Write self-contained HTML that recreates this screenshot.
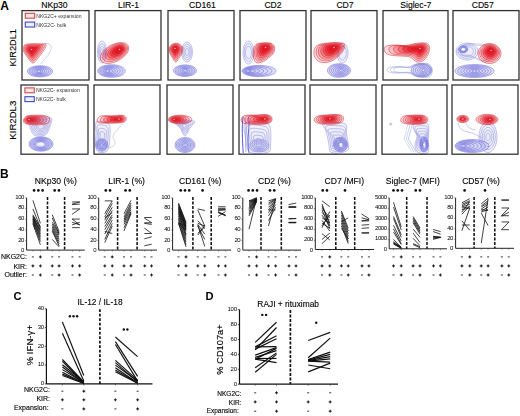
<!DOCTYPE html>
<html><head><meta charset="utf-8"><style>
html,body{margin:0;padding:0;background:#fff;width:520px;height:416px;overflow:hidden}
svg{display:block;font-family:"Liberation Sans", sans-serif}
</style></head><body>
<svg width="520" height="416" viewBox="0 0 520 416">
<defs>
<filter id="soft" x="-5%" y="-5%" width="110%" height="110%"><feGaussianBlur stdDeviation="0.35"/></filter>
</defs>
<rect width="520" height="416" fill="#fff"/>
<text x="0.3" y="9.7" font-size="12" font-weight="bold" fill="#000" >A</text>
<text x="54.4" y="7.6" font-size="8.6" text-anchor="middle" fill="#000" stroke="#000" stroke-width="0.12" >NKp30</text>
<text x="128.4" y="7.6" font-size="8.6" text-anchor="middle" fill="#000" stroke="#000" stroke-width="0.12" >LIR-1</text>
<text x="202.4" y="7.6" font-size="8.6" text-anchor="middle" fill="#000" stroke="#000" stroke-width="0.12" >CD161</text>
<text x="273" y="7.6" font-size="8.6" text-anchor="middle" fill="#000" stroke="#000" stroke-width="0.12" >CD2</text>
<text x="345" y="7.6" font-size="8.6" text-anchor="middle" fill="#000" stroke="#000" stroke-width="0.12" >CD7</text>
<text x="415.8" y="7.6" font-size="8.6" text-anchor="middle" fill="#000" stroke="#000" stroke-width="0.12" >Siglec-7</text>
<text x="482.7" y="7.6" font-size="8.6" text-anchor="middle" fill="#000" stroke="#000" stroke-width="0.12" >CD57</text>
<text x="0" y="0" font-size="9.6" text-anchor="middle" fill="#000" stroke="#000" stroke-width="0.12" transform="translate(15.7,47.8) rotate(-90)" textLength="37.3" lengthAdjust="spacingAndGlyphs">KIR2DL1</text>
<text x="0" y="0" font-size="9.6" text-anchor="middle" fill="#000" stroke="#000" stroke-width="0.12" transform="translate(15.8,120.2) rotate(-90)" textLength="39" lengthAdjust="spacingAndGlyphs">KIR2DL3</text>
<g filter="url(#soft)">
<path d="M44,44 C50,42 53,46 50,52 C47,58 43,60 41,64" fill="none" stroke="#a8b8e4" stroke-width="0.6"/>
<path d="M52.60,71.30 C52.60,72.23 51.96,73.29 50.91,74.10 C49.86,74.91 48.12,75.68 46.30,76.15 C44.48,76.62 42.10,76.90 40.00,76.90 C37.90,76.90 35.52,76.62 33.70,76.15 C31.88,75.68 30.14,74.91 29.09,74.10 C28.04,73.29 27.40,72.23 27.40,71.30 C27.40,70.37 28.04,69.31 29.09,68.50 C30.14,67.69 31.88,66.92 33.70,66.45 C35.52,65.98 37.90,65.70 40.00,65.70 C42.10,65.70 44.48,65.98 46.30,66.45 C48.12,66.92 49.86,67.69 50.91,68.50 C51.96,69.31 52.60,70.37 52.60,71.30Z" transform="translate(39.00,71.30) scale(1.000) translate(-39.00,-71.30)" fill="#9c9cea" fill-opacity="0.320" stroke="#5e5ed4" stroke-width="0.500"/>
<path d="M52.60,71.30 C52.60,72.23 51.96,73.29 50.91,74.10 C49.86,74.91 48.12,75.68 46.30,76.15 C44.48,76.62 42.10,76.90 40.00,76.90 C37.90,76.90 35.52,76.62 33.70,76.15 C31.88,75.68 30.14,74.91 29.09,74.10 C28.04,73.29 27.40,72.23 27.40,71.30 C27.40,70.37 28.04,69.31 29.09,68.50 C30.14,67.69 31.88,66.92 33.70,66.45 C35.52,65.98 37.90,65.70 40.00,65.70 C42.10,65.70 44.48,65.98 46.30,66.45 C48.12,66.92 49.86,67.69 50.91,68.50 C51.96,69.31 52.60,70.37 52.60,71.30Z" transform="translate(39.00,71.30) scale(0.858) translate(-39.00,-71.30)" fill="#9c9cea" fill-opacity="0.050" stroke="#5e5ed4" stroke-width="0.583"/>
<path d="M52.60,71.30 C52.60,72.23 51.96,73.29 50.91,74.10 C49.86,74.91 48.12,75.68 46.30,76.15 C44.48,76.62 42.10,76.90 40.00,76.90 C37.90,76.90 35.52,76.62 33.70,76.15 C31.88,75.68 30.14,74.91 29.09,74.10 C28.04,73.29 27.40,72.23 27.40,71.30 C27.40,70.37 28.04,69.31 29.09,68.50 C30.14,67.69 31.88,66.92 33.70,66.45 C35.52,65.98 37.90,65.70 40.00,65.70 C42.10,65.70 44.48,65.98 46.30,66.45 C48.12,66.92 49.86,67.69 50.91,68.50 C51.96,69.31 52.60,70.37 52.60,71.30Z" transform="translate(39.00,71.30) scale(0.717) translate(-39.00,-71.30)" fill="#9c9cea" fill-opacity="0.050" stroke="#5e5ed4" stroke-width="0.698"/>
<path d="M52.60,71.30 C52.60,72.23 51.96,73.29 50.91,74.10 C49.86,74.91 48.12,75.68 46.30,76.15 C44.48,76.62 42.10,76.90 40.00,76.90 C37.90,76.90 35.52,76.62 33.70,76.15 C31.88,75.68 30.14,74.91 29.09,74.10 C28.04,73.29 27.40,72.23 27.40,71.30 C27.40,70.37 28.04,69.31 29.09,68.50 C30.14,67.69 31.88,66.92 33.70,66.45 C35.52,65.98 37.90,65.70 40.00,65.70 C42.10,65.70 44.48,65.98 46.30,66.45 C48.12,66.92 49.86,67.69 50.91,68.50 C51.96,69.31 52.60,70.37 52.60,71.30Z" transform="translate(39.00,71.30) scale(0.575) translate(-39.00,-71.30)" fill="#9c9cea" fill-opacity="0.050" stroke="#5e5ed4" stroke-width="0.870"/>
<path d="M52.60,71.30 C52.60,72.23 51.96,73.29 50.91,74.10 C49.86,74.91 48.12,75.68 46.30,76.15 C44.48,76.62 42.10,76.90 40.00,76.90 C37.90,76.90 35.52,76.62 33.70,76.15 C31.88,75.68 30.14,74.91 29.09,74.10 C28.04,73.29 27.40,72.23 27.40,71.30 C27.40,70.37 28.04,69.31 29.09,68.50 C30.14,67.69 31.88,66.92 33.70,66.45 C35.52,65.98 37.90,65.70 40.00,65.70 C42.10,65.70 44.48,65.98 46.30,66.45 C48.12,66.92 49.86,67.69 50.91,68.50 C51.96,69.31 52.60,70.37 52.60,71.30Z" transform="translate(39.00,71.30) scale(0.433) translate(-39.00,-71.30)" fill="#9c9cea" fill-opacity="0.067" stroke="#5e5ed4" stroke-width="1.154"/>
<path d="M52.60,71.30 C52.60,72.23 51.96,73.29 50.91,74.10 C49.86,74.91 48.12,75.68 46.30,76.15 C44.48,76.62 42.10,76.90 40.00,76.90 C37.90,76.90 35.52,76.62 33.70,76.15 C31.88,75.68 30.14,74.91 29.09,74.10 C28.04,73.29 27.40,72.23 27.40,71.30 C27.40,70.37 28.04,69.31 29.09,68.50 C30.14,67.69 31.88,66.92 33.70,66.45 C35.52,65.98 37.90,65.70 40.00,65.70 C42.10,65.70 44.48,65.98 46.30,66.45 C48.12,66.92 49.86,67.69 50.91,68.50 C51.96,69.31 52.60,70.37 52.60,71.30Z" transform="translate(39.00,71.30) scale(0.292) translate(-39.00,-71.30)" fill="#9c9cea" fill-opacity="0.083" stroke="#5e5ed4" stroke-width="1.714"/>
<path d="M52.60,71.30 C52.60,72.23 51.96,73.29 50.91,74.10 C49.86,74.91 48.12,75.68 46.30,76.15 C44.48,76.62 42.10,76.90 40.00,76.90 C37.90,76.90 35.52,76.62 33.70,76.15 C31.88,75.68 30.14,74.91 29.09,74.10 C28.04,73.29 27.40,72.23 27.40,71.30 C27.40,70.37 28.04,69.31 29.09,68.50 C30.14,67.69 31.88,66.92 33.70,66.45 C35.52,65.98 37.90,65.70 40.00,65.70 C42.10,65.70 44.48,65.98 46.30,66.45 C48.12,66.92 49.86,67.69 50.91,68.50 C51.96,69.31 52.60,70.37 52.60,71.30Z" transform="translate(39.00,71.30) scale(0.150) translate(-39.00,-71.30)" fill="#9c9cea" fill-opacity="0.100" stroke="#5e5ed4" stroke-width="3.333"/>
<circle cx="39.00" cy="71.30" r="0.8" fill="#f4f4ff" opacity="0.85"/>
<path d="M24.00,45.50 C25.08,44.30 27.33,44.08 30.00,43.80 C32.67,43.52 37.33,43.68 40.00,43.80 C42.67,43.92 45.33,43.47 46.00,44.50 C46.67,45.53 45.33,47.75 44.00,50.00 C42.67,52.25 39.83,55.83 38.00,58.00 C36.17,60.17 34.67,63.00 33.00,63.00 C31.33,63.00 29.58,60.00 28.00,58.00 C26.42,56.00 24.17,53.08 23.50,51.00 C22.83,48.92 22.92,46.70 24.00,45.50Z" transform="translate(31.50,49.50) scale(1.000) translate(-31.50,-49.50)" fill="#e8121e" fill-opacity="0.130" stroke="#d41a24" stroke-width="0.500"/>
<path d="M24.00,45.50 C25.08,44.30 27.33,44.08 30.00,43.80 C32.67,43.52 37.33,43.68 40.00,43.80 C42.67,43.92 45.33,43.47 46.00,44.50 C46.67,45.53 45.33,47.75 44.00,50.00 C42.67,52.25 39.83,55.83 38.00,58.00 C36.17,60.17 34.67,63.00 33.00,63.00 C31.33,63.00 29.58,60.00 28.00,58.00 C26.42,56.00 24.17,53.08 23.50,51.00 C22.83,48.92 22.92,46.70 24.00,45.50Z" transform="translate(31.50,49.50) scale(0.871) translate(-31.50,-49.50)" fill="#e8121e" fill-opacity="0.130" stroke="#d41a24" stroke-width="0.574"/>
<path d="M24.00,45.50 C25.08,44.30 27.33,44.08 30.00,43.80 C32.67,43.52 37.33,43.68 40.00,43.80 C42.67,43.92 45.33,43.47 46.00,44.50 C46.67,45.53 45.33,47.75 44.00,50.00 C42.67,52.25 39.83,55.83 38.00,58.00 C36.17,60.17 34.67,63.00 33.00,63.00 C31.33,63.00 29.58,60.00 28.00,58.00 C26.42,56.00 24.17,53.08 23.50,51.00 C22.83,48.92 22.92,46.70 24.00,45.50Z" transform="translate(31.50,49.50) scale(0.743) translate(-31.50,-49.50)" fill="#e8121e" fill-opacity="0.237" stroke="#d41a24" stroke-width="0.673"/>
<path d="M24.00,45.50 C25.08,44.30 27.33,44.08 30.00,43.80 C32.67,43.52 37.33,43.68 40.00,43.80 C42.67,43.92 45.33,43.47 46.00,44.50 C46.67,45.53 45.33,47.75 44.00,50.00 C42.67,52.25 39.83,55.83 38.00,58.00 C36.17,60.17 34.67,63.00 33.00,63.00 C31.33,63.00 29.58,60.00 28.00,58.00 C26.42,56.00 24.17,53.08 23.50,51.00 C22.83,48.92 22.92,46.70 24.00,45.50Z" transform="translate(31.50,49.50) scale(0.614) translate(-31.50,-49.50)" fill="#e8121e" fill-opacity="0.350" stroke="#d41a24" stroke-width="0.814"/>
<path d="M24.00,45.50 C25.08,44.30 27.33,44.08 30.00,43.80 C32.67,43.52 37.33,43.68 40.00,43.80 C42.67,43.92 45.33,43.47 46.00,44.50 C46.67,45.53 45.33,47.75 44.00,50.00 C42.67,52.25 39.83,55.83 38.00,58.00 C36.17,60.17 34.67,63.00 33.00,63.00 C31.33,63.00 29.58,60.00 28.00,58.00 C26.42,56.00 24.17,53.08 23.50,51.00 C22.83,48.92 22.92,46.70 24.00,45.50Z" transform="translate(31.50,49.50) scale(0.486) translate(-31.50,-49.50)" fill="#e8121e" fill-opacity="0.462" stroke="#d41a24" stroke-width="1.029"/>
<path d="M24.00,45.50 C25.08,44.30 27.33,44.08 30.00,43.80 C32.67,43.52 37.33,43.68 40.00,43.80 C42.67,43.92 45.33,43.47 46.00,44.50 C46.67,45.53 45.33,47.75 44.00,50.00 C42.67,52.25 39.83,55.83 38.00,58.00 C36.17,60.17 34.67,63.00 33.00,63.00 C31.33,63.00 29.58,60.00 28.00,58.00 C26.42,56.00 24.17,53.08 23.50,51.00 C22.83,48.92 22.92,46.70 24.00,45.50Z" transform="translate(31.50,49.50) scale(0.357) translate(-31.50,-49.50)" fill="#e8121e" fill-opacity="0.575" stroke="#d41a24" stroke-width="1.400"/>
<path d="M24.00,45.50 C25.08,44.30 27.33,44.08 30.00,43.80 C32.67,43.52 37.33,43.68 40.00,43.80 C42.67,43.92 45.33,43.47 46.00,44.50 C46.67,45.53 45.33,47.75 44.00,50.00 C42.67,52.25 39.83,55.83 38.00,58.00 C36.17,60.17 34.67,63.00 33.00,63.00 C31.33,63.00 29.58,60.00 28.00,58.00 C26.42,56.00 24.17,53.08 23.50,51.00 C22.83,48.92 22.92,46.70 24.00,45.50Z" transform="translate(31.50,49.50) scale(0.229) translate(-31.50,-49.50)" fill="#e8121e" fill-opacity="0.687" stroke="#d41a24" stroke-width="2.187"/>
<path d="M24.00,45.50 C25.08,44.30 27.33,44.08 30.00,43.80 C32.67,43.52 37.33,43.68 40.00,43.80 C42.67,43.92 45.33,43.47 46.00,44.50 C46.67,45.53 45.33,47.75 44.00,50.00 C42.67,52.25 39.83,55.83 38.00,58.00 C36.17,60.17 34.67,63.00 33.00,63.00 C31.33,63.00 29.58,60.00 28.00,58.00 C26.42,56.00 24.17,53.08 23.50,51.00 C22.83,48.92 22.92,46.70 24.00,45.50Z" transform="translate(31.50,49.50) scale(0.100) translate(-31.50,-49.50)" fill="#e8121e" fill-opacity="0.800" stroke="#d41a24" stroke-width="5.000"/>
<circle cx="31.50" cy="49.50" r="0.8" fill="#ffc8c8" opacity="0.85"/>
<path d="M106.50,52.00 C106.50,53.83 106.27,55.91 105.90,57.50 C105.52,59.09 104.90,60.61 104.25,61.53 C103.60,62.44 102.75,63.00 102.00,63.00 C101.25,63.00 100.40,62.44 99.75,61.53 C99.10,60.61 98.48,59.09 98.10,57.50 C97.73,55.91 97.50,53.83 97.50,52.00 C97.50,50.17 97.73,48.09 98.10,46.50 C98.48,44.91 99.10,43.39 99.75,42.47 C100.40,41.56 101.25,41.00 102.00,41.00 C102.75,41.00 103.60,41.56 104.25,42.47 C104.90,43.39 105.52,44.91 105.90,46.50 C106.27,48.09 106.50,50.17 106.50,52.00Z" transform="translate(102.00,52.00) scale(1.000) translate(-102.00,-52.00)" fill="#b0b0ee" fill-opacity="0.160" stroke="#7a7ad8" stroke-width="0.450"/>
<path d="M106.50,52.00 C106.50,53.83 106.27,55.91 105.90,57.50 C105.52,59.09 104.90,60.61 104.25,61.53 C103.60,62.44 102.75,63.00 102.00,63.00 C101.25,63.00 100.40,62.44 99.75,61.53 C99.10,60.61 98.48,59.09 98.10,57.50 C97.73,55.91 97.50,53.83 97.50,52.00 C97.50,50.17 97.73,48.09 98.10,46.50 C98.48,44.91 99.10,43.39 99.75,42.47 C100.40,41.56 101.25,41.00 102.00,41.00 C102.75,41.00 103.60,41.56 104.25,42.47 C104.90,43.39 105.52,44.91 105.90,46.50 C106.27,48.09 106.50,50.17 106.50,52.00Z" transform="translate(102.00,52.00) scale(0.767) translate(-102.00,-52.00)" fill="#b0b0ee" fill-opacity="0.030" stroke="#7a7ad8" stroke-width="0.587"/>
<path d="M106.50,52.00 C106.50,53.83 106.27,55.91 105.90,57.50 C105.52,59.09 104.90,60.61 104.25,61.53 C103.60,62.44 102.75,63.00 102.00,63.00 C101.25,63.00 100.40,62.44 99.75,61.53 C99.10,60.61 98.48,59.09 98.10,57.50 C97.73,55.91 97.50,53.83 97.50,52.00 C97.50,50.17 97.73,48.09 98.10,46.50 C98.48,44.91 99.10,43.39 99.75,42.47 C100.40,41.56 101.25,41.00 102.00,41.00 C102.75,41.00 103.60,41.56 104.25,42.47 C104.90,43.39 105.52,44.91 105.90,46.50 C106.27,48.09 106.50,50.17 106.50,52.00Z" transform="translate(102.00,52.00) scale(0.533) translate(-102.00,-52.00)" fill="#b0b0ee" fill-opacity="0.037" stroke="#7a7ad8" stroke-width="0.844"/>
<path d="M106.50,52.00 C106.50,53.83 106.27,55.91 105.90,57.50 C105.52,59.09 104.90,60.61 104.25,61.53 C103.60,62.44 102.75,63.00 102.00,63.00 C101.25,63.00 100.40,62.44 99.75,61.53 C99.10,60.61 98.48,59.09 98.10,57.50 C97.73,55.91 97.50,53.83 97.50,52.00 C97.50,50.17 97.73,48.09 98.10,46.50 C98.48,44.91 99.10,43.39 99.75,42.47 C100.40,41.56 101.25,41.00 102.00,41.00 C102.75,41.00 103.60,41.56 104.25,42.47 C104.90,43.39 105.52,44.91 105.90,46.50 C106.27,48.09 106.50,50.17 106.50,52.00Z" transform="translate(102.00,52.00) scale(0.300) translate(-102.00,-52.00)" fill="#b0b0ee" fill-opacity="0.050" stroke="#7a7ad8" stroke-width="1.500"/>
<path d="M125.30,71.00 C125.30,72.05 124.60,73.24 123.45,74.15 C122.30,75.06 120.39,75.93 118.40,76.46 C116.41,76.98 113.80,77.30 111.50,77.30 C109.20,77.30 106.59,76.98 104.60,76.46 C102.61,75.93 100.70,75.06 99.55,74.15 C98.40,73.24 97.70,72.05 97.70,71.00 C97.70,69.95 98.40,68.76 99.55,67.85 C100.70,66.94 102.61,66.07 104.60,65.54 C106.59,65.02 109.20,64.70 111.50,64.70 C113.80,64.70 116.41,65.02 118.40,65.54 C120.39,66.07 122.30,66.94 123.45,67.85 C124.60,68.76 125.30,69.95 125.30,71.00Z" transform="translate(107.50,71.00) scale(1.000) translate(-107.50,-71.00)" fill="#9c9cea" fill-opacity="0.320" stroke="#5e5ed4" stroke-width="0.500"/>
<path d="M125.30,71.00 C125.30,72.05 124.60,73.24 123.45,74.15 C122.30,75.06 120.39,75.93 118.40,76.46 C116.41,76.98 113.80,77.30 111.50,77.30 C109.20,77.30 106.59,76.98 104.60,76.46 C102.61,75.93 100.70,75.06 99.55,74.15 C98.40,73.24 97.70,72.05 97.70,71.00 C97.70,69.95 98.40,68.76 99.55,67.85 C100.70,66.94 102.61,66.07 104.60,65.54 C106.59,65.02 109.20,64.70 111.50,64.70 C113.80,64.70 116.41,65.02 118.40,65.54 C120.39,66.07 122.30,66.94 123.45,67.85 C124.60,68.76 125.30,69.95 125.30,71.00Z" transform="translate(107.50,71.00) scale(0.858) translate(-107.50,-71.00)" fill="#9c9cea" fill-opacity="0.050" stroke="#5e5ed4" stroke-width="0.583"/>
<path d="M125.30,71.00 C125.30,72.05 124.60,73.24 123.45,74.15 C122.30,75.06 120.39,75.93 118.40,76.46 C116.41,76.98 113.80,77.30 111.50,77.30 C109.20,77.30 106.59,76.98 104.60,76.46 C102.61,75.93 100.70,75.06 99.55,74.15 C98.40,73.24 97.70,72.05 97.70,71.00 C97.70,69.95 98.40,68.76 99.55,67.85 C100.70,66.94 102.61,66.07 104.60,65.54 C106.59,65.02 109.20,64.70 111.50,64.70 C113.80,64.70 116.41,65.02 118.40,65.54 C120.39,66.07 122.30,66.94 123.45,67.85 C124.60,68.76 125.30,69.95 125.30,71.00Z" transform="translate(107.50,71.00) scale(0.717) translate(-107.50,-71.00)" fill="#9c9cea" fill-opacity="0.050" stroke="#5e5ed4" stroke-width="0.698"/>
<path d="M125.30,71.00 C125.30,72.05 124.60,73.24 123.45,74.15 C122.30,75.06 120.39,75.93 118.40,76.46 C116.41,76.98 113.80,77.30 111.50,77.30 C109.20,77.30 106.59,76.98 104.60,76.46 C102.61,75.93 100.70,75.06 99.55,74.15 C98.40,73.24 97.70,72.05 97.70,71.00 C97.70,69.95 98.40,68.76 99.55,67.85 C100.70,66.94 102.61,66.07 104.60,65.54 C106.59,65.02 109.20,64.70 111.50,64.70 C113.80,64.70 116.41,65.02 118.40,65.54 C120.39,66.07 122.30,66.94 123.45,67.85 C124.60,68.76 125.30,69.95 125.30,71.00Z" transform="translate(107.50,71.00) scale(0.575) translate(-107.50,-71.00)" fill="#9c9cea" fill-opacity="0.050" stroke="#5e5ed4" stroke-width="0.870"/>
<path d="M125.30,71.00 C125.30,72.05 124.60,73.24 123.45,74.15 C122.30,75.06 120.39,75.93 118.40,76.46 C116.41,76.98 113.80,77.30 111.50,77.30 C109.20,77.30 106.59,76.98 104.60,76.46 C102.61,75.93 100.70,75.06 99.55,74.15 C98.40,73.24 97.70,72.05 97.70,71.00 C97.70,69.95 98.40,68.76 99.55,67.85 C100.70,66.94 102.61,66.07 104.60,65.54 C106.59,65.02 109.20,64.70 111.50,64.70 C113.80,64.70 116.41,65.02 118.40,65.54 C120.39,66.07 122.30,66.94 123.45,67.85 C124.60,68.76 125.30,69.95 125.30,71.00Z" transform="translate(107.50,71.00) scale(0.433) translate(-107.50,-71.00)" fill="#9c9cea" fill-opacity="0.067" stroke="#5e5ed4" stroke-width="1.154"/>
<path d="M125.30,71.00 C125.30,72.05 124.60,73.24 123.45,74.15 C122.30,75.06 120.39,75.93 118.40,76.46 C116.41,76.98 113.80,77.30 111.50,77.30 C109.20,77.30 106.59,76.98 104.60,76.46 C102.61,75.93 100.70,75.06 99.55,74.15 C98.40,73.24 97.70,72.05 97.70,71.00 C97.70,69.95 98.40,68.76 99.55,67.85 C100.70,66.94 102.61,66.07 104.60,65.54 C106.59,65.02 109.20,64.70 111.50,64.70 C113.80,64.70 116.41,65.02 118.40,65.54 C120.39,66.07 122.30,66.94 123.45,67.85 C124.60,68.76 125.30,69.95 125.30,71.00Z" transform="translate(107.50,71.00) scale(0.292) translate(-107.50,-71.00)" fill="#9c9cea" fill-opacity="0.083" stroke="#5e5ed4" stroke-width="1.714"/>
<path d="M125.30,71.00 C125.30,72.05 124.60,73.24 123.45,74.15 C122.30,75.06 120.39,75.93 118.40,76.46 C116.41,76.98 113.80,77.30 111.50,77.30 C109.20,77.30 106.59,76.98 104.60,76.46 C102.61,75.93 100.70,75.06 99.55,74.15 C98.40,73.24 97.70,72.05 97.70,71.00 C97.70,69.95 98.40,68.76 99.55,67.85 C100.70,66.94 102.61,66.07 104.60,65.54 C106.59,65.02 109.20,64.70 111.50,64.70 C113.80,64.70 116.41,65.02 118.40,65.54 C120.39,66.07 122.30,66.94 123.45,67.85 C124.60,68.76 125.30,69.95 125.30,71.00Z" transform="translate(107.50,71.00) scale(0.150) translate(-107.50,-71.00)" fill="#9c9cea" fill-opacity="0.100" stroke="#5e5ed4" stroke-width="3.333"/>
<circle cx="107.50" cy="71.00" r="0.8" fill="#f4f4ff" opacity="0.85"/>
<path d="M128.19,45.72 C128.85,46.97 128.91,48.76 128.35,50.45 C127.78,52.14 126.44,54.19 124.80,55.86 C123.16,57.54 120.77,59.29 118.49,60.51 C116.21,61.72 113.42,62.71 111.11,63.14 C108.81,63.56 106.36,63.53 104.64,63.05 C102.93,62.58 101.48,61.53 100.81,60.28 C100.15,59.03 100.09,57.24 100.65,55.55 C101.22,53.86 102.56,51.81 104.20,50.14 C105.84,48.46 108.23,46.71 110.51,45.49 C112.79,44.28 115.58,43.29 117.89,42.86 C120.19,42.44 122.64,42.47 124.36,42.95 C126.07,43.42 127.52,44.47 128.19,45.72Z" transform="translate(119.50,49.50) scale(1.000) translate(-119.50,-49.50)" fill="#e8121e" fill-opacity="0.130" stroke="#d41a24" stroke-width="0.500"/>
<path d="M128.19,45.72 C128.85,46.97 128.91,48.76 128.35,50.45 C127.78,52.14 126.44,54.19 124.80,55.86 C123.16,57.54 120.77,59.29 118.49,60.51 C116.21,61.72 113.42,62.71 111.11,63.14 C108.81,63.56 106.36,63.53 104.64,63.05 C102.93,62.58 101.48,61.53 100.81,60.28 C100.15,59.03 100.09,57.24 100.65,55.55 C101.22,53.86 102.56,51.81 104.20,50.14 C105.84,48.46 108.23,46.71 110.51,45.49 C112.79,44.28 115.58,43.29 117.89,42.86 C120.19,42.44 122.64,42.47 124.36,42.95 C126.07,43.42 127.52,44.47 128.19,45.72Z" transform="translate(119.50,49.50) scale(0.874) translate(-119.50,-49.50)" fill="#e8121e" fill-opacity="0.130" stroke="#d41a24" stroke-width="0.572"/>
<path d="M128.19,45.72 C128.85,46.97 128.91,48.76 128.35,50.45 C127.78,52.14 126.44,54.19 124.80,55.86 C123.16,57.54 120.77,59.29 118.49,60.51 C116.21,61.72 113.42,62.71 111.11,63.14 C108.81,63.56 106.36,63.53 104.64,63.05 C102.93,62.58 101.48,61.53 100.81,60.28 C100.15,59.03 100.09,57.24 100.65,55.55 C101.22,53.86 102.56,51.81 104.20,50.14 C105.84,48.46 108.23,46.71 110.51,45.49 C112.79,44.28 115.58,43.29 117.89,42.86 C120.19,42.44 122.64,42.47 124.36,42.95 C126.07,43.42 127.52,44.47 128.19,45.72Z" transform="translate(119.50,49.50) scale(0.749) translate(-119.50,-49.50)" fill="#e8121e" fill-opacity="0.237" stroke="#d41a24" stroke-width="0.668"/>
<path d="M128.19,45.72 C128.85,46.97 128.91,48.76 128.35,50.45 C127.78,52.14 126.44,54.19 124.80,55.86 C123.16,57.54 120.77,59.29 118.49,60.51 C116.21,61.72 113.42,62.71 111.11,63.14 C108.81,63.56 106.36,63.53 104.64,63.05 C102.93,62.58 101.48,61.53 100.81,60.28 C100.15,59.03 100.09,57.24 100.65,55.55 C101.22,53.86 102.56,51.81 104.20,50.14 C105.84,48.46 108.23,46.71 110.51,45.49 C112.79,44.28 115.58,43.29 117.89,42.86 C120.19,42.44 122.64,42.47 124.36,42.95 C126.07,43.42 127.52,44.47 128.19,45.72Z" transform="translate(119.50,49.50) scale(0.623) translate(-119.50,-49.50)" fill="#e8121e" fill-opacity="0.350" stroke="#d41a24" stroke-width="0.803"/>
<path d="M128.19,45.72 C128.85,46.97 128.91,48.76 128.35,50.45 C127.78,52.14 126.44,54.19 124.80,55.86 C123.16,57.54 120.77,59.29 118.49,60.51 C116.21,61.72 113.42,62.71 111.11,63.14 C108.81,63.56 106.36,63.53 104.64,63.05 C102.93,62.58 101.48,61.53 100.81,60.28 C100.15,59.03 100.09,57.24 100.65,55.55 C101.22,53.86 102.56,51.81 104.20,50.14 C105.84,48.46 108.23,46.71 110.51,45.49 C112.79,44.28 115.58,43.29 117.89,42.86 C120.19,42.44 122.64,42.47 124.36,42.95 C126.07,43.42 127.52,44.47 128.19,45.72Z" transform="translate(119.50,49.50) scale(0.497) translate(-119.50,-49.50)" fill="#e8121e" fill-opacity="0.462" stroke="#d41a24" stroke-width="1.006"/>
<path d="M128.19,45.72 C128.85,46.97 128.91,48.76 128.35,50.45 C127.78,52.14 126.44,54.19 124.80,55.86 C123.16,57.54 120.77,59.29 118.49,60.51 C116.21,61.72 113.42,62.71 111.11,63.14 C108.81,63.56 106.36,63.53 104.64,63.05 C102.93,62.58 101.48,61.53 100.81,60.28 C100.15,59.03 100.09,57.24 100.65,55.55 C101.22,53.86 102.56,51.81 104.20,50.14 C105.84,48.46 108.23,46.71 110.51,45.49 C112.79,44.28 115.58,43.29 117.89,42.86 C120.19,42.44 122.64,42.47 124.36,42.95 C126.07,43.42 127.52,44.47 128.19,45.72Z" transform="translate(119.50,49.50) scale(0.371) translate(-119.50,-49.50)" fill="#e8121e" fill-opacity="0.575" stroke="#d41a24" stroke-width="1.346"/>
<path d="M128.19,45.72 C128.85,46.97 128.91,48.76 128.35,50.45 C127.78,52.14 126.44,54.19 124.80,55.86 C123.16,57.54 120.77,59.29 118.49,60.51 C116.21,61.72 113.42,62.71 111.11,63.14 C108.81,63.56 106.36,63.53 104.64,63.05 C102.93,62.58 101.48,61.53 100.81,60.28 C100.15,59.03 100.09,57.24 100.65,55.55 C101.22,53.86 102.56,51.81 104.20,50.14 C105.84,48.46 108.23,46.71 110.51,45.49 C112.79,44.28 115.58,43.29 117.89,42.86 C120.19,42.44 122.64,42.47 124.36,42.95 C126.07,43.42 127.52,44.47 128.19,45.72Z" transform="translate(119.50,49.50) scale(0.246) translate(-119.50,-49.50)" fill="#e8121e" fill-opacity="0.687" stroke="#d41a24" stroke-width="2.035"/>
<path d="M128.19,45.72 C128.85,46.97 128.91,48.76 128.35,50.45 C127.78,52.14 126.44,54.19 124.80,55.86 C123.16,57.54 120.77,59.29 118.49,60.51 C116.21,61.72 113.42,62.71 111.11,63.14 C108.81,63.56 106.36,63.53 104.64,63.05 C102.93,62.58 101.48,61.53 100.81,60.28 C100.15,59.03 100.09,57.24 100.65,55.55 C101.22,53.86 102.56,51.81 104.20,50.14 C105.84,48.46 108.23,46.71 110.51,45.49 C112.79,44.28 115.58,43.29 117.89,42.86 C120.19,42.44 122.64,42.47 124.36,42.95 C126.07,43.42 127.52,44.47 128.19,45.72Z" transform="translate(119.50,49.50) scale(0.120) translate(-119.50,-49.50)" fill="#e8121e" fill-opacity="0.800" stroke="#d41a24" stroke-width="4.167"/>
<circle cx="119.50" cy="49.50" r="0.8" fill="#ffc8c8" opacity="0.85"/>
<path d="M192.50,52.00 C192.50,53.67 192.22,55.56 191.76,57.00 C191.30,58.44 190.54,59.83 189.75,60.66 C188.96,61.49 187.92,62.00 187.00,62.00 C186.08,62.00 185.04,61.49 184.25,60.66 C183.46,59.83 182.70,58.44 182.24,57.00 C181.78,55.56 181.50,53.67 181.50,52.00 C181.50,50.33 181.78,48.44 182.24,47.00 C182.70,45.56 183.46,44.17 184.25,43.34 C185.04,42.51 186.08,42.00 187.00,42.00 C187.92,42.00 188.96,42.51 189.75,43.34 C190.54,44.17 191.30,45.56 191.76,47.00 C192.22,48.44 192.50,50.33 192.50,52.00Z" transform="translate(187.00,52.00) scale(1.000) translate(-187.00,-52.00)" fill="#b0b0ee" fill-opacity="0.160" stroke="#7a7ad8" stroke-width="0.450"/>
<path d="M192.50,52.00 C192.50,53.67 192.22,55.56 191.76,57.00 C191.30,58.44 190.54,59.83 189.75,60.66 C188.96,61.49 187.92,62.00 187.00,62.00 C186.08,62.00 185.04,61.49 184.25,60.66 C183.46,59.83 182.70,58.44 182.24,57.00 C181.78,55.56 181.50,53.67 181.50,52.00 C181.50,50.33 181.78,48.44 182.24,47.00 C182.70,45.56 183.46,44.17 184.25,43.34 C185.04,42.51 186.08,42.00 187.00,42.00 C187.92,42.00 188.96,42.51 189.75,43.34 C190.54,44.17 191.30,45.56 191.76,47.00 C192.22,48.44 192.50,50.33 192.50,52.00Z" transform="translate(187.00,52.00) scale(0.783) translate(-187.00,-52.00)" fill="#b0b0ee" fill-opacity="0.030" stroke="#7a7ad8" stroke-width="0.574"/>
<path d="M192.50,52.00 C192.50,53.67 192.22,55.56 191.76,57.00 C191.30,58.44 190.54,59.83 189.75,60.66 C188.96,61.49 187.92,62.00 187.00,62.00 C186.08,62.00 185.04,61.49 184.25,60.66 C183.46,59.83 182.70,58.44 182.24,57.00 C181.78,55.56 181.50,53.67 181.50,52.00 C181.50,50.33 181.78,48.44 182.24,47.00 C182.70,45.56 183.46,44.17 184.25,43.34 C185.04,42.51 186.08,42.00 187.00,42.00 C187.92,42.00 188.96,42.51 189.75,43.34 C190.54,44.17 191.30,45.56 191.76,47.00 C192.22,48.44 192.50,50.33 192.50,52.00Z" transform="translate(187.00,52.00) scale(0.567) translate(-187.00,-52.00)" fill="#b0b0ee" fill-opacity="0.037" stroke="#7a7ad8" stroke-width="0.794"/>
<path d="M192.50,52.00 C192.50,53.67 192.22,55.56 191.76,57.00 C191.30,58.44 190.54,59.83 189.75,60.66 C188.96,61.49 187.92,62.00 187.00,62.00 C186.08,62.00 185.04,61.49 184.25,60.66 C183.46,59.83 182.70,58.44 182.24,57.00 C181.78,55.56 181.50,53.67 181.50,52.00 C181.50,50.33 181.78,48.44 182.24,47.00 C182.70,45.56 183.46,44.17 184.25,43.34 C185.04,42.51 186.08,42.00 187.00,42.00 C187.92,42.00 188.96,42.51 189.75,43.34 C190.54,44.17 191.30,45.56 191.76,47.00 C192.22,48.44 192.50,50.33 192.50,52.00Z" transform="translate(187.00,52.00) scale(0.350) translate(-187.00,-52.00)" fill="#b0b0ee" fill-opacity="0.050" stroke="#7a7ad8" stroke-width="1.286"/>
<path d="M196.50,70.70 C196.50,71.67 195.92,72.76 194.96,73.60 C194.00,74.44 192.41,75.24 190.75,75.72 C189.09,76.21 186.92,76.50 185.00,76.50 C183.08,76.50 180.91,76.21 179.25,75.72 C177.59,75.24 176.00,74.44 175.04,73.60 C174.08,72.76 173.50,71.67 173.50,70.70 C173.50,69.73 174.08,68.64 175.04,67.80 C176.00,66.96 177.59,66.16 179.25,65.68 C180.91,65.19 183.08,64.90 185.00,64.90 C186.92,64.90 189.09,65.19 190.75,65.68 C192.41,66.16 194.00,66.96 194.96,67.80 C195.92,68.64 196.50,69.73 196.50,70.70Z" transform="translate(185.00,70.70) scale(1.000) translate(-185.00,-70.70)" fill="#9c9cea" fill-opacity="0.320" stroke="#5e5ed4" stroke-width="0.500"/>
<path d="M196.50,70.70 C196.50,71.67 195.92,72.76 194.96,73.60 C194.00,74.44 192.41,75.24 190.75,75.72 C189.09,76.21 186.92,76.50 185.00,76.50 C183.08,76.50 180.91,76.21 179.25,75.72 C177.59,75.24 176.00,74.44 175.04,73.60 C174.08,72.76 173.50,71.67 173.50,70.70 C173.50,69.73 174.08,68.64 175.04,67.80 C176.00,66.96 177.59,66.16 179.25,65.68 C180.91,65.19 183.08,64.90 185.00,64.90 C186.92,64.90 189.09,65.19 190.75,65.68 C192.41,66.16 194.00,66.96 194.96,67.80 C195.92,68.64 196.50,69.73 196.50,70.70Z" transform="translate(185.00,70.70) scale(0.853) translate(-185.00,-70.70)" fill="#9c9cea" fill-opacity="0.050" stroke="#5e5ed4" stroke-width="0.586"/>
<path d="M196.50,70.70 C196.50,71.67 195.92,72.76 194.96,73.60 C194.00,74.44 192.41,75.24 190.75,75.72 C189.09,76.21 186.92,76.50 185.00,76.50 C183.08,76.50 180.91,76.21 179.25,75.72 C177.59,75.24 176.00,74.44 175.04,73.60 C174.08,72.76 173.50,71.67 173.50,70.70 C173.50,69.73 174.08,68.64 175.04,67.80 C176.00,66.96 177.59,66.16 179.25,65.68 C180.91,65.19 183.08,64.90 185.00,64.90 C186.92,64.90 189.09,65.19 190.75,65.68 C192.41,66.16 194.00,66.96 194.96,67.80 C195.92,68.64 196.50,69.73 196.50,70.70Z" transform="translate(185.00,70.70) scale(0.707) translate(-185.00,-70.70)" fill="#9c9cea" fill-opacity="0.050" stroke="#5e5ed4" stroke-width="0.708"/>
<path d="M196.50,70.70 C196.50,71.67 195.92,72.76 194.96,73.60 C194.00,74.44 192.41,75.24 190.75,75.72 C189.09,76.21 186.92,76.50 185.00,76.50 C183.08,76.50 180.91,76.21 179.25,75.72 C177.59,75.24 176.00,74.44 175.04,73.60 C174.08,72.76 173.50,71.67 173.50,70.70 C173.50,69.73 174.08,68.64 175.04,67.80 C176.00,66.96 177.59,66.16 179.25,65.68 C180.91,65.19 183.08,64.90 185.00,64.90 C186.92,64.90 189.09,65.19 190.75,65.68 C192.41,66.16 194.00,66.96 194.96,67.80 C195.92,68.64 196.50,69.73 196.50,70.70Z" transform="translate(185.00,70.70) scale(0.560) translate(-185.00,-70.70)" fill="#9c9cea" fill-opacity="0.050" stroke="#5e5ed4" stroke-width="0.893"/>
<path d="M196.50,70.70 C196.50,71.67 195.92,72.76 194.96,73.60 C194.00,74.44 192.41,75.24 190.75,75.72 C189.09,76.21 186.92,76.50 185.00,76.50 C183.08,76.50 180.91,76.21 179.25,75.72 C177.59,75.24 176.00,74.44 175.04,73.60 C174.08,72.76 173.50,71.67 173.50,70.70 C173.50,69.73 174.08,68.64 175.04,67.80 C176.00,66.96 177.59,66.16 179.25,65.68 C180.91,65.19 183.08,64.90 185.00,64.90 C186.92,64.90 189.09,65.19 190.75,65.68 C192.41,66.16 194.00,66.96 194.96,67.80 C195.92,68.64 196.50,69.73 196.50,70.70Z" transform="translate(185.00,70.70) scale(0.413) translate(-185.00,-70.70)" fill="#9c9cea" fill-opacity="0.067" stroke="#5e5ed4" stroke-width="1.210"/>
<path d="M196.50,70.70 C196.50,71.67 195.92,72.76 194.96,73.60 C194.00,74.44 192.41,75.24 190.75,75.72 C189.09,76.21 186.92,76.50 185.00,76.50 C183.08,76.50 180.91,76.21 179.25,75.72 C177.59,75.24 176.00,74.44 175.04,73.60 C174.08,72.76 173.50,71.67 173.50,70.70 C173.50,69.73 174.08,68.64 175.04,67.80 C176.00,66.96 177.59,66.16 179.25,65.68 C180.91,65.19 183.08,64.90 185.00,64.90 C186.92,64.90 189.09,65.19 190.75,65.68 C192.41,66.16 194.00,66.96 194.96,67.80 C195.92,68.64 196.50,69.73 196.50,70.70Z" transform="translate(185.00,70.70) scale(0.267) translate(-185.00,-70.70)" fill="#9c9cea" fill-opacity="0.083" stroke="#5e5ed4" stroke-width="1.875"/>
<path d="M196.50,70.70 C196.50,71.67 195.92,72.76 194.96,73.60 C194.00,74.44 192.41,75.24 190.75,75.72 C189.09,76.21 186.92,76.50 185.00,76.50 C183.08,76.50 180.91,76.21 179.25,75.72 C177.59,75.24 176.00,74.44 175.04,73.60 C174.08,72.76 173.50,71.67 173.50,70.70 C173.50,69.73 174.08,68.64 175.04,67.80 C176.00,66.96 177.59,66.16 179.25,65.68 C180.91,65.19 183.08,64.90 185.00,64.90 C186.92,64.90 189.09,65.19 190.75,65.68 C192.41,66.16 194.00,66.96 194.96,67.80 C195.92,68.64 196.50,69.73 196.50,70.70Z" transform="translate(185.00,70.70) scale(0.120) translate(-185.00,-70.70)" fill="#9c9cea" fill-opacity="0.100" stroke="#5e5ed4" stroke-width="4.167"/>
<circle cx="185.00" cy="70.70" r="0.8" fill="#f4f4ff" opacity="0.85"/>
<path d="M169.50,47.00 C170.17,45.80 171.58,44.38 173.00,43.80 C174.42,43.22 176.42,42.97 178.00,43.50 C179.58,44.03 181.83,45.42 182.50,47.00 C183.17,48.58 182.67,51.00 182.00,53.00 C181.33,55.00 179.58,57.50 178.50,59.00 C177.42,60.50 176.58,62.33 175.50,62.00 C174.42,61.67 173.08,58.83 172.00,57.00 C170.92,55.17 169.42,52.67 169.00,51.00 C168.58,49.33 168.83,48.20 169.50,47.00Z" transform="translate(175.00,48.50) scale(1.000) translate(-175.00,-48.50)" fill="#e8121e" fill-opacity="0.130" stroke="#d41a24" stroke-width="0.500"/>
<path d="M169.50,47.00 C170.17,45.80 171.58,44.38 173.00,43.80 C174.42,43.22 176.42,42.97 178.00,43.50 C179.58,44.03 181.83,45.42 182.50,47.00 C183.17,48.58 182.67,51.00 182.00,53.00 C181.33,55.00 179.58,57.50 178.50,59.00 C177.42,60.50 176.58,62.33 175.50,62.00 C174.42,61.67 173.08,58.83 172.00,57.00 C170.92,55.17 169.42,52.67 169.00,51.00 C168.58,49.33 168.83,48.20 169.50,47.00Z" transform="translate(175.00,48.50) scale(0.871) translate(-175.00,-48.50)" fill="#e8121e" fill-opacity="0.130" stroke="#d41a24" stroke-width="0.574"/>
<path d="M169.50,47.00 C170.17,45.80 171.58,44.38 173.00,43.80 C174.42,43.22 176.42,42.97 178.00,43.50 C179.58,44.03 181.83,45.42 182.50,47.00 C183.17,48.58 182.67,51.00 182.00,53.00 C181.33,55.00 179.58,57.50 178.50,59.00 C177.42,60.50 176.58,62.33 175.50,62.00 C174.42,61.67 173.08,58.83 172.00,57.00 C170.92,55.17 169.42,52.67 169.00,51.00 C168.58,49.33 168.83,48.20 169.50,47.00Z" transform="translate(175.00,48.50) scale(0.743) translate(-175.00,-48.50)" fill="#e8121e" fill-opacity="0.237" stroke="#d41a24" stroke-width="0.673"/>
<path d="M169.50,47.00 C170.17,45.80 171.58,44.38 173.00,43.80 C174.42,43.22 176.42,42.97 178.00,43.50 C179.58,44.03 181.83,45.42 182.50,47.00 C183.17,48.58 182.67,51.00 182.00,53.00 C181.33,55.00 179.58,57.50 178.50,59.00 C177.42,60.50 176.58,62.33 175.50,62.00 C174.42,61.67 173.08,58.83 172.00,57.00 C170.92,55.17 169.42,52.67 169.00,51.00 C168.58,49.33 168.83,48.20 169.50,47.00Z" transform="translate(175.00,48.50) scale(0.614) translate(-175.00,-48.50)" fill="#e8121e" fill-opacity="0.350" stroke="#d41a24" stroke-width="0.814"/>
<path d="M169.50,47.00 C170.17,45.80 171.58,44.38 173.00,43.80 C174.42,43.22 176.42,42.97 178.00,43.50 C179.58,44.03 181.83,45.42 182.50,47.00 C183.17,48.58 182.67,51.00 182.00,53.00 C181.33,55.00 179.58,57.50 178.50,59.00 C177.42,60.50 176.58,62.33 175.50,62.00 C174.42,61.67 173.08,58.83 172.00,57.00 C170.92,55.17 169.42,52.67 169.00,51.00 C168.58,49.33 168.83,48.20 169.50,47.00Z" transform="translate(175.00,48.50) scale(0.486) translate(-175.00,-48.50)" fill="#e8121e" fill-opacity="0.462" stroke="#d41a24" stroke-width="1.029"/>
<path d="M169.50,47.00 C170.17,45.80 171.58,44.38 173.00,43.80 C174.42,43.22 176.42,42.97 178.00,43.50 C179.58,44.03 181.83,45.42 182.50,47.00 C183.17,48.58 182.67,51.00 182.00,53.00 C181.33,55.00 179.58,57.50 178.50,59.00 C177.42,60.50 176.58,62.33 175.50,62.00 C174.42,61.67 173.08,58.83 172.00,57.00 C170.92,55.17 169.42,52.67 169.00,51.00 C168.58,49.33 168.83,48.20 169.50,47.00Z" transform="translate(175.00,48.50) scale(0.357) translate(-175.00,-48.50)" fill="#e8121e" fill-opacity="0.575" stroke="#d41a24" stroke-width="1.400"/>
<path d="M169.50,47.00 C170.17,45.80 171.58,44.38 173.00,43.80 C174.42,43.22 176.42,42.97 178.00,43.50 C179.58,44.03 181.83,45.42 182.50,47.00 C183.17,48.58 182.67,51.00 182.00,53.00 C181.33,55.00 179.58,57.50 178.50,59.00 C177.42,60.50 176.58,62.33 175.50,62.00 C174.42,61.67 173.08,58.83 172.00,57.00 C170.92,55.17 169.42,52.67 169.00,51.00 C168.58,49.33 168.83,48.20 169.50,47.00Z" transform="translate(175.00,48.50) scale(0.229) translate(-175.00,-48.50)" fill="#e8121e" fill-opacity="0.687" stroke="#d41a24" stroke-width="2.187"/>
<path d="M169.50,47.00 C170.17,45.80 171.58,44.38 173.00,43.80 C174.42,43.22 176.42,42.97 178.00,43.50 C179.58,44.03 181.83,45.42 182.50,47.00 C183.17,48.58 182.67,51.00 182.00,53.00 C181.33,55.00 179.58,57.50 178.50,59.00 C177.42,60.50 176.58,62.33 175.50,62.00 C174.42,61.67 173.08,58.83 172.00,57.00 C170.92,55.17 169.42,52.67 169.00,51.00 C168.58,49.33 168.83,48.20 169.50,47.00Z" transform="translate(175.00,48.50) scale(0.100) translate(-175.00,-48.50)" fill="#e8121e" fill-opacity="0.800" stroke="#d41a24" stroke-width="5.000"/>
<circle cx="175.00" cy="48.50" r="0.8" fill="#ffc8c8" opacity="0.85"/>
<path d="M254.00,52.50 C254.00,54.42 253.72,56.59 253.26,58.25 C252.80,59.91 252.04,61.50 251.25,62.46 C250.46,63.42 249.42,64.00 248.50,64.00 C247.58,64.00 246.54,63.42 245.75,62.46 C244.96,61.50 244.20,59.91 243.74,58.25 C243.28,56.59 243.00,54.42 243.00,52.50 C243.00,50.58 243.28,48.41 243.74,46.75 C244.20,45.09 244.96,43.50 245.75,42.54 C246.54,41.58 247.58,41.00 248.50,41.00 C249.42,41.00 250.46,41.58 251.25,42.54 C252.04,43.50 252.80,45.09 253.26,46.75 C253.72,48.41 254.00,50.58 254.00,52.50Z" transform="translate(248.50,52.50) scale(1.000) translate(-248.50,-52.50)" fill="#b0b0ee" fill-opacity="0.160" stroke="#7a7ad8" stroke-width="0.450"/>
<path d="M254.00,52.50 C254.00,54.42 253.72,56.59 253.26,58.25 C252.80,59.91 252.04,61.50 251.25,62.46 C250.46,63.42 249.42,64.00 248.50,64.00 C247.58,64.00 246.54,63.42 245.75,62.46 C244.96,61.50 244.20,59.91 243.74,58.25 C243.28,56.59 243.00,54.42 243.00,52.50 C243.00,50.58 243.28,48.41 243.74,46.75 C244.20,45.09 244.96,43.50 245.75,42.54 C246.54,41.58 247.58,41.00 248.50,41.00 C249.42,41.00 250.46,41.58 251.25,42.54 C252.04,43.50 252.80,45.09 253.26,46.75 C253.72,48.41 254.00,50.58 254.00,52.50Z" transform="translate(248.50,52.50) scale(0.775) translate(-248.50,-52.50)" fill="#b0b0ee" fill-opacity="0.030" stroke="#7a7ad8" stroke-width="0.581"/>
<path d="M254.00,52.50 C254.00,54.42 253.72,56.59 253.26,58.25 C252.80,59.91 252.04,61.50 251.25,62.46 C250.46,63.42 249.42,64.00 248.50,64.00 C247.58,64.00 246.54,63.42 245.75,62.46 C244.96,61.50 244.20,59.91 243.74,58.25 C243.28,56.59 243.00,54.42 243.00,52.50 C243.00,50.58 243.28,48.41 243.74,46.75 C244.20,45.09 244.96,43.50 245.75,42.54 C246.54,41.58 247.58,41.00 248.50,41.00 C249.42,41.00 250.46,41.58 251.25,42.54 C252.04,43.50 252.80,45.09 253.26,46.75 C253.72,48.41 254.00,50.58 254.00,52.50Z" transform="translate(248.50,52.50) scale(0.550) translate(-248.50,-52.50)" fill="#b0b0ee" fill-opacity="0.050" stroke="#7a7ad8" stroke-width="0.818"/>
<path d="M276.00,71.00 C276.00,71.93 275.14,72.99 273.72,73.80 C272.31,74.61 269.95,75.38 267.50,75.85 C265.05,76.32 261.83,76.60 259.00,76.60 C256.17,76.60 252.95,76.32 250.50,75.85 C248.05,75.38 245.69,74.61 244.28,73.80 C242.86,72.99 242.00,71.93 242.00,71.00 C242.00,70.07 242.86,69.01 244.28,68.20 C245.69,67.39 248.05,66.62 250.50,66.15 C252.95,65.68 256.17,65.40 259.00,65.40 C261.83,65.40 265.05,65.68 267.50,66.15 C269.95,66.62 272.31,67.39 273.72,68.20 C275.14,69.01 276.00,70.07 276.00,71.00Z" transform="translate(248.00,71.00) scale(1.000) translate(-248.00,-71.00)" fill="#9c9cea" fill-opacity="0.320" stroke="#5e5ed4" stroke-width="0.500"/>
<path d="M276.00,71.00 C276.00,71.93 275.14,72.99 273.72,73.80 C272.31,74.61 269.95,75.38 267.50,75.85 C265.05,76.32 261.83,76.60 259.00,76.60 C256.17,76.60 252.95,76.32 250.50,75.85 C248.05,75.38 245.69,74.61 244.28,73.80 C242.86,72.99 242.00,71.93 242.00,71.00 C242.00,70.07 242.86,69.01 244.28,68.20 C245.69,67.39 248.05,66.62 250.50,66.15 C252.95,65.68 256.17,65.40 259.00,65.40 C261.83,65.40 265.05,65.68 267.50,66.15 C269.95,66.62 272.31,67.39 273.72,68.20 C275.14,69.01 276.00,70.07 276.00,71.00Z" transform="translate(248.00,71.00) scale(0.853) translate(-248.00,-71.00)" fill="#9c9cea" fill-opacity="0.050" stroke="#5e5ed4" stroke-width="0.586"/>
<path d="M276.00,71.00 C276.00,71.93 275.14,72.99 273.72,73.80 C272.31,74.61 269.95,75.38 267.50,75.85 C265.05,76.32 261.83,76.60 259.00,76.60 C256.17,76.60 252.95,76.32 250.50,75.85 C248.05,75.38 245.69,74.61 244.28,73.80 C242.86,72.99 242.00,71.93 242.00,71.00 C242.00,70.07 242.86,69.01 244.28,68.20 C245.69,67.39 248.05,66.62 250.50,66.15 C252.95,65.68 256.17,65.40 259.00,65.40 C261.83,65.40 265.05,65.68 267.50,66.15 C269.95,66.62 272.31,67.39 273.72,68.20 C275.14,69.01 276.00,70.07 276.00,71.00Z" transform="translate(248.00,71.00) scale(0.707) translate(-248.00,-71.00)" fill="#9c9cea" fill-opacity="0.050" stroke="#5e5ed4" stroke-width="0.708"/>
<path d="M276.00,71.00 C276.00,71.93 275.14,72.99 273.72,73.80 C272.31,74.61 269.95,75.38 267.50,75.85 C265.05,76.32 261.83,76.60 259.00,76.60 C256.17,76.60 252.95,76.32 250.50,75.85 C248.05,75.38 245.69,74.61 244.28,73.80 C242.86,72.99 242.00,71.93 242.00,71.00 C242.00,70.07 242.86,69.01 244.28,68.20 C245.69,67.39 248.05,66.62 250.50,66.15 C252.95,65.68 256.17,65.40 259.00,65.40 C261.83,65.40 265.05,65.68 267.50,66.15 C269.95,66.62 272.31,67.39 273.72,68.20 C275.14,69.01 276.00,70.07 276.00,71.00Z" transform="translate(248.00,71.00) scale(0.560) translate(-248.00,-71.00)" fill="#9c9cea" fill-opacity="0.050" stroke="#5e5ed4" stroke-width="0.893"/>
<path d="M276.00,71.00 C276.00,71.93 275.14,72.99 273.72,73.80 C272.31,74.61 269.95,75.38 267.50,75.85 C265.05,76.32 261.83,76.60 259.00,76.60 C256.17,76.60 252.95,76.32 250.50,75.85 C248.05,75.38 245.69,74.61 244.28,73.80 C242.86,72.99 242.00,71.93 242.00,71.00 C242.00,70.07 242.86,69.01 244.28,68.20 C245.69,67.39 248.05,66.62 250.50,66.15 C252.95,65.68 256.17,65.40 259.00,65.40 C261.83,65.40 265.05,65.68 267.50,66.15 C269.95,66.62 272.31,67.39 273.72,68.20 C275.14,69.01 276.00,70.07 276.00,71.00Z" transform="translate(248.00,71.00) scale(0.413) translate(-248.00,-71.00)" fill="#9c9cea" fill-opacity="0.067" stroke="#5e5ed4" stroke-width="1.210"/>
<path d="M276.00,71.00 C276.00,71.93 275.14,72.99 273.72,73.80 C272.31,74.61 269.95,75.38 267.50,75.85 C265.05,76.32 261.83,76.60 259.00,76.60 C256.17,76.60 252.95,76.32 250.50,75.85 C248.05,75.38 245.69,74.61 244.28,73.80 C242.86,72.99 242.00,71.93 242.00,71.00 C242.00,70.07 242.86,69.01 244.28,68.20 C245.69,67.39 248.05,66.62 250.50,66.15 C252.95,65.68 256.17,65.40 259.00,65.40 C261.83,65.40 265.05,65.68 267.50,66.15 C269.95,66.62 272.31,67.39 273.72,68.20 C275.14,69.01 276.00,70.07 276.00,71.00Z" transform="translate(248.00,71.00) scale(0.267) translate(-248.00,-71.00)" fill="#9c9cea" fill-opacity="0.083" stroke="#5e5ed4" stroke-width="1.875"/>
<path d="M276.00,71.00 C276.00,71.93 275.14,72.99 273.72,73.80 C272.31,74.61 269.95,75.38 267.50,75.85 C265.05,76.32 261.83,76.60 259.00,76.60 C256.17,76.60 252.95,76.32 250.50,75.85 C248.05,75.38 245.69,74.61 244.28,73.80 C242.86,72.99 242.00,71.93 242.00,71.00 C242.00,70.07 242.86,69.01 244.28,68.20 C245.69,67.39 248.05,66.62 250.50,66.15 C252.95,65.68 256.17,65.40 259.00,65.40 C261.83,65.40 265.05,65.68 267.50,66.15 C269.95,66.62 272.31,67.39 273.72,68.20 C275.14,69.01 276.00,70.07 276.00,71.00Z" transform="translate(248.00,71.00) scale(0.120) translate(-248.00,-71.00)" fill="#9c9cea" fill-opacity="0.100" stroke="#5e5ed4" stroke-width="4.167"/>
<circle cx="248.00" cy="71.00" r="0.8" fill="#f4f4ff" opacity="0.85"/>
<path d="M253.50,50.00 C253.92,47.92 254.42,45.70 256.00,44.50 C257.58,43.30 260.50,43.00 263.00,42.80 C265.50,42.60 269.08,42.60 271.00,43.30 C272.92,44.00 274.08,45.38 274.50,47.00 C274.92,48.62 274.50,51.17 273.50,53.00 C272.50,54.83 270.42,56.50 268.50,58.00 C266.58,59.50 264.08,61.25 262.00,62.00 C259.92,62.75 257.42,63.33 256.00,62.50 C254.58,61.67 253.92,59.08 253.50,57.00 C253.08,54.92 253.08,52.08 253.50,50.00Z" transform="translate(265.50,47.50) scale(1.000) translate(-265.50,-47.50)" fill="#e8121e" fill-opacity="0.130" stroke="#d41a24" stroke-width="0.500"/>
<path d="M253.50,50.00 C253.92,47.92 254.42,45.70 256.00,44.50 C257.58,43.30 260.50,43.00 263.00,42.80 C265.50,42.60 269.08,42.60 271.00,43.30 C272.92,44.00 274.08,45.38 274.50,47.00 C274.92,48.62 274.50,51.17 273.50,53.00 C272.50,54.83 270.42,56.50 268.50,58.00 C266.58,59.50 264.08,61.25 262.00,62.00 C259.92,62.75 257.42,63.33 256.00,62.50 C254.58,61.67 253.92,59.08 253.50,57.00 C253.08,54.92 253.08,52.08 253.50,50.00Z" transform="translate(265.50,47.50) scale(0.887) translate(-265.50,-47.50)" fill="#e8121e" fill-opacity="0.130" stroke="#d41a24" stroke-width="0.563"/>
<path d="M253.50,50.00 C253.92,47.92 254.42,45.70 256.00,44.50 C257.58,43.30 260.50,43.00 263.00,42.80 C265.50,42.60 269.08,42.60 271.00,43.30 C272.92,44.00 274.08,45.38 274.50,47.00 C274.92,48.62 274.50,51.17 273.50,53.00 C272.50,54.83 270.42,56.50 268.50,58.00 C266.58,59.50 264.08,61.25 262.00,62.00 C259.92,62.75 257.42,63.33 256.00,62.50 C254.58,61.67 253.92,59.08 253.50,57.00 C253.08,54.92 253.08,52.08 253.50,50.00Z" transform="translate(265.50,47.50) scale(0.775) translate(-265.50,-47.50)" fill="#e8121e" fill-opacity="0.172" stroke="#d41a24" stroke-width="0.645"/>
<path d="M253.50,50.00 C253.92,47.92 254.42,45.70 256.00,44.50 C257.58,43.30 260.50,43.00 263.00,42.80 C265.50,42.60 269.08,42.60 271.00,43.30 C272.92,44.00 274.08,45.38 274.50,47.00 C274.92,48.62 274.50,51.17 273.50,53.00 C272.50,54.83 270.42,56.50 268.50,58.00 C266.58,59.50 264.08,61.25 262.00,62.00 C259.92,62.75 257.42,63.33 256.00,62.50 C254.58,61.67 253.92,59.08 253.50,57.00 C253.08,54.92 253.08,52.08 253.50,50.00Z" transform="translate(265.50,47.50) scale(0.662) translate(-265.50,-47.50)" fill="#e8121e" fill-opacity="0.277" stroke="#d41a24" stroke-width="0.755"/>
<path d="M253.50,50.00 C253.92,47.92 254.42,45.70 256.00,44.50 C257.58,43.30 260.50,43.00 263.00,42.80 C265.50,42.60 269.08,42.60 271.00,43.30 C272.92,44.00 274.08,45.38 274.50,47.00 C274.92,48.62 274.50,51.17 273.50,53.00 C272.50,54.83 270.42,56.50 268.50,58.00 C266.58,59.50 264.08,61.25 262.00,62.00 C259.92,62.75 257.42,63.33 256.00,62.50 C254.58,61.67 253.92,59.08 253.50,57.00 C253.08,54.92 253.08,52.08 253.50,50.00Z" transform="translate(265.50,47.50) scale(0.550) translate(-265.50,-47.50)" fill="#e8121e" fill-opacity="0.381" stroke="#d41a24" stroke-width="0.909"/>
<path d="M253.50,50.00 C253.92,47.92 254.42,45.70 256.00,44.50 C257.58,43.30 260.50,43.00 263.00,42.80 C265.50,42.60 269.08,42.60 271.00,43.30 C272.92,44.00 274.08,45.38 274.50,47.00 C274.92,48.62 274.50,51.17 273.50,53.00 C272.50,54.83 270.42,56.50 268.50,58.00 C266.58,59.50 264.08,61.25 262.00,62.00 C259.92,62.75 257.42,63.33 256.00,62.50 C254.58,61.67 253.92,59.08 253.50,57.00 C253.08,54.92 253.08,52.08 253.50,50.00Z" transform="translate(265.50,47.50) scale(0.438) translate(-265.50,-47.50)" fill="#e8121e" fill-opacity="0.486" stroke="#d41a24" stroke-width="1.143"/>
<path d="M253.50,50.00 C253.92,47.92 254.42,45.70 256.00,44.50 C257.58,43.30 260.50,43.00 263.00,42.80 C265.50,42.60 269.08,42.60 271.00,43.30 C272.92,44.00 274.08,45.38 274.50,47.00 C274.92,48.62 274.50,51.17 273.50,53.00 C272.50,54.83 270.42,56.50 268.50,58.00 C266.58,59.50 264.08,61.25 262.00,62.00 C259.92,62.75 257.42,63.33 256.00,62.50 C254.58,61.67 253.92,59.08 253.50,57.00 C253.08,54.92 253.08,52.08 253.50,50.00Z" transform="translate(265.50,47.50) scale(0.325) translate(-265.50,-47.50)" fill="#e8121e" fill-opacity="0.591" stroke="#d41a24" stroke-width="1.538"/>
<path d="M253.50,50.00 C253.92,47.92 254.42,45.70 256.00,44.50 C257.58,43.30 260.50,43.00 263.00,42.80 C265.50,42.60 269.08,42.60 271.00,43.30 C272.92,44.00 274.08,45.38 274.50,47.00 C274.92,48.62 274.50,51.17 273.50,53.00 C272.50,54.83 270.42,56.50 268.50,58.00 C266.58,59.50 264.08,61.25 262.00,62.00 C259.92,62.75 257.42,63.33 256.00,62.50 C254.58,61.67 253.92,59.08 253.50,57.00 C253.08,54.92 253.08,52.08 253.50,50.00Z" transform="translate(265.50,47.50) scale(0.213) translate(-265.50,-47.50)" fill="#e8121e" fill-opacity="0.695" stroke="#d41a24" stroke-width="2.353"/>
<path d="M253.50,50.00 C253.92,47.92 254.42,45.70 256.00,44.50 C257.58,43.30 260.50,43.00 263.00,42.80 C265.50,42.60 269.08,42.60 271.00,43.30 C272.92,44.00 274.08,45.38 274.50,47.00 C274.92,48.62 274.50,51.17 273.50,53.00 C272.50,54.83 270.42,56.50 268.50,58.00 C266.58,59.50 264.08,61.25 262.00,62.00 C259.92,62.75 257.42,63.33 256.00,62.50 C254.58,61.67 253.92,59.08 253.50,57.00 C253.08,54.92 253.08,52.08 253.50,50.00Z" transform="translate(265.50,47.50) scale(0.100) translate(-265.50,-47.50)" fill="#e8121e" fill-opacity="0.800" stroke="#d41a24" stroke-width="5.000"/>
<circle cx="265.50" cy="47.50" r="0.8" fill="#ffc8c8" opacity="0.85"/>
<path d="M348.00,53.00 C348.00,54.67 347.72,56.56 347.26,58.00 C346.80,59.44 346.04,60.83 345.25,61.66 C344.46,62.49 343.42,63.00 342.50,63.00 C341.58,63.00 340.54,62.49 339.75,61.66 C338.96,60.83 338.20,59.44 337.74,58.00 C337.28,56.56 337.00,54.67 337.00,53.00 C337.00,51.33 337.28,49.44 337.74,48.00 C338.20,46.56 338.96,45.17 339.75,44.34 C340.54,43.51 341.58,43.00 342.50,43.00 C343.42,43.00 344.46,43.51 345.25,44.34 C346.04,45.17 346.80,46.56 347.26,48.00 C347.72,49.44 348.00,51.33 348.00,53.00Z" transform="translate(342.50,53.00) scale(1.000) translate(-342.50,-53.00)" fill="#b0b0ee" fill-opacity="0.160" stroke="#7a7ad8" stroke-width="0.450"/>
<path d="M348.00,53.00 C348.00,54.67 347.72,56.56 347.26,58.00 C346.80,59.44 346.04,60.83 345.25,61.66 C344.46,62.49 343.42,63.00 342.50,63.00 C341.58,63.00 340.54,62.49 339.75,61.66 C338.96,60.83 338.20,59.44 337.74,58.00 C337.28,56.56 337.00,54.67 337.00,53.00 C337.00,51.33 337.28,49.44 337.74,48.00 C338.20,46.56 338.96,45.17 339.75,44.34 C340.54,43.51 341.58,43.00 342.50,43.00 C343.42,43.00 344.46,43.51 345.25,44.34 C346.04,45.17 346.80,46.56 347.26,48.00 C347.72,49.44 348.00,51.33 348.00,53.00Z" transform="translate(342.50,53.00) scale(0.700) translate(-342.50,-53.00)" fill="#b0b0ee" fill-opacity="0.050" stroke="#7a7ad8" stroke-width="0.643"/>
<path d="M350.50,70.50 C350.50,71.63 349.92,72.92 348.96,73.90 C348.00,74.88 346.41,75.82 344.75,76.39 C343.09,76.96 340.92,77.30 339.00,77.30 C337.08,77.30 334.91,76.96 333.25,76.39 C331.59,75.82 330.00,74.88 329.04,73.90 C328.08,72.92 327.50,71.63 327.50,70.50 C327.50,69.37 328.08,68.08 329.04,67.10 C330.00,66.12 331.59,65.18 333.25,64.61 C334.91,64.04 337.08,63.70 339.00,63.70 C340.92,63.70 343.09,64.04 344.75,64.61 C346.41,65.18 348.00,66.12 348.96,67.10 C349.92,68.08 350.50,69.37 350.50,70.50Z" transform="translate(341.00,70.50) scale(1.000) translate(-341.00,-70.50)" fill="#9c9cea" fill-opacity="0.320" stroke="#5e5ed4" stroke-width="0.500"/>
<path d="M350.50,70.50 C350.50,71.63 349.92,72.92 348.96,73.90 C348.00,74.88 346.41,75.82 344.75,76.39 C343.09,76.96 340.92,77.30 339.00,77.30 C337.08,77.30 334.91,76.96 333.25,76.39 C331.59,75.82 330.00,74.88 329.04,73.90 C328.08,72.92 327.50,71.63 327.50,70.50 C327.50,69.37 328.08,68.08 329.04,67.10 C330.00,66.12 331.59,65.18 333.25,64.61 C334.91,64.04 337.08,63.70 339.00,63.70 C340.92,63.70 343.09,64.04 344.75,64.61 C346.41,65.18 348.00,66.12 348.96,67.10 C349.92,68.08 350.50,69.37 350.50,70.50Z" transform="translate(341.00,70.50) scale(0.853) translate(-341.00,-70.50)" fill="#9c9cea" fill-opacity="0.050" stroke="#5e5ed4" stroke-width="0.586"/>
<path d="M350.50,70.50 C350.50,71.63 349.92,72.92 348.96,73.90 C348.00,74.88 346.41,75.82 344.75,76.39 C343.09,76.96 340.92,77.30 339.00,77.30 C337.08,77.30 334.91,76.96 333.25,76.39 C331.59,75.82 330.00,74.88 329.04,73.90 C328.08,72.92 327.50,71.63 327.50,70.50 C327.50,69.37 328.08,68.08 329.04,67.10 C330.00,66.12 331.59,65.18 333.25,64.61 C334.91,64.04 337.08,63.70 339.00,63.70 C340.92,63.70 343.09,64.04 344.75,64.61 C346.41,65.18 348.00,66.12 348.96,67.10 C349.92,68.08 350.50,69.37 350.50,70.50Z" transform="translate(341.00,70.50) scale(0.707) translate(-341.00,-70.50)" fill="#9c9cea" fill-opacity="0.050" stroke="#5e5ed4" stroke-width="0.708"/>
<path d="M350.50,70.50 C350.50,71.63 349.92,72.92 348.96,73.90 C348.00,74.88 346.41,75.82 344.75,76.39 C343.09,76.96 340.92,77.30 339.00,77.30 C337.08,77.30 334.91,76.96 333.25,76.39 C331.59,75.82 330.00,74.88 329.04,73.90 C328.08,72.92 327.50,71.63 327.50,70.50 C327.50,69.37 328.08,68.08 329.04,67.10 C330.00,66.12 331.59,65.18 333.25,64.61 C334.91,64.04 337.08,63.70 339.00,63.70 C340.92,63.70 343.09,64.04 344.75,64.61 C346.41,65.18 348.00,66.12 348.96,67.10 C349.92,68.08 350.50,69.37 350.50,70.50Z" transform="translate(341.00,70.50) scale(0.560) translate(-341.00,-70.50)" fill="#9c9cea" fill-opacity="0.050" stroke="#5e5ed4" stroke-width="0.893"/>
<path d="M350.50,70.50 C350.50,71.63 349.92,72.92 348.96,73.90 C348.00,74.88 346.41,75.82 344.75,76.39 C343.09,76.96 340.92,77.30 339.00,77.30 C337.08,77.30 334.91,76.96 333.25,76.39 C331.59,75.82 330.00,74.88 329.04,73.90 C328.08,72.92 327.50,71.63 327.50,70.50 C327.50,69.37 328.08,68.08 329.04,67.10 C330.00,66.12 331.59,65.18 333.25,64.61 C334.91,64.04 337.08,63.70 339.00,63.70 C340.92,63.70 343.09,64.04 344.75,64.61 C346.41,65.18 348.00,66.12 348.96,67.10 C349.92,68.08 350.50,69.37 350.50,70.50Z" transform="translate(341.00,70.50) scale(0.413) translate(-341.00,-70.50)" fill="#9c9cea" fill-opacity="0.067" stroke="#5e5ed4" stroke-width="1.210"/>
<path d="M350.50,70.50 C350.50,71.63 349.92,72.92 348.96,73.90 C348.00,74.88 346.41,75.82 344.75,76.39 C343.09,76.96 340.92,77.30 339.00,77.30 C337.08,77.30 334.91,76.96 333.25,76.39 C331.59,75.82 330.00,74.88 329.04,73.90 C328.08,72.92 327.50,71.63 327.50,70.50 C327.50,69.37 328.08,68.08 329.04,67.10 C330.00,66.12 331.59,65.18 333.25,64.61 C334.91,64.04 337.08,63.70 339.00,63.70 C340.92,63.70 343.09,64.04 344.75,64.61 C346.41,65.18 348.00,66.12 348.96,67.10 C349.92,68.08 350.50,69.37 350.50,70.50Z" transform="translate(341.00,70.50) scale(0.267) translate(-341.00,-70.50)" fill="#9c9cea" fill-opacity="0.083" stroke="#5e5ed4" stroke-width="1.875"/>
<path d="M350.50,70.50 C350.50,71.63 349.92,72.92 348.96,73.90 C348.00,74.88 346.41,75.82 344.75,76.39 C343.09,76.96 340.92,77.30 339.00,77.30 C337.08,77.30 334.91,76.96 333.25,76.39 C331.59,75.82 330.00,74.88 329.04,73.90 C328.08,72.92 327.50,71.63 327.50,70.50 C327.50,69.37 328.08,68.08 329.04,67.10 C330.00,66.12 331.59,65.18 333.25,64.61 C334.91,64.04 337.08,63.70 339.00,63.70 C340.92,63.70 343.09,64.04 344.75,64.61 C346.41,65.18 348.00,66.12 348.96,67.10 C349.92,68.08 350.50,69.37 350.50,70.50Z" transform="translate(341.00,70.50) scale(0.120) translate(-341.00,-70.50)" fill="#9c9cea" fill-opacity="0.100" stroke="#5e5ed4" stroke-width="4.167"/>
<circle cx="341.00" cy="70.50" r="0.8" fill="#f4f4ff" opacity="0.85"/>
<path d="M314.00,51.00 C314.33,49.00 315.00,46.80 317.00,45.50 C319.00,44.20 322.50,43.68 326.00,43.20 C329.50,42.72 334.92,42.38 338.00,42.60 C341.08,42.82 343.67,43.10 344.50,44.50 C345.33,45.90 344.25,48.83 343.00,51.00 C341.75,53.17 339.33,55.67 337.00,57.50 C334.67,59.33 331.83,61.25 329.00,62.00 C326.17,62.75 322.33,62.75 320.00,62.00 C317.67,61.25 316.00,59.33 315.00,57.50 C314.00,55.67 313.67,53.00 314.00,51.00Z" transform="translate(334.00,47.50) scale(1.000) translate(-334.00,-47.50)" fill="#e8121e" fill-opacity="0.130" stroke="#d41a24" stroke-width="0.500"/>
<path d="M314.00,51.00 C314.33,49.00 315.00,46.80 317.00,45.50 C319.00,44.20 322.50,43.68 326.00,43.20 C329.50,42.72 334.92,42.38 338.00,42.60 C341.08,42.82 343.67,43.10 344.50,44.50 C345.33,45.90 344.25,48.83 343.00,51.00 C341.75,53.17 339.33,55.67 337.00,57.50 C334.67,59.33 331.83,61.25 329.00,62.00 C326.17,62.75 322.33,62.75 320.00,62.00 C317.67,61.25 316.00,59.33 315.00,57.50 C314.00,55.67 313.67,53.00 314.00,51.00Z" transform="translate(334.00,47.50) scale(0.887) translate(-334.00,-47.50)" fill="#e8121e" fill-opacity="0.130" stroke="#d41a24" stroke-width="0.563"/>
<path d="M314.00,51.00 C314.33,49.00 315.00,46.80 317.00,45.50 C319.00,44.20 322.50,43.68 326.00,43.20 C329.50,42.72 334.92,42.38 338.00,42.60 C341.08,42.82 343.67,43.10 344.50,44.50 C345.33,45.90 344.25,48.83 343.00,51.00 C341.75,53.17 339.33,55.67 337.00,57.50 C334.67,59.33 331.83,61.25 329.00,62.00 C326.17,62.75 322.33,62.75 320.00,62.00 C317.67,61.25 316.00,59.33 315.00,57.50 C314.00,55.67 313.67,53.00 314.00,51.00Z" transform="translate(334.00,47.50) scale(0.775) translate(-334.00,-47.50)" fill="#e8121e" fill-opacity="0.172" stroke="#d41a24" stroke-width="0.645"/>
<path d="M314.00,51.00 C314.33,49.00 315.00,46.80 317.00,45.50 C319.00,44.20 322.50,43.68 326.00,43.20 C329.50,42.72 334.92,42.38 338.00,42.60 C341.08,42.82 343.67,43.10 344.50,44.50 C345.33,45.90 344.25,48.83 343.00,51.00 C341.75,53.17 339.33,55.67 337.00,57.50 C334.67,59.33 331.83,61.25 329.00,62.00 C326.17,62.75 322.33,62.75 320.00,62.00 C317.67,61.25 316.00,59.33 315.00,57.50 C314.00,55.67 313.67,53.00 314.00,51.00Z" transform="translate(334.00,47.50) scale(0.662) translate(-334.00,-47.50)" fill="#e8121e" fill-opacity="0.277" stroke="#d41a24" stroke-width="0.755"/>
<path d="M314.00,51.00 C314.33,49.00 315.00,46.80 317.00,45.50 C319.00,44.20 322.50,43.68 326.00,43.20 C329.50,42.72 334.92,42.38 338.00,42.60 C341.08,42.82 343.67,43.10 344.50,44.50 C345.33,45.90 344.25,48.83 343.00,51.00 C341.75,53.17 339.33,55.67 337.00,57.50 C334.67,59.33 331.83,61.25 329.00,62.00 C326.17,62.75 322.33,62.75 320.00,62.00 C317.67,61.25 316.00,59.33 315.00,57.50 C314.00,55.67 313.67,53.00 314.00,51.00Z" transform="translate(334.00,47.50) scale(0.550) translate(-334.00,-47.50)" fill="#e8121e" fill-opacity="0.381" stroke="#d41a24" stroke-width="0.909"/>
<path d="M314.00,51.00 C314.33,49.00 315.00,46.80 317.00,45.50 C319.00,44.20 322.50,43.68 326.00,43.20 C329.50,42.72 334.92,42.38 338.00,42.60 C341.08,42.82 343.67,43.10 344.50,44.50 C345.33,45.90 344.25,48.83 343.00,51.00 C341.75,53.17 339.33,55.67 337.00,57.50 C334.67,59.33 331.83,61.25 329.00,62.00 C326.17,62.75 322.33,62.75 320.00,62.00 C317.67,61.25 316.00,59.33 315.00,57.50 C314.00,55.67 313.67,53.00 314.00,51.00Z" transform="translate(334.00,47.50) scale(0.438) translate(-334.00,-47.50)" fill="#e8121e" fill-opacity="0.486" stroke="#d41a24" stroke-width="1.143"/>
<path d="M314.00,51.00 C314.33,49.00 315.00,46.80 317.00,45.50 C319.00,44.20 322.50,43.68 326.00,43.20 C329.50,42.72 334.92,42.38 338.00,42.60 C341.08,42.82 343.67,43.10 344.50,44.50 C345.33,45.90 344.25,48.83 343.00,51.00 C341.75,53.17 339.33,55.67 337.00,57.50 C334.67,59.33 331.83,61.25 329.00,62.00 C326.17,62.75 322.33,62.75 320.00,62.00 C317.67,61.25 316.00,59.33 315.00,57.50 C314.00,55.67 313.67,53.00 314.00,51.00Z" transform="translate(334.00,47.50) scale(0.325) translate(-334.00,-47.50)" fill="#e8121e" fill-opacity="0.591" stroke="#d41a24" stroke-width="1.538"/>
<path d="M314.00,51.00 C314.33,49.00 315.00,46.80 317.00,45.50 C319.00,44.20 322.50,43.68 326.00,43.20 C329.50,42.72 334.92,42.38 338.00,42.60 C341.08,42.82 343.67,43.10 344.50,44.50 C345.33,45.90 344.25,48.83 343.00,51.00 C341.75,53.17 339.33,55.67 337.00,57.50 C334.67,59.33 331.83,61.25 329.00,62.00 C326.17,62.75 322.33,62.75 320.00,62.00 C317.67,61.25 316.00,59.33 315.00,57.50 C314.00,55.67 313.67,53.00 314.00,51.00Z" transform="translate(334.00,47.50) scale(0.213) translate(-334.00,-47.50)" fill="#e8121e" fill-opacity="0.695" stroke="#d41a24" stroke-width="2.353"/>
<path d="M314.00,51.00 C314.33,49.00 315.00,46.80 317.00,45.50 C319.00,44.20 322.50,43.68 326.00,43.20 C329.50,42.72 334.92,42.38 338.00,42.60 C341.08,42.82 343.67,43.10 344.50,44.50 C345.33,45.90 344.25,48.83 343.00,51.00 C341.75,53.17 339.33,55.67 337.00,57.50 C334.67,59.33 331.83,61.25 329.00,62.00 C326.17,62.75 322.33,62.75 320.00,62.00 C317.67,61.25 316.00,59.33 315.00,57.50 C314.00,55.67 313.67,53.00 314.00,51.00Z" transform="translate(334.00,47.50) scale(0.100) translate(-334.00,-47.50)" fill="#e8121e" fill-opacity="0.800" stroke="#d41a24" stroke-width="5.000"/>
<circle cx="334.00" cy="47.50" r="0.8" fill="#ffc8c8" opacity="0.85"/>
<path d="M388.00,68.00 C389.33,67.17 392.67,66.67 396.00,66.50 C399.33,66.33 404.67,67.42 408.00,67.00 C411.33,66.58 412.67,64.58 416.00,64.00 C419.33,63.42 425.33,62.67 428.00,63.50 C430.67,64.33 431.67,66.83 432.00,69.00 C432.33,71.17 432.33,75.17 430.00,76.50 C427.67,77.83 421.67,77.58 418.00,77.00 C414.33,76.42 411.67,73.67 408.00,73.00 C404.33,72.33 399.33,73.25 396.00,73.00 C392.67,72.75 389.33,72.33 388.00,71.50 C386.67,70.67 386.67,68.83 388.00,68.00Z" transform="translate(420.00,70.00) scale(1.000) translate(-420.00,-70.00)" fill="#ffffff" fill-opacity="0.000" stroke="#a0a8dc" stroke-width="0.550"/>
<path d="M388.00,68.00 C389.33,67.17 392.67,66.67 396.00,66.50 C399.33,66.33 404.67,67.42 408.00,67.00 C411.33,66.58 412.67,64.58 416.00,64.00 C419.33,63.42 425.33,62.67 428.00,63.50 C430.67,64.33 431.67,66.83 432.00,69.00 C432.33,71.17 432.33,75.17 430.00,76.50 C427.67,77.83 421.67,77.58 418.00,77.00 C414.33,76.42 411.67,73.67 408.00,73.00 C404.33,72.33 399.33,73.25 396.00,73.00 C392.67,72.75 389.33,72.33 388.00,71.50 C386.67,70.67 386.67,68.83 388.00,68.00Z" transform="translate(420.00,70.00) scale(0.900) translate(-420.00,-70.00)" fill="#ffffff" fill-opacity="0.000" stroke="#a0a8dc" stroke-width="0.611"/>
<path d="M388.00,68.00 C389.33,67.17 392.67,66.67 396.00,66.50 C399.33,66.33 404.67,67.42 408.00,67.00 C411.33,66.58 412.67,64.58 416.00,64.00 C419.33,63.42 425.33,62.67 428.00,63.50 C430.67,64.33 431.67,66.83 432.00,69.00 C432.33,71.17 432.33,75.17 430.00,76.50 C427.67,77.83 421.67,77.58 418.00,77.00 C414.33,76.42 411.67,73.67 408.00,73.00 C404.33,72.33 399.33,73.25 396.00,73.00 C392.67,72.75 389.33,72.33 388.00,71.50 C386.67,70.67 386.67,68.83 388.00,68.00Z" transform="translate(420.00,70.00) scale(0.800) translate(-420.00,-70.00)" fill="#ffffff" fill-opacity="0.000" stroke="#a0a8dc" stroke-width="0.688"/>
<path d="M432.00,70.20 C432.00,71.32 431.47,72.58 430.59,73.55 C429.72,74.52 428.27,75.44 426.75,76.00 C425.23,76.56 423.25,76.90 421.50,76.90 C419.75,76.90 417.77,76.56 416.25,76.00 C414.73,75.44 413.28,74.52 412.41,73.55 C411.53,72.58 411.00,71.32 411.00,70.20 C411.00,69.08 411.53,67.82 412.41,66.85 C413.28,65.88 414.73,64.96 416.25,64.40 C417.77,63.84 419.75,63.50 421.50,63.50 C423.25,63.50 425.23,63.84 426.75,64.40 C428.27,64.96 429.72,65.88 430.59,66.85 C431.47,67.82 432.00,69.08 432.00,70.20Z" transform="translate(423.50,70.20) scale(1.000) translate(-423.50,-70.20)" fill="#9c9cea" fill-opacity="0.320" stroke="#5e5ed4" stroke-width="0.500"/>
<path d="M432.00,70.20 C432.00,71.32 431.47,72.58 430.59,73.55 C429.72,74.52 428.27,75.44 426.75,76.00 C425.23,76.56 423.25,76.90 421.50,76.90 C419.75,76.90 417.77,76.56 416.25,76.00 C414.73,75.44 413.28,74.52 412.41,73.55 C411.53,72.58 411.00,71.32 411.00,70.20 C411.00,69.08 411.53,67.82 412.41,66.85 C413.28,65.88 414.73,64.96 416.25,64.40 C417.77,63.84 419.75,63.50 421.50,63.50 C423.25,63.50 425.23,63.84 426.75,64.40 C428.27,64.96 429.72,65.88 430.59,66.85 C431.47,67.82 432.00,69.08 432.00,70.20Z" transform="translate(423.50,70.20) scale(0.830) translate(-423.50,-70.20)" fill="#9c9cea" fill-opacity="0.050" stroke="#5e5ed4" stroke-width="0.602"/>
<path d="M432.00,70.20 C432.00,71.32 431.47,72.58 430.59,73.55 C429.72,74.52 428.27,75.44 426.75,76.00 C425.23,76.56 423.25,76.90 421.50,76.90 C419.75,76.90 417.77,76.56 416.25,76.00 C414.73,75.44 413.28,74.52 412.41,73.55 C411.53,72.58 411.00,71.32 411.00,70.20 C411.00,69.08 411.53,67.82 412.41,66.85 C413.28,65.88 414.73,64.96 416.25,64.40 C417.77,63.84 419.75,63.50 421.50,63.50 C423.25,63.50 425.23,63.84 426.75,64.40 C428.27,64.96 429.72,65.88 430.59,66.85 C431.47,67.82 432.00,69.08 432.00,70.20Z" transform="translate(423.50,70.20) scale(0.660) translate(-423.50,-70.20)" fill="#9c9cea" fill-opacity="0.050" stroke="#5e5ed4" stroke-width="0.758"/>
<path d="M432.00,70.20 C432.00,71.32 431.47,72.58 430.59,73.55 C429.72,74.52 428.27,75.44 426.75,76.00 C425.23,76.56 423.25,76.90 421.50,76.90 C419.75,76.90 417.77,76.56 416.25,76.00 C414.73,75.44 413.28,74.52 412.41,73.55 C411.53,72.58 411.00,71.32 411.00,70.20 C411.00,69.08 411.53,67.82 412.41,66.85 C413.28,65.88 414.73,64.96 416.25,64.40 C417.77,63.84 419.75,63.50 421.50,63.50 C423.25,63.50 425.23,63.84 426.75,64.40 C428.27,64.96 429.72,65.88 430.59,66.85 C431.47,67.82 432.00,69.08 432.00,70.20Z" transform="translate(423.50,70.20) scale(0.490) translate(-423.50,-70.20)" fill="#9c9cea" fill-opacity="0.060" stroke="#5e5ed4" stroke-width="1.020"/>
<path d="M432.00,70.20 C432.00,71.32 431.47,72.58 430.59,73.55 C429.72,74.52 428.27,75.44 426.75,76.00 C425.23,76.56 423.25,76.90 421.50,76.90 C419.75,76.90 417.77,76.56 416.25,76.00 C414.73,75.44 413.28,74.52 412.41,73.55 C411.53,72.58 411.00,71.32 411.00,70.20 C411.00,69.08 411.53,67.82 412.41,66.85 C413.28,65.88 414.73,64.96 416.25,64.40 C417.77,63.84 419.75,63.50 421.50,63.50 C423.25,63.50 425.23,63.84 426.75,64.40 C428.27,64.96 429.72,65.88 430.59,66.85 C431.47,67.82 432.00,69.08 432.00,70.20Z" transform="translate(423.50,70.20) scale(0.320) translate(-423.50,-70.20)" fill="#9c9cea" fill-opacity="0.080" stroke="#5e5ed4" stroke-width="1.563"/>
<path d="M432.00,70.20 C432.00,71.32 431.47,72.58 430.59,73.55 C429.72,74.52 428.27,75.44 426.75,76.00 C425.23,76.56 423.25,76.90 421.50,76.90 C419.75,76.90 417.77,76.56 416.25,76.00 C414.73,75.44 413.28,74.52 412.41,73.55 C411.53,72.58 411.00,71.32 411.00,70.20 C411.00,69.08 411.53,67.82 412.41,66.85 C413.28,65.88 414.73,64.96 416.25,64.40 C417.77,63.84 419.75,63.50 421.50,63.50 C423.25,63.50 425.23,63.84 426.75,64.40 C428.27,64.96 429.72,65.88 430.59,66.85 C431.47,67.82 432.00,69.08 432.00,70.20Z" transform="translate(423.50,70.20) scale(0.150) translate(-423.50,-70.20)" fill="#9c9cea" fill-opacity="0.100" stroke="#5e5ed4" stroke-width="3.333"/>
<circle cx="423.50" cy="70.20" r="0.8" fill="#f4f4ff" opacity="0.85"/>
<path d="M385.00,47.00 C386.33,45.83 389.67,45.25 393.00,45.00 C396.33,44.75 401.67,45.67 405.00,45.50 C408.33,45.33 410.17,44.45 413.00,44.00 C415.83,43.55 419.42,42.72 422.00,42.80 C424.58,42.88 427.33,42.97 428.50,44.50 C429.67,46.03 429.75,49.42 429.00,52.00 C428.25,54.58 426.00,58.33 424.00,60.00 C422.00,61.67 419.33,62.50 417.00,62.00 C414.67,61.50 412.83,58.00 410.00,57.00 C407.17,56.00 403.33,56.33 400.00,56.00 C396.67,55.67 392.50,55.67 390.00,55.00 C387.50,54.33 385.83,53.33 385.00,52.00 C384.17,50.67 383.67,48.17 385.00,47.00Z" transform="translate(420.00,48.50) scale(1.000) translate(-420.00,-48.50)" fill="#e8121e" fill-opacity="0.130" stroke="#d41a24" stroke-width="0.500"/>
<path d="M385.00,47.00 C386.33,45.83 389.67,45.25 393.00,45.00 C396.33,44.75 401.67,45.67 405.00,45.50 C408.33,45.33 410.17,44.45 413.00,44.00 C415.83,43.55 419.42,42.72 422.00,42.80 C424.58,42.88 427.33,42.97 428.50,44.50 C429.67,46.03 429.75,49.42 429.00,52.00 C428.25,54.58 426.00,58.33 424.00,60.00 C422.00,61.67 419.33,62.50 417.00,62.00 C414.67,61.50 412.83,58.00 410.00,57.00 C407.17,56.00 403.33,56.33 400.00,56.00 C396.67,55.67 392.50,55.67 390.00,55.00 C387.50,54.33 385.83,53.33 385.00,52.00 C384.17,50.67 383.67,48.17 385.00,47.00Z" transform="translate(420.00,48.50) scale(0.871) translate(-420.00,-48.50)" fill="#e8121e" fill-opacity="0.130" stroke="#d41a24" stroke-width="0.574"/>
<path d="M385.00,47.00 C386.33,45.83 389.67,45.25 393.00,45.00 C396.33,44.75 401.67,45.67 405.00,45.50 C408.33,45.33 410.17,44.45 413.00,44.00 C415.83,43.55 419.42,42.72 422.00,42.80 C424.58,42.88 427.33,42.97 428.50,44.50 C429.67,46.03 429.75,49.42 429.00,52.00 C428.25,54.58 426.00,58.33 424.00,60.00 C422.00,61.67 419.33,62.50 417.00,62.00 C414.67,61.50 412.83,58.00 410.00,57.00 C407.17,56.00 403.33,56.33 400.00,56.00 C396.67,55.67 392.50,55.67 390.00,55.00 C387.50,54.33 385.83,53.33 385.00,52.00 C384.17,50.67 383.67,48.17 385.00,47.00Z" transform="translate(420.00,48.50) scale(0.743) translate(-420.00,-48.50)" fill="#e8121e" fill-opacity="0.237" stroke="#d41a24" stroke-width="0.673"/>
<path d="M385.00,47.00 C386.33,45.83 389.67,45.25 393.00,45.00 C396.33,44.75 401.67,45.67 405.00,45.50 C408.33,45.33 410.17,44.45 413.00,44.00 C415.83,43.55 419.42,42.72 422.00,42.80 C424.58,42.88 427.33,42.97 428.50,44.50 C429.67,46.03 429.75,49.42 429.00,52.00 C428.25,54.58 426.00,58.33 424.00,60.00 C422.00,61.67 419.33,62.50 417.00,62.00 C414.67,61.50 412.83,58.00 410.00,57.00 C407.17,56.00 403.33,56.33 400.00,56.00 C396.67,55.67 392.50,55.67 390.00,55.00 C387.50,54.33 385.83,53.33 385.00,52.00 C384.17,50.67 383.67,48.17 385.00,47.00Z" transform="translate(420.00,48.50) scale(0.614) translate(-420.00,-48.50)" fill="#e8121e" fill-opacity="0.350" stroke="#d41a24" stroke-width="0.814"/>
<path d="M385.00,47.00 C386.33,45.83 389.67,45.25 393.00,45.00 C396.33,44.75 401.67,45.67 405.00,45.50 C408.33,45.33 410.17,44.45 413.00,44.00 C415.83,43.55 419.42,42.72 422.00,42.80 C424.58,42.88 427.33,42.97 428.50,44.50 C429.67,46.03 429.75,49.42 429.00,52.00 C428.25,54.58 426.00,58.33 424.00,60.00 C422.00,61.67 419.33,62.50 417.00,62.00 C414.67,61.50 412.83,58.00 410.00,57.00 C407.17,56.00 403.33,56.33 400.00,56.00 C396.67,55.67 392.50,55.67 390.00,55.00 C387.50,54.33 385.83,53.33 385.00,52.00 C384.17,50.67 383.67,48.17 385.00,47.00Z" transform="translate(420.00,48.50) scale(0.486) translate(-420.00,-48.50)" fill="#e8121e" fill-opacity="0.462" stroke="#d41a24" stroke-width="1.029"/>
<path d="M385.00,47.00 C386.33,45.83 389.67,45.25 393.00,45.00 C396.33,44.75 401.67,45.67 405.00,45.50 C408.33,45.33 410.17,44.45 413.00,44.00 C415.83,43.55 419.42,42.72 422.00,42.80 C424.58,42.88 427.33,42.97 428.50,44.50 C429.67,46.03 429.75,49.42 429.00,52.00 C428.25,54.58 426.00,58.33 424.00,60.00 C422.00,61.67 419.33,62.50 417.00,62.00 C414.67,61.50 412.83,58.00 410.00,57.00 C407.17,56.00 403.33,56.33 400.00,56.00 C396.67,55.67 392.50,55.67 390.00,55.00 C387.50,54.33 385.83,53.33 385.00,52.00 C384.17,50.67 383.67,48.17 385.00,47.00Z" transform="translate(420.00,48.50) scale(0.357) translate(-420.00,-48.50)" fill="#e8121e" fill-opacity="0.575" stroke="#d41a24" stroke-width="1.400"/>
<path d="M385.00,47.00 C386.33,45.83 389.67,45.25 393.00,45.00 C396.33,44.75 401.67,45.67 405.00,45.50 C408.33,45.33 410.17,44.45 413.00,44.00 C415.83,43.55 419.42,42.72 422.00,42.80 C424.58,42.88 427.33,42.97 428.50,44.50 C429.67,46.03 429.75,49.42 429.00,52.00 C428.25,54.58 426.00,58.33 424.00,60.00 C422.00,61.67 419.33,62.50 417.00,62.00 C414.67,61.50 412.83,58.00 410.00,57.00 C407.17,56.00 403.33,56.33 400.00,56.00 C396.67,55.67 392.50,55.67 390.00,55.00 C387.50,54.33 385.83,53.33 385.00,52.00 C384.17,50.67 383.67,48.17 385.00,47.00Z" transform="translate(420.00,48.50) scale(0.229) translate(-420.00,-48.50)" fill="#e8121e" fill-opacity="0.687" stroke="#d41a24" stroke-width="2.187"/>
<path d="M385.00,47.00 C386.33,45.83 389.67,45.25 393.00,45.00 C396.33,44.75 401.67,45.67 405.00,45.50 C408.33,45.33 410.17,44.45 413.00,44.00 C415.83,43.55 419.42,42.72 422.00,42.80 C424.58,42.88 427.33,42.97 428.50,44.50 C429.67,46.03 429.75,49.42 429.00,52.00 C428.25,54.58 426.00,58.33 424.00,60.00 C422.00,61.67 419.33,62.50 417.00,62.00 C414.67,61.50 412.83,58.00 410.00,57.00 C407.17,56.00 403.33,56.33 400.00,56.00 C396.67,55.67 392.50,55.67 390.00,55.00 C387.50,54.33 385.83,53.33 385.00,52.00 C384.17,50.67 383.67,48.17 385.00,47.00Z" transform="translate(420.00,48.50) scale(0.100) translate(-420.00,-48.50)" fill="#e8121e" fill-opacity="0.800" stroke="#d41a24" stroke-width="5.000"/>
<circle cx="420.00" cy="48.50" r="0.8" fill="#ffc8c8" opacity="0.85"/>
<path d="M478.00,51.50 C478.00,52.92 477.44,54.52 476.53,55.75 C475.61,56.98 474.09,58.15 472.50,58.86 C470.91,59.57 468.83,60.00 467.00,60.00 C465.17,60.00 463.09,59.57 461.50,58.86 C459.91,58.15 458.39,56.98 457.47,55.75 C456.56,54.52 456.00,52.92 456.00,51.50 C456.00,50.08 456.56,48.48 457.47,47.25 C458.39,46.02 459.91,44.85 461.50,44.14 C463.09,43.43 465.17,43.00 467.00,43.00 C468.83,43.00 470.91,43.43 472.50,44.14 C474.09,44.85 475.61,46.02 476.53,47.25 C477.44,48.48 478.00,50.08 478.00,51.50Z" transform="translate(467.00,51.50) scale(1.000) translate(-467.00,-51.50)" fill="#b0b0ee" fill-opacity="0.160" stroke="#7a7ad8" stroke-width="0.450"/>
<path d="M478.00,51.50 C478.00,52.92 477.44,54.52 476.53,55.75 C475.61,56.98 474.09,58.15 472.50,58.86 C470.91,59.57 468.83,60.00 467.00,60.00 C465.17,60.00 463.09,59.57 461.50,58.86 C459.91,58.15 458.39,56.98 457.47,55.75 C456.56,54.52 456.00,52.92 456.00,51.50 C456.00,50.08 456.56,48.48 457.47,47.25 C458.39,46.02 459.91,44.85 461.50,44.14 C463.09,43.43 465.17,43.00 467.00,43.00 C468.83,43.00 470.91,43.43 472.50,44.14 C474.09,44.85 475.61,46.02 476.53,47.25 C477.44,48.48 478.00,50.08 478.00,51.50Z" transform="translate(467.00,51.50) scale(0.800) translate(-467.00,-51.50)" fill="#b0b0ee" fill-opacity="0.030" stroke="#7a7ad8" stroke-width="0.562"/>
<path d="M478.00,51.50 C478.00,52.92 477.44,54.52 476.53,55.75 C475.61,56.98 474.09,58.15 472.50,58.86 C470.91,59.57 468.83,60.00 467.00,60.00 C465.17,60.00 463.09,59.57 461.50,58.86 C459.91,58.15 458.39,56.98 457.47,55.75 C456.56,54.52 456.00,52.92 456.00,51.50 C456.00,50.08 456.56,48.48 457.47,47.25 C458.39,46.02 459.91,44.85 461.50,44.14 C463.09,43.43 465.17,43.00 467.00,43.00 C468.83,43.00 470.91,43.43 472.50,44.14 C474.09,44.85 475.61,46.02 476.53,47.25 C477.44,48.48 478.00,50.08 478.00,51.50Z" transform="translate(467.00,51.50) scale(0.600) translate(-467.00,-51.50)" fill="#b0b0ee" fill-opacity="0.050" stroke="#7a7ad8" stroke-width="0.750"/>
<path d="M467.80,49.30 C467.80,49.90 467.57,50.58 467.18,51.10 C466.80,51.62 466.16,52.12 465.50,52.42 C464.84,52.72 463.97,52.90 463.20,52.90 C462.43,52.90 461.56,52.72 460.90,52.42 C460.24,52.12 459.60,51.62 459.22,51.10 C458.83,50.58 458.60,49.90 458.60,49.30 C458.60,48.70 458.83,48.02 459.22,47.50 C459.60,46.98 460.24,46.48 460.90,46.18 C461.56,45.88 462.43,45.70 463.20,45.70 C463.97,45.70 464.84,45.88 465.50,46.18 C466.16,46.48 466.80,46.98 467.18,47.50 C467.57,48.02 467.80,48.70 467.80,49.30Z" transform="translate(463.20,49.30) scale(1.000) translate(-463.20,-49.30)" fill="#9c9cea" fill-opacity="0.320" stroke="#5e5ed4" stroke-width="0.500"/>
<path d="M467.80,49.30 C467.80,49.90 467.57,50.58 467.18,51.10 C466.80,51.62 466.16,52.12 465.50,52.42 C464.84,52.72 463.97,52.90 463.20,52.90 C462.43,52.90 461.56,52.72 460.90,52.42 C460.24,52.12 459.60,51.62 459.22,51.10 C458.83,50.58 458.60,49.90 458.60,49.30 C458.60,48.70 458.83,48.02 459.22,47.50 C459.60,46.98 460.24,46.48 460.90,46.18 C461.56,45.88 462.43,45.70 463.20,45.70 C463.97,45.70 464.84,45.88 465.50,46.18 C466.16,46.48 466.80,46.98 467.18,47.50 C467.57,48.02 467.80,48.70 467.80,49.30Z" transform="translate(463.20,49.30) scale(0.850) translate(-463.20,-49.30)" fill="#9c9cea" fill-opacity="0.050" stroke="#5e5ed4" stroke-width="0.588"/>
<path d="M467.80,49.30 C467.80,49.90 467.57,50.58 467.18,51.10 C466.80,51.62 466.16,52.12 465.50,52.42 C464.84,52.72 463.97,52.90 463.20,52.90 C462.43,52.90 461.56,52.72 460.90,52.42 C460.24,52.12 459.60,51.62 459.22,51.10 C458.83,50.58 458.60,49.90 458.60,49.30 C458.60,48.70 458.83,48.02 459.22,47.50 C459.60,46.98 460.24,46.48 460.90,46.18 C461.56,45.88 462.43,45.70 463.20,45.70 C463.97,45.70 464.84,45.88 465.50,46.18 C466.16,46.48 466.80,46.98 467.18,47.50 C467.57,48.02 467.80,48.70 467.80,49.30Z" transform="translate(463.20,49.30) scale(0.700) translate(-463.20,-49.30)" fill="#9c9cea" fill-opacity="0.067" stroke="#5e5ed4" stroke-width="0.714"/>
<path d="M467.80,49.30 C467.80,49.90 467.57,50.58 467.18,51.10 C466.80,51.62 466.16,52.12 465.50,52.42 C464.84,52.72 463.97,52.90 463.20,52.90 C462.43,52.90 461.56,52.72 460.90,52.42 C460.24,52.12 459.60,51.62 459.22,51.10 C458.83,50.58 458.60,49.90 458.60,49.30 C458.60,48.70 458.83,48.02 459.22,47.50 C459.60,46.98 460.24,46.48 460.90,46.18 C461.56,45.88 462.43,45.70 463.20,45.70 C463.97,45.70 464.84,45.88 465.50,46.18 C466.16,46.48 466.80,46.98 467.18,47.50 C467.57,48.02 467.80,48.70 467.80,49.30Z" transform="translate(463.20,49.30) scale(0.550) translate(-463.20,-49.30)" fill="#9c9cea" fill-opacity="0.100" stroke="#5e5ed4" stroke-width="0.909"/>
<circle cx="463.20" cy="49.30" r="0.8" fill="#f4f4ff" opacity="0.85"/>
<ellipse cx="463.2" cy="49.3" rx="1.8" ry="1.3" fill="#fff" opacity="0.8"/>
<path d="M466.00,44.00 C469.50,43.00 474.00,43.67 478.00,44.00 C482.00,44.33 487.67,44.00 490.00,46.00 C492.33,48.00 492.83,53.33 492.00,56.00 C491.17,58.67 488.67,62.00 485.00,62.00 C481.33,62.00 474.17,57.17 470.00,56.00 C465.83,54.83 462.17,56.00 460.00,55.00 C457.83,54.00 456.00,51.83 457.00,50.00 C458.00,48.17 462.50,45.00 466.00,44.00Z" transform="translate(472.00,52.00) scale(1.000) translate(-472.00,-52.00)" fill="#ffffff" fill-opacity="0.000" stroke="#a0a8dc" stroke-width="0.550"/>
<path d="M466.00,44.00 C469.50,43.00 474.00,43.67 478.00,44.00 C482.00,44.33 487.67,44.00 490.00,46.00 C492.33,48.00 492.83,53.33 492.00,56.00 C491.17,58.67 488.67,62.00 485.00,62.00 C481.33,62.00 474.17,57.17 470.00,56.00 C465.83,54.83 462.17,56.00 460.00,55.00 C457.83,54.00 456.00,51.83 457.00,50.00 C458.00,48.17 462.50,45.00 466.00,44.00Z" transform="translate(472.00,52.00) scale(0.850) translate(-472.00,-52.00)" fill="#ffffff" fill-opacity="0.000" stroke="#a0a8dc" stroke-width="0.647"/>
<path d="M494.00,71.00 C494.00,72.08 493.01,73.31 491.39,74.25 C489.76,75.19 487.06,76.09 484.25,76.63 C481.44,77.17 477.75,77.50 474.50,77.50 C471.25,77.50 467.56,77.17 464.75,76.63 C461.94,76.09 459.24,75.19 457.61,74.25 C455.99,73.31 455.00,72.08 455.00,71.00 C455.00,69.92 455.99,68.69 457.61,67.75 C459.24,66.81 461.94,65.91 464.75,65.37 C467.56,64.83 471.25,64.50 474.50,64.50 C477.75,64.50 481.44,64.83 484.25,65.37 C487.06,65.91 489.76,66.81 491.39,67.75 C493.01,68.69 494.00,69.92 494.00,71.00Z" transform="translate(474.50,71.00) scale(1.000) translate(-474.50,-71.00)" fill="#9c9cea" fill-opacity="0.320" stroke="#5e5ed4" stroke-width="0.500"/>
<path d="M494.00,71.00 C494.00,72.08 493.01,73.31 491.39,74.25 C489.76,75.19 487.06,76.09 484.25,76.63 C481.44,77.17 477.75,77.50 474.50,77.50 C471.25,77.50 467.56,77.17 464.75,76.63 C461.94,76.09 459.24,75.19 457.61,74.25 C455.99,73.31 455.00,72.08 455.00,71.00 C455.00,69.92 455.99,68.69 457.61,67.75 C459.24,66.81 461.94,65.91 464.75,65.37 C467.56,64.83 471.25,64.50 474.50,64.50 C477.75,64.50 481.44,64.83 484.25,65.37 C487.06,65.91 489.76,66.81 491.39,67.75 C493.01,68.69 494.00,69.92 494.00,71.00Z" transform="translate(474.50,71.00) scale(0.853) translate(-474.50,-71.00)" fill="#9c9cea" fill-opacity="0.050" stroke="#5e5ed4" stroke-width="0.586"/>
<path d="M494.00,71.00 C494.00,72.08 493.01,73.31 491.39,74.25 C489.76,75.19 487.06,76.09 484.25,76.63 C481.44,77.17 477.75,77.50 474.50,77.50 C471.25,77.50 467.56,77.17 464.75,76.63 C461.94,76.09 459.24,75.19 457.61,74.25 C455.99,73.31 455.00,72.08 455.00,71.00 C455.00,69.92 455.99,68.69 457.61,67.75 C459.24,66.81 461.94,65.91 464.75,65.37 C467.56,64.83 471.25,64.50 474.50,64.50 C477.75,64.50 481.44,64.83 484.25,65.37 C487.06,65.91 489.76,66.81 491.39,67.75 C493.01,68.69 494.00,69.92 494.00,71.00Z" transform="translate(474.50,71.00) scale(0.707) translate(-474.50,-71.00)" fill="#9c9cea" fill-opacity="0.050" stroke="#5e5ed4" stroke-width="0.708"/>
<path d="M494.00,71.00 C494.00,72.08 493.01,73.31 491.39,74.25 C489.76,75.19 487.06,76.09 484.25,76.63 C481.44,77.17 477.75,77.50 474.50,77.50 C471.25,77.50 467.56,77.17 464.75,76.63 C461.94,76.09 459.24,75.19 457.61,74.25 C455.99,73.31 455.00,72.08 455.00,71.00 C455.00,69.92 455.99,68.69 457.61,67.75 C459.24,66.81 461.94,65.91 464.75,65.37 C467.56,64.83 471.25,64.50 474.50,64.50 C477.75,64.50 481.44,64.83 484.25,65.37 C487.06,65.91 489.76,66.81 491.39,67.75 C493.01,68.69 494.00,69.92 494.00,71.00Z" transform="translate(474.50,71.00) scale(0.560) translate(-474.50,-71.00)" fill="#9c9cea" fill-opacity="0.050" stroke="#5e5ed4" stroke-width="0.893"/>
<path d="M494.00,71.00 C494.00,72.08 493.01,73.31 491.39,74.25 C489.76,75.19 487.06,76.09 484.25,76.63 C481.44,77.17 477.75,77.50 474.50,77.50 C471.25,77.50 467.56,77.17 464.75,76.63 C461.94,76.09 459.24,75.19 457.61,74.25 C455.99,73.31 455.00,72.08 455.00,71.00 C455.00,69.92 455.99,68.69 457.61,67.75 C459.24,66.81 461.94,65.91 464.75,65.37 C467.56,64.83 471.25,64.50 474.50,64.50 C477.75,64.50 481.44,64.83 484.25,65.37 C487.06,65.91 489.76,66.81 491.39,67.75 C493.01,68.69 494.00,69.92 494.00,71.00Z" transform="translate(474.50,71.00) scale(0.413) translate(-474.50,-71.00)" fill="#9c9cea" fill-opacity="0.067" stroke="#5e5ed4" stroke-width="1.210"/>
<path d="M494.00,71.00 C494.00,72.08 493.01,73.31 491.39,74.25 C489.76,75.19 487.06,76.09 484.25,76.63 C481.44,77.17 477.75,77.50 474.50,77.50 C471.25,77.50 467.56,77.17 464.75,76.63 C461.94,76.09 459.24,75.19 457.61,74.25 C455.99,73.31 455.00,72.08 455.00,71.00 C455.00,69.92 455.99,68.69 457.61,67.75 C459.24,66.81 461.94,65.91 464.75,65.37 C467.56,64.83 471.25,64.50 474.50,64.50 C477.75,64.50 481.44,64.83 484.25,65.37 C487.06,65.91 489.76,66.81 491.39,67.75 C493.01,68.69 494.00,69.92 494.00,71.00Z" transform="translate(474.50,71.00) scale(0.267) translate(-474.50,-71.00)" fill="#9c9cea" fill-opacity="0.083" stroke="#5e5ed4" stroke-width="1.875"/>
<path d="M494.00,71.00 C494.00,72.08 493.01,73.31 491.39,74.25 C489.76,75.19 487.06,76.09 484.25,76.63 C481.44,77.17 477.75,77.50 474.50,77.50 C471.25,77.50 467.56,77.17 464.75,76.63 C461.94,76.09 459.24,75.19 457.61,74.25 C455.99,73.31 455.00,72.08 455.00,71.00 C455.00,69.92 455.99,68.69 457.61,67.75 C459.24,66.81 461.94,65.91 464.75,65.37 C467.56,64.83 471.25,64.50 474.50,64.50 C477.75,64.50 481.44,64.83 484.25,65.37 C487.06,65.91 489.76,66.81 491.39,67.75 C493.01,68.69 494.00,69.92 494.00,71.00Z" transform="translate(474.50,71.00) scale(0.120) translate(-474.50,-71.00)" fill="#9c9cea" fill-opacity="0.100" stroke="#5e5ed4" stroke-width="4.167"/>
<circle cx="474.50" cy="71.00" r="0.8" fill="#f4f4ff" opacity="0.85"/>
<path d="M501.00,53.50 C501.00,55.17 500.42,57.06 499.46,58.50 C498.50,59.94 496.91,61.33 495.25,62.16 C493.59,62.99 491.42,63.50 489.50,63.50 C487.58,63.50 485.41,62.99 483.75,62.16 C482.09,61.33 480.50,59.94 479.54,58.50 C478.58,57.06 478.00,55.17 478.00,53.50 C478.00,51.83 478.58,49.94 479.54,48.50 C480.50,47.06 482.09,45.67 483.75,44.84 C485.41,44.01 487.58,43.50 489.50,43.50 C491.42,43.50 493.59,44.01 495.25,44.84 C496.91,45.67 498.50,47.06 499.46,48.50 C500.42,49.94 501.00,51.83 501.00,53.50Z" transform="translate(491.00,50.50) scale(1.000) translate(-491.00,-50.50)" fill="#e8121e" fill-opacity="0.130" stroke="#d41a24" stroke-width="0.500"/>
<path d="M501.00,53.50 C501.00,55.17 500.42,57.06 499.46,58.50 C498.50,59.94 496.91,61.33 495.25,62.16 C493.59,62.99 491.42,63.50 489.50,63.50 C487.58,63.50 485.41,62.99 483.75,62.16 C482.09,61.33 480.50,59.94 479.54,58.50 C478.58,57.06 478.00,55.17 478.00,53.50 C478.00,51.83 478.58,49.94 479.54,48.50 C480.50,47.06 482.09,45.67 483.75,44.84 C485.41,44.01 487.58,43.50 489.50,43.50 C491.42,43.50 493.59,44.01 495.25,44.84 C496.91,45.67 498.50,47.06 499.46,48.50 C500.42,49.94 501.00,51.83 501.00,53.50Z" transform="translate(491.00,50.50) scale(0.874) translate(-491.00,-50.50)" fill="#e8121e" fill-opacity="0.130" stroke="#d41a24" stroke-width="0.572"/>
<path d="M501.00,53.50 C501.00,55.17 500.42,57.06 499.46,58.50 C498.50,59.94 496.91,61.33 495.25,62.16 C493.59,62.99 491.42,63.50 489.50,63.50 C487.58,63.50 485.41,62.99 483.75,62.16 C482.09,61.33 480.50,59.94 479.54,58.50 C478.58,57.06 478.00,55.17 478.00,53.50 C478.00,51.83 478.58,49.94 479.54,48.50 C480.50,47.06 482.09,45.67 483.75,44.84 C485.41,44.01 487.58,43.50 489.50,43.50 C491.42,43.50 493.59,44.01 495.25,44.84 C496.91,45.67 498.50,47.06 499.46,48.50 C500.42,49.94 501.00,51.83 501.00,53.50Z" transform="translate(491.00,50.50) scale(0.749) translate(-491.00,-50.50)" fill="#e8121e" fill-opacity="0.237" stroke="#d41a24" stroke-width="0.668"/>
<path d="M501.00,53.50 C501.00,55.17 500.42,57.06 499.46,58.50 C498.50,59.94 496.91,61.33 495.25,62.16 C493.59,62.99 491.42,63.50 489.50,63.50 C487.58,63.50 485.41,62.99 483.75,62.16 C482.09,61.33 480.50,59.94 479.54,58.50 C478.58,57.06 478.00,55.17 478.00,53.50 C478.00,51.83 478.58,49.94 479.54,48.50 C480.50,47.06 482.09,45.67 483.75,44.84 C485.41,44.01 487.58,43.50 489.50,43.50 C491.42,43.50 493.59,44.01 495.25,44.84 C496.91,45.67 498.50,47.06 499.46,48.50 C500.42,49.94 501.00,51.83 501.00,53.50Z" transform="translate(491.00,50.50) scale(0.623) translate(-491.00,-50.50)" fill="#e8121e" fill-opacity="0.350" stroke="#d41a24" stroke-width="0.803"/>
<path d="M501.00,53.50 C501.00,55.17 500.42,57.06 499.46,58.50 C498.50,59.94 496.91,61.33 495.25,62.16 C493.59,62.99 491.42,63.50 489.50,63.50 C487.58,63.50 485.41,62.99 483.75,62.16 C482.09,61.33 480.50,59.94 479.54,58.50 C478.58,57.06 478.00,55.17 478.00,53.50 C478.00,51.83 478.58,49.94 479.54,48.50 C480.50,47.06 482.09,45.67 483.75,44.84 C485.41,44.01 487.58,43.50 489.50,43.50 C491.42,43.50 493.59,44.01 495.25,44.84 C496.91,45.67 498.50,47.06 499.46,48.50 C500.42,49.94 501.00,51.83 501.00,53.50Z" transform="translate(491.00,50.50) scale(0.497) translate(-491.00,-50.50)" fill="#e8121e" fill-opacity="0.462" stroke="#d41a24" stroke-width="1.006"/>
<path d="M501.00,53.50 C501.00,55.17 500.42,57.06 499.46,58.50 C498.50,59.94 496.91,61.33 495.25,62.16 C493.59,62.99 491.42,63.50 489.50,63.50 C487.58,63.50 485.41,62.99 483.75,62.16 C482.09,61.33 480.50,59.94 479.54,58.50 C478.58,57.06 478.00,55.17 478.00,53.50 C478.00,51.83 478.58,49.94 479.54,48.50 C480.50,47.06 482.09,45.67 483.75,44.84 C485.41,44.01 487.58,43.50 489.50,43.50 C491.42,43.50 493.59,44.01 495.25,44.84 C496.91,45.67 498.50,47.06 499.46,48.50 C500.42,49.94 501.00,51.83 501.00,53.50Z" transform="translate(491.00,50.50) scale(0.371) translate(-491.00,-50.50)" fill="#e8121e" fill-opacity="0.575" stroke="#d41a24" stroke-width="1.346"/>
<path d="M501.00,53.50 C501.00,55.17 500.42,57.06 499.46,58.50 C498.50,59.94 496.91,61.33 495.25,62.16 C493.59,62.99 491.42,63.50 489.50,63.50 C487.58,63.50 485.41,62.99 483.75,62.16 C482.09,61.33 480.50,59.94 479.54,58.50 C478.58,57.06 478.00,55.17 478.00,53.50 C478.00,51.83 478.58,49.94 479.54,48.50 C480.50,47.06 482.09,45.67 483.75,44.84 C485.41,44.01 487.58,43.50 489.50,43.50 C491.42,43.50 493.59,44.01 495.25,44.84 C496.91,45.67 498.50,47.06 499.46,48.50 C500.42,49.94 501.00,51.83 501.00,53.50Z" transform="translate(491.00,50.50) scale(0.246) translate(-491.00,-50.50)" fill="#e8121e" fill-opacity="0.687" stroke="#d41a24" stroke-width="2.035"/>
<path d="M501.00,53.50 C501.00,55.17 500.42,57.06 499.46,58.50 C498.50,59.94 496.91,61.33 495.25,62.16 C493.59,62.99 491.42,63.50 489.50,63.50 C487.58,63.50 485.41,62.99 483.75,62.16 C482.09,61.33 480.50,59.94 479.54,58.50 C478.58,57.06 478.00,55.17 478.00,53.50 C478.00,51.83 478.58,49.94 479.54,48.50 C480.50,47.06 482.09,45.67 483.75,44.84 C485.41,44.01 487.58,43.50 489.50,43.50 C491.42,43.50 493.59,44.01 495.25,44.84 C496.91,45.67 498.50,47.06 499.46,48.50 C500.42,49.94 501.00,51.83 501.00,53.50Z" transform="translate(491.00,50.50) scale(0.120) translate(-491.00,-50.50)" fill="#e8121e" fill-opacity="0.800" stroke="#d41a24" stroke-width="4.167"/>
<circle cx="491.00" cy="50.50" r="0.8" fill="#ffc8c8" opacity="0.85"/>
<path d="M28.00,118.50 C29.75,116.97 36.13,116.88 40.00,116.80 C43.87,116.72 49.45,116.63 51.20,118.00 C52.95,119.37 51.28,122.33 50.50,125.00 C49.72,127.67 48.25,132.17 46.50,134.00 C44.75,135.83 42.17,135.92 40.00,136.00 C37.83,136.08 35.25,136.17 33.50,134.50 C31.75,132.83 30.42,128.67 29.50,126.00 C28.58,123.33 26.25,120.03 28.00,118.50Z" transform="translate(41.00,126.00) scale(1.000) translate(-41.00,-126.00)" fill="#b0b0ee" fill-opacity="0.160" stroke="#7a7ad8" stroke-width="0.450"/>
<path d="M28.00,118.50 C29.75,116.97 36.13,116.88 40.00,116.80 C43.87,116.72 49.45,116.63 51.20,118.00 C52.95,119.37 51.28,122.33 50.50,125.00 C49.72,127.67 48.25,132.17 46.50,134.00 C44.75,135.83 42.17,135.92 40.00,136.00 C37.83,136.08 35.25,136.17 33.50,134.50 C31.75,132.83 30.42,128.67 29.50,126.00 C28.58,123.33 26.25,120.03 28.00,118.50Z" transform="translate(41.00,126.00) scale(0.860) translate(-41.00,-126.00)" fill="#b0b0ee" fill-opacity="0.030" stroke="#7a7ad8" stroke-width="0.523"/>
<path d="M28.00,118.50 C29.75,116.97 36.13,116.88 40.00,116.80 C43.87,116.72 49.45,116.63 51.20,118.00 C52.95,119.37 51.28,122.33 50.50,125.00 C49.72,127.67 48.25,132.17 46.50,134.00 C44.75,135.83 42.17,135.92 40.00,136.00 C37.83,136.08 35.25,136.17 33.50,134.50 C31.75,132.83 30.42,128.67 29.50,126.00 C28.58,123.33 26.25,120.03 28.00,118.50Z" transform="translate(41.00,126.00) scale(0.720) translate(-41.00,-126.00)" fill="#b0b0ee" fill-opacity="0.030" stroke="#7a7ad8" stroke-width="0.625"/>
<path d="M28.00,118.50 C29.75,116.97 36.13,116.88 40.00,116.80 C43.87,116.72 49.45,116.63 51.20,118.00 C52.95,119.37 51.28,122.33 50.50,125.00 C49.72,127.67 48.25,132.17 46.50,134.00 C44.75,135.83 42.17,135.92 40.00,136.00 C37.83,136.08 35.25,136.17 33.50,134.50 C31.75,132.83 30.42,128.67 29.50,126.00 C28.58,123.33 26.25,120.03 28.00,118.50Z" transform="translate(41.00,126.00) scale(0.580) translate(-41.00,-126.00)" fill="#b0b0ee" fill-opacity="0.034" stroke="#7a7ad8" stroke-width="0.776"/>
<path d="M28.00,118.50 C29.75,116.97 36.13,116.88 40.00,116.80 C43.87,116.72 49.45,116.63 51.20,118.00 C52.95,119.37 51.28,122.33 50.50,125.00 C49.72,127.67 48.25,132.17 46.50,134.00 C44.75,135.83 42.17,135.92 40.00,136.00 C37.83,136.08 35.25,136.17 33.50,134.50 C31.75,132.83 30.42,128.67 29.50,126.00 C28.58,123.33 26.25,120.03 28.00,118.50Z" transform="translate(41.00,126.00) scale(0.440) translate(-41.00,-126.00)" fill="#b0b0ee" fill-opacity="0.042" stroke="#7a7ad8" stroke-width="1.023"/>
<path d="M28.00,118.50 C29.75,116.97 36.13,116.88 40.00,116.80 C43.87,116.72 49.45,116.63 51.20,118.00 C52.95,119.37 51.28,122.33 50.50,125.00 C49.72,127.67 48.25,132.17 46.50,134.00 C44.75,135.83 42.17,135.92 40.00,136.00 C37.83,136.08 35.25,136.17 33.50,134.50 C31.75,132.83 30.42,128.67 29.50,126.00 C28.58,123.33 26.25,120.03 28.00,118.50Z" transform="translate(41.00,126.00) scale(0.300) translate(-41.00,-126.00)" fill="#b0b0ee" fill-opacity="0.050" stroke="#7a7ad8" stroke-width="1.500"/>
<path d="M53.00,144.00 C53.00,145.20 52.39,146.56 51.39,147.60 C50.39,148.64 48.73,149.64 47.00,150.24 C45.27,150.84 43.00,151.20 41.00,151.20 C39.00,151.20 36.73,150.84 35.00,150.24 C33.27,149.64 31.61,148.64 30.61,147.60 C29.61,146.56 29.00,145.20 29.00,144.00 C29.00,142.80 29.61,141.44 30.61,140.40 C31.61,139.36 33.27,138.36 35.00,137.76 C36.73,137.16 39.00,136.80 41.00,136.80 C43.00,136.80 45.27,137.16 47.00,137.76 C48.73,138.36 50.39,139.36 51.39,140.40 C52.39,141.44 53.00,142.80 53.00,144.00Z" transform="translate(41.00,144.00) scale(1.000) translate(-41.00,-144.00)" fill="#9c9cea" fill-opacity="0.320" stroke="#5e5ed4" stroke-width="0.500"/>
<path d="M53.00,144.00 C53.00,145.20 52.39,146.56 51.39,147.60 C50.39,148.64 48.73,149.64 47.00,150.24 C45.27,150.84 43.00,151.20 41.00,151.20 C39.00,151.20 36.73,150.84 35.00,150.24 C33.27,149.64 31.61,148.64 30.61,147.60 C29.61,146.56 29.00,145.20 29.00,144.00 C29.00,142.80 29.61,141.44 30.61,140.40 C31.61,139.36 33.27,138.36 35.00,137.76 C36.73,137.16 39.00,136.80 41.00,136.80 C43.00,136.80 45.27,137.16 47.00,137.76 C48.73,138.36 50.39,139.36 51.39,140.40 C52.39,141.44 53.00,142.80 53.00,144.00Z" transform="translate(41.00,144.00) scale(0.883) translate(-41.00,-144.00)" fill="#9c9cea" fill-opacity="0.050" stroke="#5e5ed4" stroke-width="0.566"/>
<path d="M53.00,144.00 C53.00,145.20 52.39,146.56 51.39,147.60 C50.39,148.64 48.73,149.64 47.00,150.24 C45.27,150.84 43.00,151.20 41.00,151.20 C39.00,151.20 36.73,150.84 35.00,150.24 C33.27,149.64 31.61,148.64 30.61,147.60 C29.61,146.56 29.00,145.20 29.00,144.00 C29.00,142.80 29.61,141.44 30.61,140.40 C31.61,139.36 33.27,138.36 35.00,137.76 C36.73,137.16 39.00,136.80 41.00,136.80 C43.00,136.80 45.27,137.16 47.00,137.76 C48.73,138.36 50.39,139.36 51.39,140.40 C52.39,141.44 53.00,142.80 53.00,144.00Z" transform="translate(41.00,144.00) scale(0.767) translate(-41.00,-144.00)" fill="#9c9cea" fill-opacity="0.050" stroke="#5e5ed4" stroke-width="0.652"/>
<path d="M53.00,144.00 C53.00,145.20 52.39,146.56 51.39,147.60 C50.39,148.64 48.73,149.64 47.00,150.24 C45.27,150.84 43.00,151.20 41.00,151.20 C39.00,151.20 36.73,150.84 35.00,150.24 C33.27,149.64 31.61,148.64 30.61,147.60 C29.61,146.56 29.00,145.20 29.00,144.00 C29.00,142.80 29.61,141.44 30.61,140.40 C31.61,139.36 33.27,138.36 35.00,137.76 C36.73,137.16 39.00,136.80 41.00,136.80 C43.00,136.80 45.27,137.16 47.00,137.76 C48.73,138.36 50.39,139.36 51.39,140.40 C52.39,141.44 53.00,142.80 53.00,144.00Z" transform="translate(41.00,144.00) scale(0.650) translate(-41.00,-144.00)" fill="#9c9cea" fill-opacity="0.050" stroke="#5e5ed4" stroke-width="0.769"/>
<path d="M53.00,144.00 C53.00,145.20 52.39,146.56 51.39,147.60 C50.39,148.64 48.73,149.64 47.00,150.24 C45.27,150.84 43.00,151.20 41.00,151.20 C39.00,151.20 36.73,150.84 35.00,150.24 C33.27,149.64 31.61,148.64 30.61,147.60 C29.61,146.56 29.00,145.20 29.00,144.00 C29.00,142.80 29.61,141.44 30.61,140.40 C31.61,139.36 33.27,138.36 35.00,137.76 C36.73,137.16 39.00,136.80 41.00,136.80 C43.00,136.80 45.27,137.16 47.00,137.76 C48.73,138.36 50.39,139.36 51.39,140.40 C52.39,141.44 53.00,142.80 53.00,144.00Z" transform="translate(41.00,144.00) scale(0.533) translate(-41.00,-144.00)" fill="#9c9cea" fill-opacity="0.067" stroke="#5e5ed4" stroke-width="0.937"/>
<path d="M53.00,144.00 C53.00,145.20 52.39,146.56 51.39,147.60 C50.39,148.64 48.73,149.64 47.00,150.24 C45.27,150.84 43.00,151.20 41.00,151.20 C39.00,151.20 36.73,150.84 35.00,150.24 C33.27,149.64 31.61,148.64 30.61,147.60 C29.61,146.56 29.00,145.20 29.00,144.00 C29.00,142.80 29.61,141.44 30.61,140.40 C31.61,139.36 33.27,138.36 35.00,137.76 C36.73,137.16 39.00,136.80 41.00,136.80 C43.00,136.80 45.27,137.16 47.00,137.76 C48.73,138.36 50.39,139.36 51.39,140.40 C52.39,141.44 53.00,142.80 53.00,144.00Z" transform="translate(41.00,144.00) scale(0.417) translate(-41.00,-144.00)" fill="#9c9cea" fill-opacity="0.083" stroke="#5e5ed4" stroke-width="1.200"/>
<path d="M53.00,144.00 C53.00,145.20 52.39,146.56 51.39,147.60 C50.39,148.64 48.73,149.64 47.00,150.24 C45.27,150.84 43.00,151.20 41.00,151.20 C39.00,151.20 36.73,150.84 35.00,150.24 C33.27,149.64 31.61,148.64 30.61,147.60 C29.61,146.56 29.00,145.20 29.00,144.00 C29.00,142.80 29.61,141.44 30.61,140.40 C31.61,139.36 33.27,138.36 35.00,137.76 C36.73,137.16 39.00,136.80 41.00,136.80 C43.00,136.80 45.27,137.16 47.00,137.76 C48.73,138.36 50.39,139.36 51.39,140.40 C52.39,141.44 53.00,142.80 53.00,144.00Z" transform="translate(41.00,144.00) scale(0.300) translate(-41.00,-144.00)" fill="#9c9cea" fill-opacity="0.100" stroke="#5e5ed4" stroke-width="1.667"/>
<circle cx="41.00" cy="144.00" r="0.8" fill="#f4f4ff" opacity="0.85"/>
<ellipse cx="40.5" cy="144.5" rx="4" ry="2.2" fill="#fff" opacity="0.7"/>
<path d="M23.60,119.50 C24.02,118.33 25.10,116.72 27.00,116.00 C28.90,115.28 32.17,115.28 35.00,115.20 C37.83,115.12 41.60,115.03 44.00,115.50 C46.40,115.97 48.73,116.75 49.40,118.00 C50.07,119.25 49.57,121.87 48.00,123.00 C46.43,124.13 43.00,124.55 40.00,124.80 C37.00,125.05 32.58,124.80 30.00,124.50 C27.42,124.20 25.57,123.83 24.50,123.00 C23.43,122.17 23.18,120.67 23.60,119.50Z" transform="translate(29.00,119.50) scale(1.000) translate(-29.00,-119.50)" fill="#e8121e" fill-opacity="0.130" stroke="#d41a24" stroke-width="0.500"/>
<path d="M23.60,119.50 C24.02,118.33 25.10,116.72 27.00,116.00 C28.90,115.28 32.17,115.28 35.00,115.20 C37.83,115.12 41.60,115.03 44.00,115.50 C46.40,115.97 48.73,116.75 49.40,118.00 C50.07,119.25 49.57,121.87 48.00,123.00 C46.43,124.13 43.00,124.55 40.00,124.80 C37.00,125.05 32.58,124.80 30.00,124.50 C27.42,124.20 25.57,123.83 24.50,123.00 C23.43,122.17 23.18,120.67 23.60,119.50Z" transform="translate(29.00,119.50) scale(0.850) translate(-29.00,-119.50)" fill="#e8121e" fill-opacity="0.130" stroke="#d41a24" stroke-width="0.588"/>
<path d="M23.60,119.50 C24.02,118.33 25.10,116.72 27.00,116.00 C28.90,115.28 32.17,115.28 35.00,115.20 C37.83,115.12 41.60,115.03 44.00,115.50 C46.40,115.97 48.73,116.75 49.40,118.00 C50.07,119.25 49.57,121.87 48.00,123.00 C46.43,124.13 43.00,124.55 40.00,124.80 C37.00,125.05 32.58,124.80 30.00,124.50 C27.42,124.20 25.57,123.83 24.50,123.00 C23.43,122.17 23.18,120.67 23.60,119.50Z" transform="translate(29.00,119.50) scale(0.700) translate(-29.00,-119.50)" fill="#e8121e" fill-opacity="0.162" stroke="#d41a24" stroke-width="0.714"/>
<path d="M23.60,119.50 C24.02,118.33 25.10,116.72 27.00,116.00 C28.90,115.28 32.17,115.28 35.00,115.20 C37.83,115.12 41.60,115.03 44.00,115.50 C46.40,115.97 48.73,116.75 49.40,118.00 C50.07,119.25 49.57,121.87 48.00,123.00 C46.43,124.13 43.00,124.55 40.00,124.80 C37.00,125.05 32.58,124.80 30.00,124.50 C27.42,124.20 25.57,123.83 24.50,123.00 C23.43,122.17 23.18,120.67 23.60,119.50Z" transform="translate(29.00,119.50) scale(0.550) translate(-29.00,-119.50)" fill="#e8121e" fill-opacity="0.321" stroke="#d41a24" stroke-width="0.909"/>
<path d="M23.60,119.50 C24.02,118.33 25.10,116.72 27.00,116.00 C28.90,115.28 32.17,115.28 35.00,115.20 C37.83,115.12 41.60,115.03 44.00,115.50 C46.40,115.97 48.73,116.75 49.40,118.00 C50.07,119.25 49.57,121.87 48.00,123.00 C46.43,124.13 43.00,124.55 40.00,124.80 C37.00,125.05 32.58,124.80 30.00,124.50 C27.42,124.20 25.57,123.83 24.50,123.00 C23.43,122.17 23.18,120.67 23.60,119.50Z" transform="translate(29.00,119.50) scale(0.400) translate(-29.00,-119.50)" fill="#e8121e" fill-opacity="0.481" stroke="#d41a24" stroke-width="1.250"/>
<path d="M23.60,119.50 C24.02,118.33 25.10,116.72 27.00,116.00 C28.90,115.28 32.17,115.28 35.00,115.20 C37.83,115.12 41.60,115.03 44.00,115.50 C46.40,115.97 48.73,116.75 49.40,118.00 C50.07,119.25 49.57,121.87 48.00,123.00 C46.43,124.13 43.00,124.55 40.00,124.80 C37.00,125.05 32.58,124.80 30.00,124.50 C27.42,124.20 25.57,123.83 24.50,123.00 C23.43,122.17 23.18,120.67 23.60,119.50Z" transform="translate(29.00,119.50) scale(0.250) translate(-29.00,-119.50)" fill="#e8121e" fill-opacity="0.640" stroke="#d41a24" stroke-width="2.000"/>
<path d="M23.60,119.50 C24.02,118.33 25.10,116.72 27.00,116.00 C28.90,115.28 32.17,115.28 35.00,115.20 C37.83,115.12 41.60,115.03 44.00,115.50 C46.40,115.97 48.73,116.75 49.40,118.00 C50.07,119.25 49.57,121.87 48.00,123.00 C46.43,124.13 43.00,124.55 40.00,124.80 C37.00,125.05 32.58,124.80 30.00,124.50 C27.42,124.20 25.57,123.83 24.50,123.00 C23.43,122.17 23.18,120.67 23.60,119.50Z" transform="translate(29.00,119.50) scale(0.100) translate(-29.00,-119.50)" fill="#e8121e" fill-opacity="0.800" stroke="#d41a24" stroke-width="5.000"/>
<circle cx="29.00" cy="119.50" r="0.8" fill="#ffc8c8" opacity="0.85"/>
<path d="M122,124 C118,130 112,134 113,138 C115,142 118,145 109,148" fill="none" stroke="#c4c4cc" stroke-width="0.7"/>
<path d="M96.00,122.50 C97.33,120.67 101.75,121.58 104.00,122.00 C106.25,122.42 108.50,122.83 109.50,125.00 C110.50,127.17 110.08,131.50 110.00,135.00 C109.92,138.50 109.67,143.20 109.00,146.00 C108.33,148.80 107.83,150.83 106.00,151.80 C104.17,152.77 99.75,152.93 98.00,151.80 C96.25,150.67 95.83,148.13 95.50,145.00 C95.17,141.87 95.92,136.75 96.00,133.00 C96.08,129.25 94.67,124.33 96.00,122.50Z" transform="translate(102.00,136.00) scale(1.000) translate(-102.00,-136.00)" fill="#b0b0ee" fill-opacity="0.160" stroke="#7a7ad8" stroke-width="0.450"/>
<path d="M96.00,122.50 C97.33,120.67 101.75,121.58 104.00,122.00 C106.25,122.42 108.50,122.83 109.50,125.00 C110.50,127.17 110.08,131.50 110.00,135.00 C109.92,138.50 109.67,143.20 109.00,146.00 C108.33,148.80 107.83,150.83 106.00,151.80 C104.17,152.77 99.75,152.93 98.00,151.80 C96.25,150.67 95.83,148.13 95.50,145.00 C95.17,141.87 95.92,136.75 96.00,133.00 C96.08,129.25 94.67,124.33 96.00,122.50Z" transform="translate(102.00,136.00) scale(0.767) translate(-102.00,-136.00)" fill="#b0b0ee" fill-opacity="0.030" stroke="#7a7ad8" stroke-width="0.587"/>
<path d="M96.00,122.50 C97.33,120.67 101.75,121.58 104.00,122.00 C106.25,122.42 108.50,122.83 109.50,125.00 C110.50,127.17 110.08,131.50 110.00,135.00 C109.92,138.50 109.67,143.20 109.00,146.00 C108.33,148.80 107.83,150.83 106.00,151.80 C104.17,152.77 99.75,152.93 98.00,151.80 C96.25,150.67 95.83,148.13 95.50,145.00 C95.17,141.87 95.92,136.75 96.00,133.00 C96.08,129.25 94.67,124.33 96.00,122.50Z" transform="translate(102.00,136.00) scale(0.533) translate(-102.00,-136.00)" fill="#b0b0ee" fill-opacity="0.037" stroke="#7a7ad8" stroke-width="0.844"/>
<path d="M96.00,122.50 C97.33,120.67 101.75,121.58 104.00,122.00 C106.25,122.42 108.50,122.83 109.50,125.00 C110.50,127.17 110.08,131.50 110.00,135.00 C109.92,138.50 109.67,143.20 109.00,146.00 C108.33,148.80 107.83,150.83 106.00,151.80 C104.17,152.77 99.75,152.93 98.00,151.80 C96.25,150.67 95.83,148.13 95.50,145.00 C95.17,141.87 95.92,136.75 96.00,133.00 C96.08,129.25 94.67,124.33 96.00,122.50Z" transform="translate(102.00,136.00) scale(0.300) translate(-102.00,-136.00)" fill="#b0b0ee" fill-opacity="0.050" stroke="#7a7ad8" stroke-width="1.500"/>
<path d="M107.80,145.00 C107.80,146.05 107.50,147.24 107.00,148.15 C106.50,149.06 105.67,149.93 104.80,150.46 C103.93,150.98 102.80,151.30 101.80,151.30 C100.80,151.30 99.67,150.98 98.80,150.46 C97.93,149.93 97.10,149.06 96.60,148.15 C96.10,147.24 95.80,146.05 95.80,145.00 C95.80,143.95 96.10,142.76 96.60,141.85 C97.10,140.94 97.93,140.07 98.80,139.54 C99.67,139.02 100.80,138.70 101.80,138.70 C102.80,138.70 103.93,139.02 104.80,139.54 C105.67,140.07 106.50,140.94 107.00,141.85 C107.50,142.76 107.80,143.95 107.80,145.00Z" transform="translate(101.80,145.00) scale(1.000) translate(-101.80,-145.00)" fill="#9c9cea" fill-opacity="0.320" stroke="#5e5ed4" stroke-width="0.500"/>
<path d="M107.80,145.00 C107.80,146.05 107.50,147.24 107.00,148.15 C106.50,149.06 105.67,149.93 104.80,150.46 C103.93,150.98 102.80,151.30 101.80,151.30 C100.80,151.30 99.67,150.98 98.80,150.46 C97.93,149.93 97.10,149.06 96.60,148.15 C96.10,147.24 95.80,146.05 95.80,145.00 C95.80,143.95 96.10,142.76 96.60,141.85 C97.10,140.94 97.93,140.07 98.80,139.54 C99.67,139.02 100.80,138.70 101.80,138.70 C102.80,138.70 103.93,139.02 104.80,139.54 C105.67,140.07 106.50,140.94 107.00,141.85 C107.50,142.76 107.80,143.95 107.80,145.00Z" transform="translate(101.80,145.00) scale(0.830) translate(-101.80,-145.00)" fill="#9c9cea" fill-opacity="0.050" stroke="#5e5ed4" stroke-width="0.602"/>
<path d="M107.80,145.00 C107.80,146.05 107.50,147.24 107.00,148.15 C106.50,149.06 105.67,149.93 104.80,150.46 C103.93,150.98 102.80,151.30 101.80,151.30 C100.80,151.30 99.67,150.98 98.80,150.46 C97.93,149.93 97.10,149.06 96.60,148.15 C96.10,147.24 95.80,146.05 95.80,145.00 C95.80,143.95 96.10,142.76 96.60,141.85 C97.10,140.94 97.93,140.07 98.80,139.54 C99.67,139.02 100.80,138.70 101.80,138.70 C102.80,138.70 103.93,139.02 104.80,139.54 C105.67,140.07 106.50,140.94 107.00,141.85 C107.50,142.76 107.80,143.95 107.80,145.00Z" transform="translate(101.80,145.00) scale(0.660) translate(-101.80,-145.00)" fill="#9c9cea" fill-opacity="0.050" stroke="#5e5ed4" stroke-width="0.758"/>
<path d="M107.80,145.00 C107.80,146.05 107.50,147.24 107.00,148.15 C106.50,149.06 105.67,149.93 104.80,150.46 C103.93,150.98 102.80,151.30 101.80,151.30 C100.80,151.30 99.67,150.98 98.80,150.46 C97.93,149.93 97.10,149.06 96.60,148.15 C96.10,147.24 95.80,146.05 95.80,145.00 C95.80,143.95 96.10,142.76 96.60,141.85 C97.10,140.94 97.93,140.07 98.80,139.54 C99.67,139.02 100.80,138.70 101.80,138.70 C102.80,138.70 103.93,139.02 104.80,139.54 C105.67,140.07 106.50,140.94 107.00,141.85 C107.50,142.76 107.80,143.95 107.80,145.00Z" transform="translate(101.80,145.00) scale(0.490) translate(-101.80,-145.00)" fill="#9c9cea" fill-opacity="0.060" stroke="#5e5ed4" stroke-width="1.020"/>
<path d="M107.80,145.00 C107.80,146.05 107.50,147.24 107.00,148.15 C106.50,149.06 105.67,149.93 104.80,150.46 C103.93,150.98 102.80,151.30 101.80,151.30 C100.80,151.30 99.67,150.98 98.80,150.46 C97.93,149.93 97.10,149.06 96.60,148.15 C96.10,147.24 95.80,146.05 95.80,145.00 C95.80,143.95 96.10,142.76 96.60,141.85 C97.10,140.94 97.93,140.07 98.80,139.54 C99.67,139.02 100.80,138.70 101.80,138.70 C102.80,138.70 103.93,139.02 104.80,139.54 C105.67,140.07 106.50,140.94 107.00,141.85 C107.50,142.76 107.80,143.95 107.80,145.00Z" transform="translate(101.80,145.00) scale(0.320) translate(-101.80,-145.00)" fill="#9c9cea" fill-opacity="0.080" stroke="#5e5ed4" stroke-width="1.563"/>
<path d="M107.80,145.00 C107.80,146.05 107.50,147.24 107.00,148.15 C106.50,149.06 105.67,149.93 104.80,150.46 C103.93,150.98 102.80,151.30 101.80,151.30 C100.80,151.30 99.67,150.98 98.80,150.46 C97.93,149.93 97.10,149.06 96.60,148.15 C96.10,147.24 95.80,146.05 95.80,145.00 C95.80,143.95 96.10,142.76 96.60,141.85 C97.10,140.94 97.93,140.07 98.80,139.54 C99.67,139.02 100.80,138.70 101.80,138.70 C102.80,138.70 103.93,139.02 104.80,139.54 C105.67,140.07 106.50,140.94 107.00,141.85 C107.50,142.76 107.80,143.95 107.80,145.00Z" transform="translate(101.80,145.00) scale(0.150) translate(-101.80,-145.00)" fill="#9c9cea" fill-opacity="0.100" stroke="#5e5ed4" stroke-width="3.333"/>
<circle cx="101.80" cy="145.00" r="0.8" fill="#f4f4ff" opacity="0.85"/>
<path d="M97.20,119.50 C97.62,118.42 98.53,116.62 101.00,116.00 C103.47,115.38 108.50,115.92 112.00,115.80 C115.50,115.68 119.67,115.02 122.00,115.30 C124.33,115.58 125.50,116.47 126.00,117.50 C126.50,118.53 126.33,120.58 125.00,121.50 C123.67,122.42 121.17,122.72 118.00,123.00 C114.83,123.28 109.25,123.28 106.00,123.20 C102.75,123.12 99.97,123.12 98.50,122.50 C97.03,121.88 96.78,120.58 97.20,119.50Z" transform="translate(119.00,119.00) scale(1.000) translate(-119.00,-119.00)" fill="#e8121e" fill-opacity="0.130" stroke="#d41a24" stroke-width="0.500"/>
<path d="M97.20,119.50 C97.62,118.42 98.53,116.62 101.00,116.00 C103.47,115.38 108.50,115.92 112.00,115.80 C115.50,115.68 119.67,115.02 122.00,115.30 C124.33,115.58 125.50,116.47 126.00,117.50 C126.50,118.53 126.33,120.58 125.00,121.50 C123.67,122.42 121.17,122.72 118.00,123.00 C114.83,123.28 109.25,123.28 106.00,123.20 C102.75,123.12 99.97,123.12 98.50,122.50 C97.03,121.88 96.78,120.58 97.20,119.50Z" transform="translate(119.00,119.00) scale(0.850) translate(-119.00,-119.00)" fill="#e8121e" fill-opacity="0.143" stroke="#d41a24" stroke-width="0.588"/>
<path d="M97.20,119.50 C97.62,118.42 98.53,116.62 101.00,116.00 C103.47,115.38 108.50,115.92 112.00,115.80 C115.50,115.68 119.67,115.02 122.00,115.30 C124.33,115.58 125.50,116.47 126.00,117.50 C126.50,118.53 126.33,120.58 125.00,121.50 C123.67,122.42 121.17,122.72 118.00,123.00 C114.83,123.28 109.25,123.28 106.00,123.20 C102.75,123.12 99.97,123.12 98.50,122.50 C97.03,121.88 96.78,120.58 97.20,119.50Z" transform="translate(119.00,119.00) scale(0.700) translate(-119.00,-119.00)" fill="#e8121e" fill-opacity="0.275" stroke="#d41a24" stroke-width="0.714"/>
<path d="M97.20,119.50 C97.62,118.42 98.53,116.62 101.00,116.00 C103.47,115.38 108.50,115.92 112.00,115.80 C115.50,115.68 119.67,115.02 122.00,115.30 C124.33,115.58 125.50,116.47 126.00,117.50 C126.50,118.53 126.33,120.58 125.00,121.50 C123.67,122.42 121.17,122.72 118.00,123.00 C114.83,123.28 109.25,123.28 106.00,123.20 C102.75,123.12 99.97,123.12 98.50,122.50 C97.03,121.88 96.78,120.58 97.20,119.50Z" transform="translate(119.00,119.00) scale(0.550) translate(-119.00,-119.00)" fill="#e8121e" fill-opacity="0.406" stroke="#d41a24" stroke-width="0.909"/>
<path d="M97.20,119.50 C97.62,118.42 98.53,116.62 101.00,116.00 C103.47,115.38 108.50,115.92 112.00,115.80 C115.50,115.68 119.67,115.02 122.00,115.30 C124.33,115.58 125.50,116.47 126.00,117.50 C126.50,118.53 126.33,120.58 125.00,121.50 C123.67,122.42 121.17,122.72 118.00,123.00 C114.83,123.28 109.25,123.28 106.00,123.20 C102.75,123.12 99.97,123.12 98.50,122.50 C97.03,121.88 96.78,120.58 97.20,119.50Z" transform="translate(119.00,119.00) scale(0.400) translate(-119.00,-119.00)" fill="#e8121e" fill-opacity="0.537" stroke="#d41a24" stroke-width="1.250"/>
<path d="M97.20,119.50 C97.62,118.42 98.53,116.62 101.00,116.00 C103.47,115.38 108.50,115.92 112.00,115.80 C115.50,115.68 119.67,115.02 122.00,115.30 C124.33,115.58 125.50,116.47 126.00,117.50 C126.50,118.53 126.33,120.58 125.00,121.50 C123.67,122.42 121.17,122.72 118.00,123.00 C114.83,123.28 109.25,123.28 106.00,123.20 C102.75,123.12 99.97,123.12 98.50,122.50 C97.03,121.88 96.78,120.58 97.20,119.50Z" transform="translate(119.00,119.00) scale(0.250) translate(-119.00,-119.00)" fill="#e8121e" fill-opacity="0.669" stroke="#d41a24" stroke-width="2.000"/>
<path d="M97.20,119.50 C97.62,118.42 98.53,116.62 101.00,116.00 C103.47,115.38 108.50,115.92 112.00,115.80 C115.50,115.68 119.67,115.02 122.00,115.30 C124.33,115.58 125.50,116.47 126.00,117.50 C126.50,118.53 126.33,120.58 125.00,121.50 C123.67,122.42 121.17,122.72 118.00,123.00 C114.83,123.28 109.25,123.28 106.00,123.20 C102.75,123.12 99.97,123.12 98.50,122.50 C97.03,121.88 96.78,120.58 97.20,119.50Z" transform="translate(119.00,119.00) scale(0.100) translate(-119.00,-119.00)" fill="#e8121e" fill-opacity="0.800" stroke="#d41a24" stroke-width="5.000"/>
<circle cx="119.00" cy="119.00" r="0.8" fill="#ffc8c8" opacity="0.85"/>
<path d="M195.00,145.00 C195.00,146.25 194.49,147.67 193.66,148.75 C192.83,149.83 191.44,150.87 190.00,151.50 C188.56,152.12 186.67,152.50 185.00,152.50 C183.33,152.50 181.44,152.12 180.00,151.50 C178.56,150.87 177.17,149.83 176.34,148.75 C175.51,147.67 175.00,146.25 175.00,145.00 C175.00,143.75 175.51,142.33 176.34,141.25 C177.17,140.17 178.56,139.13 180.00,138.50 C181.44,137.88 183.33,137.50 185.00,137.50 C186.67,137.50 188.56,137.88 190.00,138.50 C191.44,139.13 192.83,140.17 193.66,141.25 C194.49,142.33 195.00,143.75 195.00,145.00Z" transform="translate(185.00,145.00) scale(1.000) translate(-185.00,-145.00)" fill="#9c9cea" fill-opacity="0.320" stroke="#5e5ed4" stroke-width="0.500"/>
<path d="M195.00,145.00 C195.00,146.25 194.49,147.67 193.66,148.75 C192.83,149.83 191.44,150.87 190.00,151.50 C188.56,152.12 186.67,152.50 185.00,152.50 C183.33,152.50 181.44,152.12 180.00,151.50 C178.56,150.87 177.17,149.83 176.34,148.75 C175.51,147.67 175.00,146.25 175.00,145.00 C175.00,143.75 175.51,142.33 176.34,141.25 C177.17,140.17 178.56,139.13 180.00,138.50 C181.44,137.88 183.33,137.50 185.00,137.50 C186.67,137.50 188.56,137.88 190.00,138.50 C191.44,139.13 192.83,140.17 193.66,141.25 C194.49,142.33 195.00,143.75 195.00,145.00Z" transform="translate(185.00,145.00) scale(0.853) translate(-185.00,-145.00)" fill="#9c9cea" fill-opacity="0.050" stroke="#5e5ed4" stroke-width="0.586"/>
<path d="M195.00,145.00 C195.00,146.25 194.49,147.67 193.66,148.75 C192.83,149.83 191.44,150.87 190.00,151.50 C188.56,152.12 186.67,152.50 185.00,152.50 C183.33,152.50 181.44,152.12 180.00,151.50 C178.56,150.87 177.17,149.83 176.34,148.75 C175.51,147.67 175.00,146.25 175.00,145.00 C175.00,143.75 175.51,142.33 176.34,141.25 C177.17,140.17 178.56,139.13 180.00,138.50 C181.44,137.88 183.33,137.50 185.00,137.50 C186.67,137.50 188.56,137.88 190.00,138.50 C191.44,139.13 192.83,140.17 193.66,141.25 C194.49,142.33 195.00,143.75 195.00,145.00Z" transform="translate(185.00,145.00) scale(0.707) translate(-185.00,-145.00)" fill="#9c9cea" fill-opacity="0.050" stroke="#5e5ed4" stroke-width="0.708"/>
<path d="M195.00,145.00 C195.00,146.25 194.49,147.67 193.66,148.75 C192.83,149.83 191.44,150.87 190.00,151.50 C188.56,152.12 186.67,152.50 185.00,152.50 C183.33,152.50 181.44,152.12 180.00,151.50 C178.56,150.87 177.17,149.83 176.34,148.75 C175.51,147.67 175.00,146.25 175.00,145.00 C175.00,143.75 175.51,142.33 176.34,141.25 C177.17,140.17 178.56,139.13 180.00,138.50 C181.44,137.88 183.33,137.50 185.00,137.50 C186.67,137.50 188.56,137.88 190.00,138.50 C191.44,139.13 192.83,140.17 193.66,141.25 C194.49,142.33 195.00,143.75 195.00,145.00Z" transform="translate(185.00,145.00) scale(0.560) translate(-185.00,-145.00)" fill="#9c9cea" fill-opacity="0.050" stroke="#5e5ed4" stroke-width="0.893"/>
<path d="M195.00,145.00 C195.00,146.25 194.49,147.67 193.66,148.75 C192.83,149.83 191.44,150.87 190.00,151.50 C188.56,152.12 186.67,152.50 185.00,152.50 C183.33,152.50 181.44,152.12 180.00,151.50 C178.56,150.87 177.17,149.83 176.34,148.75 C175.51,147.67 175.00,146.25 175.00,145.00 C175.00,143.75 175.51,142.33 176.34,141.25 C177.17,140.17 178.56,139.13 180.00,138.50 C181.44,137.88 183.33,137.50 185.00,137.50 C186.67,137.50 188.56,137.88 190.00,138.50 C191.44,139.13 192.83,140.17 193.66,141.25 C194.49,142.33 195.00,143.75 195.00,145.00Z" transform="translate(185.00,145.00) scale(0.413) translate(-185.00,-145.00)" fill="#9c9cea" fill-opacity="0.067" stroke="#5e5ed4" stroke-width="1.210"/>
<path d="M195.00,145.00 C195.00,146.25 194.49,147.67 193.66,148.75 C192.83,149.83 191.44,150.87 190.00,151.50 C188.56,152.12 186.67,152.50 185.00,152.50 C183.33,152.50 181.44,152.12 180.00,151.50 C178.56,150.87 177.17,149.83 176.34,148.75 C175.51,147.67 175.00,146.25 175.00,145.00 C175.00,143.75 175.51,142.33 176.34,141.25 C177.17,140.17 178.56,139.13 180.00,138.50 C181.44,137.88 183.33,137.50 185.00,137.50 C186.67,137.50 188.56,137.88 190.00,138.50 C191.44,139.13 192.83,140.17 193.66,141.25 C194.49,142.33 195.00,143.75 195.00,145.00Z" transform="translate(185.00,145.00) scale(0.267) translate(-185.00,-145.00)" fill="#9c9cea" fill-opacity="0.083" stroke="#5e5ed4" stroke-width="1.875"/>
<path d="M195.00,145.00 C195.00,146.25 194.49,147.67 193.66,148.75 C192.83,149.83 191.44,150.87 190.00,151.50 C188.56,152.12 186.67,152.50 185.00,152.50 C183.33,152.50 181.44,152.12 180.00,151.50 C178.56,150.87 177.17,149.83 176.34,148.75 C175.51,147.67 175.00,146.25 175.00,145.00 C175.00,143.75 175.51,142.33 176.34,141.25 C177.17,140.17 178.56,139.13 180.00,138.50 C181.44,137.88 183.33,137.50 185.00,137.50 C186.67,137.50 188.56,137.88 190.00,138.50 C191.44,139.13 192.83,140.17 193.66,141.25 C194.49,142.33 195.00,143.75 195.00,145.00Z" transform="translate(185.00,145.00) scale(0.120) translate(-185.00,-145.00)" fill="#9c9cea" fill-opacity="0.100" stroke="#5e5ed4" stroke-width="4.167"/>
<circle cx="185.00" cy="145.00" r="0.8" fill="#f4f4ff" opacity="0.85"/>
<path d="M174.00,121.00 C176.33,119.83 191.33,119.83 194.00,121.00 C196.67,122.17 191.50,125.50 190.00,128.00 C188.50,130.50 186.67,136.00 185.00,136.00 C183.33,136.00 181.83,130.50 180.00,128.00 C178.17,125.50 171.67,122.17 174.00,121.00Z" transform="translate(184.50,126.00) scale(1.000) translate(-184.50,-126.00)" fill="#b0b0ee" fill-opacity="0.160" stroke="#7a7ad8" stroke-width="0.450"/>
<path d="M174.00,121.00 C176.33,119.83 191.33,119.83 194.00,121.00 C196.67,122.17 191.50,125.50 190.00,128.00 C188.50,130.50 186.67,136.00 185.00,136.00 C183.33,136.00 181.83,130.50 180.00,128.00 C178.17,125.50 171.67,122.17 174.00,121.00Z" transform="translate(184.50,126.00) scale(0.812) translate(-184.50,-126.00)" fill="#b0b0ee" fill-opacity="0.030" stroke="#7a7ad8" stroke-width="0.554"/>
<path d="M174.00,121.00 C176.33,119.83 191.33,119.83 194.00,121.00 C196.67,122.17 191.50,125.50 190.00,128.00 C188.50,130.50 186.67,136.00 185.00,136.00 C183.33,136.00 181.83,130.50 180.00,128.00 C178.17,125.50 171.67,122.17 174.00,121.00Z" transform="translate(184.50,126.00) scale(0.625) translate(-184.50,-126.00)" fill="#b0b0ee" fill-opacity="0.030" stroke="#7a7ad8" stroke-width="0.720"/>
<path d="M174.00,121.00 C176.33,119.83 191.33,119.83 194.00,121.00 C196.67,122.17 191.50,125.50 190.00,128.00 C188.50,130.50 186.67,136.00 185.00,136.00 C183.33,136.00 181.83,130.50 180.00,128.00 C178.17,125.50 171.67,122.17 174.00,121.00Z" transform="translate(184.50,126.00) scale(0.438) translate(-184.50,-126.00)" fill="#b0b0ee" fill-opacity="0.040" stroke="#7a7ad8" stroke-width="1.029"/>
<path d="M174.00,121.00 C176.33,119.83 191.33,119.83 194.00,121.00 C196.67,122.17 191.50,125.50 190.00,128.00 C188.50,130.50 186.67,136.00 185.00,136.00 C183.33,136.00 181.83,130.50 180.00,128.00 C178.17,125.50 171.67,122.17 174.00,121.00Z" transform="translate(184.50,126.00) scale(0.250) translate(-184.50,-126.00)" fill="#b0b0ee" fill-opacity="0.050" stroke="#7a7ad8" stroke-width="1.800"/>
<path d="M191.80,119.50 C191.80,120.22 191.20,121.03 190.22,121.65 C189.24,122.27 187.60,122.87 185.90,123.22 C184.20,123.58 181.97,123.80 180.00,123.80 C178.03,123.80 175.80,123.58 174.10,123.22 C172.40,122.87 170.76,122.27 169.78,121.65 C168.80,121.03 168.20,120.22 168.20,119.50 C168.20,118.78 168.80,117.97 169.78,117.35 C170.76,116.73 172.40,116.13 174.10,115.78 C175.80,115.42 178.03,115.20 180.00,115.20 C181.97,115.20 184.20,115.42 185.90,115.78 C187.60,116.13 189.24,116.73 190.22,117.35 C191.20,117.97 191.80,118.78 191.80,119.50Z" transform="translate(174.00,119.50) scale(1.000) translate(-174.00,-119.50)" fill="#e8121e" fill-opacity="0.130" stroke="#d41a24" stroke-width="0.500"/>
<path d="M191.80,119.50 C191.80,120.22 191.20,121.03 190.22,121.65 C189.24,122.27 187.60,122.87 185.90,123.22 C184.20,123.58 181.97,123.80 180.00,123.80 C178.03,123.80 175.80,123.58 174.10,123.22 C172.40,122.87 170.76,122.27 169.78,121.65 C168.80,121.03 168.20,120.22 168.20,119.50 C168.20,118.78 168.80,117.97 169.78,117.35 C170.76,116.73 172.40,116.13 174.10,115.78 C175.80,115.42 178.03,115.20 180.00,115.20 C181.97,115.20 184.20,115.42 185.90,115.78 C187.60,116.13 189.24,116.73 190.22,117.35 C191.20,117.97 191.80,118.78 191.80,119.50Z" transform="translate(174.00,119.50) scale(0.850) translate(-174.00,-119.50)" fill="#e8121e" fill-opacity="0.143" stroke="#d41a24" stroke-width="0.588"/>
<path d="M191.80,119.50 C191.80,120.22 191.20,121.03 190.22,121.65 C189.24,122.27 187.60,122.87 185.90,123.22 C184.20,123.58 181.97,123.80 180.00,123.80 C178.03,123.80 175.80,123.58 174.10,123.22 C172.40,122.87 170.76,122.27 169.78,121.65 C168.80,121.03 168.20,120.22 168.20,119.50 C168.20,118.78 168.80,117.97 169.78,117.35 C170.76,116.73 172.40,116.13 174.10,115.78 C175.80,115.42 178.03,115.20 180.00,115.20 C181.97,115.20 184.20,115.42 185.90,115.78 C187.60,116.13 189.24,116.73 190.22,117.35 C191.20,117.97 191.80,118.78 191.80,119.50Z" transform="translate(174.00,119.50) scale(0.700) translate(-174.00,-119.50)" fill="#e8121e" fill-opacity="0.275" stroke="#d41a24" stroke-width="0.714"/>
<path d="M191.80,119.50 C191.80,120.22 191.20,121.03 190.22,121.65 C189.24,122.27 187.60,122.87 185.90,123.22 C184.20,123.58 181.97,123.80 180.00,123.80 C178.03,123.80 175.80,123.58 174.10,123.22 C172.40,122.87 170.76,122.27 169.78,121.65 C168.80,121.03 168.20,120.22 168.20,119.50 C168.20,118.78 168.80,117.97 169.78,117.35 C170.76,116.73 172.40,116.13 174.10,115.78 C175.80,115.42 178.03,115.20 180.00,115.20 C181.97,115.20 184.20,115.42 185.90,115.78 C187.60,116.13 189.24,116.73 190.22,117.35 C191.20,117.97 191.80,118.78 191.80,119.50Z" transform="translate(174.00,119.50) scale(0.550) translate(-174.00,-119.50)" fill="#e8121e" fill-opacity="0.406" stroke="#d41a24" stroke-width="0.909"/>
<path d="M191.80,119.50 C191.80,120.22 191.20,121.03 190.22,121.65 C189.24,122.27 187.60,122.87 185.90,123.22 C184.20,123.58 181.97,123.80 180.00,123.80 C178.03,123.80 175.80,123.58 174.10,123.22 C172.40,122.87 170.76,122.27 169.78,121.65 C168.80,121.03 168.20,120.22 168.20,119.50 C168.20,118.78 168.80,117.97 169.78,117.35 C170.76,116.73 172.40,116.13 174.10,115.78 C175.80,115.42 178.03,115.20 180.00,115.20 C181.97,115.20 184.20,115.42 185.90,115.78 C187.60,116.13 189.24,116.73 190.22,117.35 C191.20,117.97 191.80,118.78 191.80,119.50Z" transform="translate(174.00,119.50) scale(0.400) translate(-174.00,-119.50)" fill="#e8121e" fill-opacity="0.537" stroke="#d41a24" stroke-width="1.250"/>
<path d="M191.80,119.50 C191.80,120.22 191.20,121.03 190.22,121.65 C189.24,122.27 187.60,122.87 185.90,123.22 C184.20,123.58 181.97,123.80 180.00,123.80 C178.03,123.80 175.80,123.58 174.10,123.22 C172.40,122.87 170.76,122.27 169.78,121.65 C168.80,121.03 168.20,120.22 168.20,119.50 C168.20,118.78 168.80,117.97 169.78,117.35 C170.76,116.73 172.40,116.13 174.10,115.78 C175.80,115.42 178.03,115.20 180.00,115.20 C181.97,115.20 184.20,115.42 185.90,115.78 C187.60,116.13 189.24,116.73 190.22,117.35 C191.20,117.97 191.80,118.78 191.80,119.50Z" transform="translate(174.00,119.50) scale(0.250) translate(-174.00,-119.50)" fill="#e8121e" fill-opacity="0.669" stroke="#d41a24" stroke-width="2.000"/>
<path d="M191.80,119.50 C191.80,120.22 191.20,121.03 190.22,121.65 C189.24,122.27 187.60,122.87 185.90,123.22 C184.20,123.58 181.97,123.80 180.00,123.80 C178.03,123.80 175.80,123.58 174.10,123.22 C172.40,122.87 170.76,122.27 169.78,121.65 C168.80,121.03 168.20,120.22 168.20,119.50 C168.20,118.78 168.80,117.97 169.78,117.35 C170.76,116.73 172.40,116.13 174.10,115.78 C175.80,115.42 178.03,115.20 180.00,115.20 C181.97,115.20 184.20,115.42 185.90,115.78 C187.60,116.13 189.24,116.73 190.22,117.35 C191.20,117.97 191.80,118.78 191.80,119.50Z" transform="translate(174.00,119.50) scale(0.100) translate(-174.00,-119.50)" fill="#e8121e" fill-opacity="0.800" stroke="#d41a24" stroke-width="5.000"/>
<circle cx="174.00" cy="119.50" r="0.8" fill="#ffc8c8" opacity="0.85"/>
<path d="M245.00,123.00 C247.67,120.08 257.83,121.83 262.00,122.50 C266.17,123.17 268.58,123.25 270.00,127.00 C271.42,130.75 270.83,140.78 270.50,145.00 C270.17,149.22 271.42,151.08 268.00,152.30 C264.58,153.52 253.67,154.35 250.00,152.30 C246.33,150.25 246.83,144.88 246.00,140.00 C245.17,135.12 242.33,125.92 245.00,123.00Z" transform="translate(259.00,143.00) scale(1.000) translate(-259.00,-143.00)" fill="#b0b0ee" fill-opacity="0.160" stroke="#7a7ad8" stroke-width="0.450"/>
<path d="M245.00,123.00 C247.67,120.08 257.83,121.83 262.00,122.50 C266.17,123.17 268.58,123.25 270.00,127.00 C271.42,130.75 270.83,140.78 270.50,145.00 C270.17,149.22 271.42,151.08 268.00,152.30 C264.58,153.52 253.67,154.35 250.00,152.30 C246.33,150.25 246.83,144.88 246.00,140.00 C245.17,135.12 242.33,125.92 245.00,123.00Z" transform="translate(259.00,143.00) scale(0.840) translate(-259.00,-143.00)" fill="#b0b0ee" fill-opacity="0.030" stroke="#7a7ad8" stroke-width="0.536"/>
<path d="M245.00,123.00 C247.67,120.08 257.83,121.83 262.00,122.50 C266.17,123.17 268.58,123.25 270.00,127.00 C271.42,130.75 270.83,140.78 270.50,145.00 C270.17,149.22 271.42,151.08 268.00,152.30 C264.58,153.52 253.67,154.35 250.00,152.30 C246.33,150.25 246.83,144.88 246.00,140.00 C245.17,135.12 242.33,125.92 245.00,123.00Z" transform="translate(259.00,143.00) scale(0.680) translate(-259.00,-143.00)" fill="#b0b0ee" fill-opacity="0.030" stroke="#7a7ad8" stroke-width="0.662"/>
<path d="M245.00,123.00 C247.67,120.08 257.83,121.83 262.00,122.50 C266.17,123.17 268.58,123.25 270.00,127.00 C271.42,130.75 270.83,140.78 270.50,145.00 C270.17,149.22 271.42,151.08 268.00,152.30 C264.58,153.52 253.67,154.35 250.00,152.30 C246.33,150.25 246.83,144.88 246.00,140.00 C245.17,135.12 242.33,125.92 245.00,123.00Z" transform="translate(259.00,143.00) scale(0.520) translate(-259.00,-143.00)" fill="#b0b0ee" fill-opacity="0.034" stroke="#7a7ad8" stroke-width="0.865"/>
<path d="M245.00,123.00 C247.67,120.08 257.83,121.83 262.00,122.50 C266.17,123.17 268.58,123.25 270.00,127.00 C271.42,130.75 270.83,140.78 270.50,145.00 C270.17,149.22 271.42,151.08 268.00,152.30 C264.58,153.52 253.67,154.35 250.00,152.30 C246.33,150.25 246.83,144.88 246.00,140.00 C245.17,135.12 242.33,125.92 245.00,123.00Z" transform="translate(259.00,143.00) scale(0.360) translate(-259.00,-143.00)" fill="#b0b0ee" fill-opacity="0.042" stroke="#7a7ad8" stroke-width="1.250"/>
<path d="M245.00,123.00 C247.67,120.08 257.83,121.83 262.00,122.50 C266.17,123.17 268.58,123.25 270.00,127.00 C271.42,130.75 270.83,140.78 270.50,145.00 C270.17,149.22 271.42,151.08 268.00,152.30 C264.58,153.52 253.67,154.35 250.00,152.30 C246.33,150.25 246.83,144.88 246.00,140.00 C245.17,135.12 242.33,125.92 245.00,123.00Z" transform="translate(259.00,143.00) scale(0.200) translate(-259.00,-143.00)" fill="#b0b0ee" fill-opacity="0.050" stroke="#7a7ad8" stroke-width="2.250"/>
<path d="M269.00,145.50 C269.00,146.55 268.49,147.74 267.66,148.65 C266.83,149.56 265.44,150.43 264.00,150.96 C262.56,151.48 260.67,151.80 259.00,151.80 C257.33,151.80 255.44,151.48 254.00,150.96 C252.56,150.43 251.17,149.56 250.34,148.65 C249.51,147.74 249.00,146.55 249.00,145.50 C249.00,144.45 249.51,143.26 250.34,142.35 C251.17,141.44 252.56,140.57 254.00,140.04 C255.44,139.52 257.33,139.20 259.00,139.20 C260.67,139.20 262.56,139.52 264.00,140.04 C265.44,140.57 266.83,141.44 267.66,142.35 C268.49,143.26 269.00,144.45 269.00,145.50Z" transform="translate(259.00,145.50) scale(1.000) translate(-259.00,-145.50)" fill="#b0b0ee" fill-opacity="0.160" stroke="#7a7ad8" stroke-width="0.450"/>
<path d="M269.00,145.50 C269.00,146.55 268.49,147.74 267.66,148.65 C266.83,149.56 265.44,150.43 264.00,150.96 C262.56,151.48 260.67,151.80 259.00,151.80 C257.33,151.80 255.44,151.48 254.00,150.96 C252.56,150.43 251.17,149.56 250.34,148.65 C249.51,147.74 249.00,146.55 249.00,145.50 C249.00,144.45 249.51,143.26 250.34,142.35 C251.17,141.44 252.56,140.57 254.00,140.04 C255.44,139.52 257.33,139.20 259.00,139.20 C260.67,139.20 262.56,139.52 264.00,140.04 C265.44,140.57 266.83,141.44 267.66,142.35 C268.49,143.26 269.00,144.45 269.00,145.50Z" transform="translate(259.00,145.50) scale(0.825) translate(-259.00,-145.50)" fill="#b0b0ee" fill-opacity="0.030" stroke="#7a7ad8" stroke-width="0.545"/>
<path d="M269.00,145.50 C269.00,146.55 268.49,147.74 267.66,148.65 C266.83,149.56 265.44,150.43 264.00,150.96 C262.56,151.48 260.67,151.80 259.00,151.80 C257.33,151.80 255.44,151.48 254.00,150.96 C252.56,150.43 251.17,149.56 250.34,148.65 C249.51,147.74 249.00,146.55 249.00,145.50 C249.00,144.45 249.51,143.26 250.34,142.35 C251.17,141.44 252.56,140.57 254.00,140.04 C255.44,139.52 257.33,139.20 259.00,139.20 C260.67,139.20 262.56,139.52 264.00,140.04 C265.44,140.57 266.83,141.44 267.66,142.35 C268.49,143.26 269.00,144.45 269.00,145.50Z" transform="translate(259.00,145.50) scale(0.650) translate(-259.00,-145.50)" fill="#b0b0ee" fill-opacity="0.030" stroke="#7a7ad8" stroke-width="0.692"/>
<path d="M269.00,145.50 C269.00,146.55 268.49,147.74 267.66,148.65 C266.83,149.56 265.44,150.43 264.00,150.96 C262.56,151.48 260.67,151.80 259.00,151.80 C257.33,151.80 255.44,151.48 254.00,150.96 C252.56,150.43 251.17,149.56 250.34,148.65 C249.51,147.74 249.00,146.55 249.00,145.50 C249.00,144.45 249.51,143.26 250.34,142.35 C251.17,141.44 252.56,140.57 254.00,140.04 C255.44,139.52 257.33,139.20 259.00,139.20 C260.67,139.20 262.56,139.52 264.00,140.04 C265.44,140.57 266.83,141.44 267.66,142.35 C268.49,143.26 269.00,144.45 269.00,145.50Z" transform="translate(259.00,145.50) scale(0.475) translate(-259.00,-145.50)" fill="#b0b0ee" fill-opacity="0.040" stroke="#7a7ad8" stroke-width="0.947"/>
<path d="M269.00,145.50 C269.00,146.55 268.49,147.74 267.66,148.65 C266.83,149.56 265.44,150.43 264.00,150.96 C262.56,151.48 260.67,151.80 259.00,151.80 C257.33,151.80 255.44,151.48 254.00,150.96 C252.56,150.43 251.17,149.56 250.34,148.65 C249.51,147.74 249.00,146.55 249.00,145.50 C249.00,144.45 249.51,143.26 250.34,142.35 C251.17,141.44 252.56,140.57 254.00,140.04 C255.44,139.52 257.33,139.20 259.00,139.20 C260.67,139.20 262.56,139.52 264.00,140.04 C265.44,140.57 266.83,141.44 267.66,142.35 C268.49,143.26 269.00,144.45 269.00,145.50Z" transform="translate(259.00,145.50) scale(0.300) translate(-259.00,-145.50)" fill="#b0b0ee" fill-opacity="0.050" stroke="#7a7ad8" stroke-width="1.500"/>
<path d="M243.2,116.5 C241.5,126 242.5,140 243.2,153" fill="none" stroke="#3c3cc8" stroke-width="1.0" opacity="0.85"/>
<path d="M248.5,117 C250.5,127 246,139 249,153" fill="none" stroke="#3c3cc8" stroke-width="0.9" opacity="0.8"/>
<path d="M245.5,118 C247,130 244.5,142 246,152" fill="none" stroke="#8080e0" stroke-width="0.6"/>
<path d="M241.20,119.00 C241.53,117.75 242.53,116.17 245.00,115.50 C247.47,114.83 252.50,115.15 256.00,115.00 C259.50,114.85 263.40,114.27 266.00,114.60 C268.60,114.93 270.77,115.77 271.60,117.00 C272.43,118.23 272.27,120.80 271.00,122.00 C269.73,123.20 267.17,123.83 264.00,124.20 C260.83,124.57 255.50,124.40 252.00,124.20 C248.50,124.00 244.80,123.87 243.00,123.00 C241.20,122.13 240.87,120.25 241.20,119.00Z" transform="translate(265.00,119.00) scale(1.000) translate(-265.00,-119.00)" fill="#e8121e" fill-opacity="0.130" stroke="#d41a24" stroke-width="0.500"/>
<path d="M241.20,119.00 C241.53,117.75 242.53,116.17 245.00,115.50 C247.47,114.83 252.50,115.15 256.00,115.00 C259.50,114.85 263.40,114.27 266.00,114.60 C268.60,114.93 270.77,115.77 271.60,117.00 C272.43,118.23 272.27,120.80 271.00,122.00 C269.73,123.20 267.17,123.83 264.00,124.20 C260.83,124.57 255.50,124.40 252.00,124.20 C248.50,124.00 244.80,123.87 243.00,123.00 C241.20,122.13 240.87,120.25 241.20,119.00Z" transform="translate(265.00,119.00) scale(0.871) translate(-265.00,-119.00)" fill="#e8121e" fill-opacity="0.130" stroke="#d41a24" stroke-width="0.574"/>
<path d="M241.20,119.00 C241.53,117.75 242.53,116.17 245.00,115.50 C247.47,114.83 252.50,115.15 256.00,115.00 C259.50,114.85 263.40,114.27 266.00,114.60 C268.60,114.93 270.77,115.77 271.60,117.00 C272.43,118.23 272.27,120.80 271.00,122.00 C269.73,123.20 267.17,123.83 264.00,124.20 C260.83,124.57 255.50,124.40 252.00,124.20 C248.50,124.00 244.80,123.87 243.00,123.00 C241.20,122.13 240.87,120.25 241.20,119.00Z" transform="translate(265.00,119.00) scale(0.743) translate(-265.00,-119.00)" fill="#e8121e" fill-opacity="0.130" stroke="#d41a24" stroke-width="0.673"/>
<path d="M241.20,119.00 C241.53,117.75 242.53,116.17 245.00,115.50 C247.47,114.83 252.50,115.15 256.00,115.00 C259.50,114.85 263.40,114.27 266.00,114.60 C268.60,114.93 270.77,115.77 271.60,117.00 C272.43,118.23 272.27,120.80 271.00,122.00 C269.73,123.20 267.17,123.83 264.00,124.20 C260.83,124.57 255.50,124.40 252.00,124.20 C248.50,124.00 244.80,123.87 243.00,123.00 C241.20,122.13 240.87,120.25 241.20,119.00Z" transform="translate(265.00,119.00) scale(0.614) translate(-265.00,-119.00)" fill="#e8121e" fill-opacity="0.211" stroke="#d41a24" stroke-width="0.814"/>
<path d="M241.20,119.00 C241.53,117.75 242.53,116.17 245.00,115.50 C247.47,114.83 252.50,115.15 256.00,115.00 C259.50,114.85 263.40,114.27 266.00,114.60 C268.60,114.93 270.77,115.77 271.60,117.00 C272.43,118.23 272.27,120.80 271.00,122.00 C269.73,123.20 267.17,123.83 264.00,124.20 C260.83,124.57 255.50,124.40 252.00,124.20 C248.50,124.00 244.80,123.87 243.00,123.00 C241.20,122.13 240.87,120.25 241.20,119.00Z" transform="translate(265.00,119.00) scale(0.486) translate(-265.00,-119.00)" fill="#e8121e" fill-opacity="0.358" stroke="#d41a24" stroke-width="1.029"/>
<path d="M241.20,119.00 C241.53,117.75 242.53,116.17 245.00,115.50 C247.47,114.83 252.50,115.15 256.00,115.00 C259.50,114.85 263.40,114.27 266.00,114.60 C268.60,114.93 270.77,115.77 271.60,117.00 C272.43,118.23 272.27,120.80 271.00,122.00 C269.73,123.20 267.17,123.83 264.00,124.20 C260.83,124.57 255.50,124.40 252.00,124.20 C248.50,124.00 244.80,123.87 243.00,123.00 C241.20,122.13 240.87,120.25 241.20,119.00Z" transform="translate(265.00,119.00) scale(0.357) translate(-265.00,-119.00)" fill="#e8121e" fill-opacity="0.505" stroke="#d41a24" stroke-width="1.400"/>
<path d="M241.20,119.00 C241.53,117.75 242.53,116.17 245.00,115.50 C247.47,114.83 252.50,115.15 256.00,115.00 C259.50,114.85 263.40,114.27 266.00,114.60 C268.60,114.93 270.77,115.77 271.60,117.00 C272.43,118.23 272.27,120.80 271.00,122.00 C269.73,123.20 267.17,123.83 264.00,124.20 C260.83,124.57 255.50,124.40 252.00,124.20 C248.50,124.00 244.80,123.87 243.00,123.00 C241.20,122.13 240.87,120.25 241.20,119.00Z" transform="translate(265.00,119.00) scale(0.229) translate(-265.00,-119.00)" fill="#e8121e" fill-opacity="0.653" stroke="#d41a24" stroke-width="2.187"/>
<path d="M241.20,119.00 C241.53,117.75 242.53,116.17 245.00,115.50 C247.47,114.83 252.50,115.15 256.00,115.00 C259.50,114.85 263.40,114.27 266.00,114.60 C268.60,114.93 270.77,115.77 271.60,117.00 C272.43,118.23 272.27,120.80 271.00,122.00 C269.73,123.20 267.17,123.83 264.00,124.20 C260.83,124.57 255.50,124.40 252.00,124.20 C248.50,124.00 244.80,123.87 243.00,123.00 C241.20,122.13 240.87,120.25 241.20,119.00Z" transform="translate(265.00,119.00) scale(0.100) translate(-265.00,-119.00)" fill="#e8121e" fill-opacity="0.800" stroke="#d41a24" stroke-width="5.000"/>
<circle cx="265.00" cy="119.00" r="0.8" fill="#ffc8c8" opacity="0.85"/>
<path d="M323.00,123.50 C324.67,122.08 332.17,122.33 336.00,122.50 C339.83,122.67 344.25,122.58 346.00,124.50 C347.75,126.42 346.08,130.08 346.50,134.00 C346.92,137.92 349.08,144.95 348.50,148.00 C347.92,151.05 345.92,151.58 343.00,152.30 C340.08,153.02 333.42,154.02 331.00,152.30 C328.58,150.58 329.33,145.55 328.50,142.00 C327.67,138.45 326.92,134.08 326.00,131.00 C325.08,127.92 321.33,124.92 323.00,123.50Z" transform="translate(339.00,142.00) scale(1.000) translate(-339.00,-142.00)" fill="#b0b0ee" fill-opacity="0.160" stroke="#7a7ad8" stroke-width="0.450"/>
<path d="M323.00,123.50 C324.67,122.08 332.17,122.33 336.00,122.50 C339.83,122.67 344.25,122.58 346.00,124.50 C347.75,126.42 346.08,130.08 346.50,134.00 C346.92,137.92 349.08,144.95 348.50,148.00 C347.92,151.05 345.92,151.58 343.00,152.30 C340.08,153.02 333.42,154.02 331.00,152.30 C328.58,150.58 329.33,145.55 328.50,142.00 C327.67,138.45 326.92,134.08 326.00,131.00 C325.08,127.92 321.33,124.92 323.00,123.50Z" transform="translate(339.00,142.00) scale(0.840) translate(-339.00,-142.00)" fill="#b0b0ee" fill-opacity="0.030" stroke="#7a7ad8" stroke-width="0.536"/>
<path d="M323.00,123.50 C324.67,122.08 332.17,122.33 336.00,122.50 C339.83,122.67 344.25,122.58 346.00,124.50 C347.75,126.42 346.08,130.08 346.50,134.00 C346.92,137.92 349.08,144.95 348.50,148.00 C347.92,151.05 345.92,151.58 343.00,152.30 C340.08,153.02 333.42,154.02 331.00,152.30 C328.58,150.58 329.33,145.55 328.50,142.00 C327.67,138.45 326.92,134.08 326.00,131.00 C325.08,127.92 321.33,124.92 323.00,123.50Z" transform="translate(339.00,142.00) scale(0.680) translate(-339.00,-142.00)" fill="#b0b0ee" fill-opacity="0.030" stroke="#7a7ad8" stroke-width="0.662"/>
<path d="M323.00,123.50 C324.67,122.08 332.17,122.33 336.00,122.50 C339.83,122.67 344.25,122.58 346.00,124.50 C347.75,126.42 346.08,130.08 346.50,134.00 C346.92,137.92 349.08,144.95 348.50,148.00 C347.92,151.05 345.92,151.58 343.00,152.30 C340.08,153.02 333.42,154.02 331.00,152.30 C328.58,150.58 329.33,145.55 328.50,142.00 C327.67,138.45 326.92,134.08 326.00,131.00 C325.08,127.92 321.33,124.92 323.00,123.50Z" transform="translate(339.00,142.00) scale(0.520) translate(-339.00,-142.00)" fill="#b0b0ee" fill-opacity="0.034" stroke="#7a7ad8" stroke-width="0.865"/>
<path d="M323.00,123.50 C324.67,122.08 332.17,122.33 336.00,122.50 C339.83,122.67 344.25,122.58 346.00,124.50 C347.75,126.42 346.08,130.08 346.50,134.00 C346.92,137.92 349.08,144.95 348.50,148.00 C347.92,151.05 345.92,151.58 343.00,152.30 C340.08,153.02 333.42,154.02 331.00,152.30 C328.58,150.58 329.33,145.55 328.50,142.00 C327.67,138.45 326.92,134.08 326.00,131.00 C325.08,127.92 321.33,124.92 323.00,123.50Z" transform="translate(339.00,142.00) scale(0.360) translate(-339.00,-142.00)" fill="#b0b0ee" fill-opacity="0.042" stroke="#7a7ad8" stroke-width="1.250"/>
<path d="M323.00,123.50 C324.67,122.08 332.17,122.33 336.00,122.50 C339.83,122.67 344.25,122.58 346.00,124.50 C347.75,126.42 346.08,130.08 346.50,134.00 C346.92,137.92 349.08,144.95 348.50,148.00 C347.92,151.05 345.92,151.58 343.00,152.30 C340.08,153.02 333.42,154.02 331.00,152.30 C328.58,150.58 329.33,145.55 328.50,142.00 C327.67,138.45 326.92,134.08 326.00,131.00 C325.08,127.92 321.33,124.92 323.00,123.50Z" transform="translate(339.00,142.00) scale(0.200) translate(-339.00,-142.00)" fill="#b0b0ee" fill-opacity="0.050" stroke="#7a7ad8" stroke-width="2.250"/>
<path d="M347.50,144.50 C347.50,145.72 347.15,147.10 346.56,148.15 C345.98,149.20 345.01,150.21 344.00,150.82 C342.99,151.43 341.67,151.80 340.50,151.80 C339.33,151.80 338.01,151.43 337.00,150.82 C335.99,150.21 335.02,149.20 334.44,148.15 C333.85,147.10 333.50,145.72 333.50,144.50 C333.50,143.28 333.85,141.90 334.44,140.85 C335.02,139.80 335.99,138.79 337.00,138.18 C338.01,137.57 339.33,137.20 340.50,137.20 C341.67,137.20 342.99,137.57 344.00,138.18 C345.01,138.79 345.98,139.80 346.56,140.85 C347.15,141.90 347.50,143.28 347.50,144.50Z" transform="translate(340.50,144.50) scale(1.000) translate(-340.50,-144.50)" fill="#9c9cea" fill-opacity="0.320" stroke="#5e5ed4" stroke-width="0.500"/>
<path d="M347.50,144.50 C347.50,145.72 347.15,147.10 346.56,148.15 C345.98,149.20 345.01,150.21 344.00,150.82 C342.99,151.43 341.67,151.80 340.50,151.80 C339.33,151.80 338.01,151.43 337.00,150.82 C335.99,150.21 335.02,149.20 334.44,148.15 C333.85,147.10 333.50,145.72 333.50,144.50 C333.50,143.28 333.85,141.90 334.44,140.85 C335.02,139.80 335.99,138.79 337.00,138.18 C338.01,137.57 339.33,137.20 340.50,137.20 C341.67,137.20 342.99,137.57 344.00,138.18 C345.01,138.79 345.98,139.80 346.56,140.85 C347.15,141.90 347.50,143.28 347.50,144.50Z" transform="translate(340.50,144.50) scale(0.850) translate(-340.50,-144.50)" fill="#9c9cea" fill-opacity="0.050" stroke="#5e5ed4" stroke-width="0.588"/>
<path d="M347.50,144.50 C347.50,145.72 347.15,147.10 346.56,148.15 C345.98,149.20 345.01,150.21 344.00,150.82 C342.99,151.43 341.67,151.80 340.50,151.80 C339.33,151.80 338.01,151.43 337.00,150.82 C335.99,150.21 335.02,149.20 334.44,148.15 C333.85,147.10 333.50,145.72 333.50,144.50 C333.50,143.28 333.85,141.90 334.44,140.85 C335.02,139.80 335.99,138.79 337.00,138.18 C338.01,137.57 339.33,137.20 340.50,137.20 C341.67,137.20 342.99,137.57 344.00,138.18 C345.01,138.79 345.98,139.80 346.56,140.85 C347.15,141.90 347.50,143.28 347.50,144.50Z" transform="translate(340.50,144.50) scale(0.700) translate(-340.50,-144.50)" fill="#9c9cea" fill-opacity="0.050" stroke="#5e5ed4" stroke-width="0.714"/>
<path d="M347.50,144.50 C347.50,145.72 347.15,147.10 346.56,148.15 C345.98,149.20 345.01,150.21 344.00,150.82 C342.99,151.43 341.67,151.80 340.50,151.80 C339.33,151.80 338.01,151.43 337.00,150.82 C335.99,150.21 335.02,149.20 334.44,148.15 C333.85,147.10 333.50,145.72 333.50,144.50 C333.50,143.28 333.85,141.90 334.44,140.85 C335.02,139.80 335.99,138.79 337.00,138.18 C338.01,137.57 339.33,137.20 340.50,137.20 C341.67,137.20 342.99,137.57 344.00,138.18 C345.01,138.79 345.98,139.80 346.56,140.85 C347.15,141.90 347.50,143.28 347.50,144.50Z" transform="translate(340.50,144.50) scale(0.550) translate(-340.50,-144.50)" fill="#9c9cea" fill-opacity="0.060" stroke="#5e5ed4" stroke-width="0.909"/>
<path d="M347.50,144.50 C347.50,145.72 347.15,147.10 346.56,148.15 C345.98,149.20 345.01,150.21 344.00,150.82 C342.99,151.43 341.67,151.80 340.50,151.80 C339.33,151.80 338.01,151.43 337.00,150.82 C335.99,150.21 335.02,149.20 334.44,148.15 C333.85,147.10 333.50,145.72 333.50,144.50 C333.50,143.28 333.85,141.90 334.44,140.85 C335.02,139.80 335.99,138.79 337.00,138.18 C338.01,137.57 339.33,137.20 340.50,137.20 C341.67,137.20 342.99,137.57 344.00,138.18 C345.01,138.79 345.98,139.80 346.56,140.85 C347.15,141.90 347.50,143.28 347.50,144.50Z" transform="translate(340.50,144.50) scale(0.400) translate(-340.50,-144.50)" fill="#9c9cea" fill-opacity="0.080" stroke="#5e5ed4" stroke-width="1.250"/>
<path d="M347.50,144.50 C347.50,145.72 347.15,147.10 346.56,148.15 C345.98,149.20 345.01,150.21 344.00,150.82 C342.99,151.43 341.67,151.80 340.50,151.80 C339.33,151.80 338.01,151.43 337.00,150.82 C335.99,150.21 335.02,149.20 334.44,148.15 C333.85,147.10 333.50,145.72 333.50,144.50 C333.50,143.28 333.85,141.90 334.44,140.85 C335.02,139.80 335.99,138.79 337.00,138.18 C338.01,137.57 339.33,137.20 340.50,137.20 C341.67,137.20 342.99,137.57 344.00,138.18 C345.01,138.79 345.98,139.80 346.56,140.85 C347.15,141.90 347.50,143.28 347.50,144.50Z" transform="translate(340.50,144.50) scale(0.250) translate(-340.50,-144.50)" fill="#9c9cea" fill-opacity="0.100" stroke="#5e5ed4" stroke-width="2.000"/>
<circle cx="340.50" cy="144.50" r="0.8" fill="#f4f4ff" opacity="0.85"/>
<ellipse cx="341" cy="145" rx="1.6" ry="2.2" fill="#fff" opacity="0.75"/>
<path d="M314.20,119.00 C314.53,117.92 315.70,116.70 318.00,116.00 C320.30,115.30 324.67,115.03 328.00,114.80 C331.33,114.57 335.50,114.32 338.00,114.60 C340.50,114.88 342.25,115.35 343.00,116.50 C343.75,117.65 343.67,120.25 342.50,121.50 C341.33,122.75 339.08,123.55 336.00,124.00 C332.92,124.45 327.33,124.45 324.00,124.20 C320.67,123.95 317.63,123.37 316.00,122.50 C314.37,121.63 313.87,120.08 314.20,119.00Z" transform="translate(330.00,118.80) scale(1.000) translate(-330.00,-118.80)" fill="#e8121e" fill-opacity="0.130" stroke="#d41a24" stroke-width="0.500"/>
<path d="M314.20,119.00 C314.53,117.92 315.70,116.70 318.00,116.00 C320.30,115.30 324.67,115.03 328.00,114.80 C331.33,114.57 335.50,114.32 338.00,114.60 C340.50,114.88 342.25,115.35 343.00,116.50 C343.75,117.65 343.67,120.25 342.50,121.50 C341.33,122.75 339.08,123.55 336.00,124.00 C332.92,124.45 327.33,124.45 324.00,124.20 C320.67,123.95 317.63,123.37 316.00,122.50 C314.37,121.63 313.87,120.08 314.20,119.00Z" transform="translate(330.00,118.80) scale(0.871) translate(-330.00,-118.80)" fill="#e8121e" fill-opacity="0.130" stroke="#d41a24" stroke-width="0.574"/>
<path d="M314.20,119.00 C314.53,117.92 315.70,116.70 318.00,116.00 C320.30,115.30 324.67,115.03 328.00,114.80 C331.33,114.57 335.50,114.32 338.00,114.60 C340.50,114.88 342.25,115.35 343.00,116.50 C343.75,117.65 343.67,120.25 342.50,121.50 C341.33,122.75 339.08,123.55 336.00,124.00 C332.92,124.45 327.33,124.45 324.00,124.20 C320.67,123.95 317.63,123.37 316.00,122.50 C314.37,121.63 313.87,120.08 314.20,119.00Z" transform="translate(330.00,118.80) scale(0.743) translate(-330.00,-118.80)" fill="#e8121e" fill-opacity="0.130" stroke="#d41a24" stroke-width="0.673"/>
<path d="M314.20,119.00 C314.53,117.92 315.70,116.70 318.00,116.00 C320.30,115.30 324.67,115.03 328.00,114.80 C331.33,114.57 335.50,114.32 338.00,114.60 C340.50,114.88 342.25,115.35 343.00,116.50 C343.75,117.65 343.67,120.25 342.50,121.50 C341.33,122.75 339.08,123.55 336.00,124.00 C332.92,124.45 327.33,124.45 324.00,124.20 C320.67,123.95 317.63,123.37 316.00,122.50 C314.37,121.63 313.87,120.08 314.20,119.00Z" transform="translate(330.00,118.80) scale(0.614) translate(-330.00,-118.80)" fill="#e8121e" fill-opacity="0.253" stroke="#d41a24" stroke-width="0.814"/>
<path d="M314.20,119.00 C314.53,117.92 315.70,116.70 318.00,116.00 C320.30,115.30 324.67,115.03 328.00,114.80 C331.33,114.57 335.50,114.32 338.00,114.60 C340.50,114.88 342.25,115.35 343.00,116.50 C343.75,117.65 343.67,120.25 342.50,121.50 C341.33,122.75 339.08,123.55 336.00,124.00 C332.92,124.45 327.33,124.45 324.00,124.20 C320.67,123.95 317.63,123.37 316.00,122.50 C314.37,121.63 313.87,120.08 314.20,119.00Z" transform="translate(330.00,118.80) scale(0.486) translate(-330.00,-118.80)" fill="#e8121e" fill-opacity="0.390" stroke="#d41a24" stroke-width="1.029"/>
<path d="M314.20,119.00 C314.53,117.92 315.70,116.70 318.00,116.00 C320.30,115.30 324.67,115.03 328.00,114.80 C331.33,114.57 335.50,114.32 338.00,114.60 C340.50,114.88 342.25,115.35 343.00,116.50 C343.75,117.65 343.67,120.25 342.50,121.50 C341.33,122.75 339.08,123.55 336.00,124.00 C332.92,124.45 327.33,124.45 324.00,124.20 C320.67,123.95 317.63,123.37 316.00,122.50 C314.37,121.63 313.87,120.08 314.20,119.00Z" transform="translate(330.00,118.80) scale(0.357) translate(-330.00,-118.80)" fill="#e8121e" fill-opacity="0.527" stroke="#d41a24" stroke-width="1.400"/>
<path d="M314.20,119.00 C314.53,117.92 315.70,116.70 318.00,116.00 C320.30,115.30 324.67,115.03 328.00,114.80 C331.33,114.57 335.50,114.32 338.00,114.60 C340.50,114.88 342.25,115.35 343.00,116.50 C343.75,117.65 343.67,120.25 342.50,121.50 C341.33,122.75 339.08,123.55 336.00,124.00 C332.92,124.45 327.33,124.45 324.00,124.20 C320.67,123.95 317.63,123.37 316.00,122.50 C314.37,121.63 313.87,120.08 314.20,119.00Z" transform="translate(330.00,118.80) scale(0.229) translate(-330.00,-118.80)" fill="#e8121e" fill-opacity="0.663" stroke="#d41a24" stroke-width="2.187"/>
<path d="M314.20,119.00 C314.53,117.92 315.70,116.70 318.00,116.00 C320.30,115.30 324.67,115.03 328.00,114.80 C331.33,114.57 335.50,114.32 338.00,114.60 C340.50,114.88 342.25,115.35 343.00,116.50 C343.75,117.65 343.67,120.25 342.50,121.50 C341.33,122.75 339.08,123.55 336.00,124.00 C332.92,124.45 327.33,124.45 324.00,124.20 C320.67,123.95 317.63,123.37 316.00,122.50 C314.37,121.63 313.87,120.08 314.20,119.00Z" transform="translate(330.00,118.80) scale(0.100) translate(-330.00,-118.80)" fill="#e8121e" fill-opacity="0.800" stroke="#d41a24" stroke-width="5.000"/>
<circle cx="330.00" cy="118.80" r="0.8" fill="#ffc8c8" opacity="0.85"/>
<path d="M408.0,124 L404.0,139 L412.0,152.3" fill="none" stroke="#c0c4e4" stroke-width="0.6"/>
<path d="M410.2,124 L406.2,139 L414.2,152.3" fill="none" stroke="#b0b6e4" stroke-width="0.6"/>
<path d="M412.4,124 L408.4,139 L416.4,152.3" fill="none" stroke="#a0a8e4" stroke-width="0.6"/>
<path d="M414.00,124.00 C415.33,122.83 419.60,122.83 422.00,123.00 C424.40,123.17 427.33,122.17 428.40,125.00 C429.47,127.83 428.47,135.45 428.40,140.00 C428.33,144.55 429.73,150.25 428.00,152.30 C426.27,154.35 420.17,153.52 418.00,152.30 C415.83,151.08 415.17,147.72 415.00,145.00 C414.83,142.28 417.17,138.50 417.00,136.00 C416.83,133.50 414.50,132.00 414.00,130.00 C413.50,128.00 412.67,125.17 414.00,124.00Z" transform="translate(423.00,140.00) scale(1.000) translate(-423.00,-140.00)" fill="#b0b0ee" fill-opacity="0.160" stroke="#7a7ad8" stroke-width="0.450"/>
<path d="M414.00,124.00 C415.33,122.83 419.60,122.83 422.00,123.00 C424.40,123.17 427.33,122.17 428.40,125.00 C429.47,127.83 428.47,135.45 428.40,140.00 C428.33,144.55 429.73,150.25 428.00,152.30 C426.27,154.35 420.17,153.52 418.00,152.30 C415.83,151.08 415.17,147.72 415.00,145.00 C414.83,142.28 417.17,138.50 417.00,136.00 C416.83,133.50 414.50,132.00 414.00,130.00 C413.50,128.00 412.67,125.17 414.00,124.00Z" transform="translate(423.00,140.00) scale(0.840) translate(-423.00,-140.00)" fill="#b0b0ee" fill-opacity="0.030" stroke="#7a7ad8" stroke-width="0.536"/>
<path d="M414.00,124.00 C415.33,122.83 419.60,122.83 422.00,123.00 C424.40,123.17 427.33,122.17 428.40,125.00 C429.47,127.83 428.47,135.45 428.40,140.00 C428.33,144.55 429.73,150.25 428.00,152.30 C426.27,154.35 420.17,153.52 418.00,152.30 C415.83,151.08 415.17,147.72 415.00,145.00 C414.83,142.28 417.17,138.50 417.00,136.00 C416.83,133.50 414.50,132.00 414.00,130.00 C413.50,128.00 412.67,125.17 414.00,124.00Z" transform="translate(423.00,140.00) scale(0.680) translate(-423.00,-140.00)" fill="#b0b0ee" fill-opacity="0.030" stroke="#7a7ad8" stroke-width="0.662"/>
<path d="M414.00,124.00 C415.33,122.83 419.60,122.83 422.00,123.00 C424.40,123.17 427.33,122.17 428.40,125.00 C429.47,127.83 428.47,135.45 428.40,140.00 C428.33,144.55 429.73,150.25 428.00,152.30 C426.27,154.35 420.17,153.52 418.00,152.30 C415.83,151.08 415.17,147.72 415.00,145.00 C414.83,142.28 417.17,138.50 417.00,136.00 C416.83,133.50 414.50,132.00 414.00,130.00 C413.50,128.00 412.67,125.17 414.00,124.00Z" transform="translate(423.00,140.00) scale(0.520) translate(-423.00,-140.00)" fill="#b0b0ee" fill-opacity="0.034" stroke="#7a7ad8" stroke-width="0.865"/>
<path d="M414.00,124.00 C415.33,122.83 419.60,122.83 422.00,123.00 C424.40,123.17 427.33,122.17 428.40,125.00 C429.47,127.83 428.47,135.45 428.40,140.00 C428.33,144.55 429.73,150.25 428.00,152.30 C426.27,154.35 420.17,153.52 418.00,152.30 C415.83,151.08 415.17,147.72 415.00,145.00 C414.83,142.28 417.17,138.50 417.00,136.00 C416.83,133.50 414.50,132.00 414.00,130.00 C413.50,128.00 412.67,125.17 414.00,124.00Z" transform="translate(423.00,140.00) scale(0.360) translate(-423.00,-140.00)" fill="#b0b0ee" fill-opacity="0.042" stroke="#7a7ad8" stroke-width="1.250"/>
<path d="M414.00,124.00 C415.33,122.83 419.60,122.83 422.00,123.00 C424.40,123.17 427.33,122.17 428.40,125.00 C429.47,127.83 428.47,135.45 428.40,140.00 C428.33,144.55 429.73,150.25 428.00,152.30 C426.27,154.35 420.17,153.52 418.00,152.30 C415.83,151.08 415.17,147.72 415.00,145.00 C414.83,142.28 417.17,138.50 417.00,136.00 C416.83,133.50 414.50,132.00 414.00,130.00 C413.50,128.00 412.67,125.17 414.00,124.00Z" transform="translate(423.00,140.00) scale(0.200) translate(-423.00,-140.00)" fill="#b0b0ee" fill-opacity="0.050" stroke="#7a7ad8" stroke-width="2.250"/>
<path d="M428.20,144.50 C428.20,145.75 427.99,147.17 427.64,148.25 C427.29,149.33 426.71,150.37 426.10,151.00 C425.49,151.62 424.70,152.00 424.00,152.00 C423.30,152.00 422.51,151.62 421.90,151.00 C421.29,150.37 420.71,149.33 420.36,148.25 C420.01,147.17 419.80,145.75 419.80,144.50 C419.80,143.25 420.01,141.83 420.36,140.75 C420.71,139.67 421.29,138.63 421.90,138.00 C422.51,137.38 423.30,137.00 424.00,137.00 C424.70,137.00 425.49,137.38 426.10,138.00 C426.71,138.63 427.29,139.67 427.64,140.75 C427.99,141.83 428.20,143.25 428.20,144.50Z" transform="translate(424.00,144.50) scale(1.000) translate(-424.00,-144.50)" fill="#9c9cea" fill-opacity="0.320" stroke="#5e5ed4" stroke-width="0.500"/>
<path d="M428.20,144.50 C428.20,145.75 427.99,147.17 427.64,148.25 C427.29,149.33 426.71,150.37 426.10,151.00 C425.49,151.62 424.70,152.00 424.00,152.00 C423.30,152.00 422.51,151.62 421.90,151.00 C421.29,150.37 420.71,149.33 420.36,148.25 C420.01,147.17 419.80,145.75 419.80,144.50 C419.80,143.25 420.01,141.83 420.36,140.75 C420.71,139.67 421.29,138.63 421.90,138.00 C422.51,137.38 423.30,137.00 424.00,137.00 C424.70,137.00 425.49,137.38 426.10,138.00 C426.71,138.63 427.29,139.67 427.64,140.75 C427.99,141.83 428.20,143.25 428.20,144.50Z" transform="translate(424.00,144.50) scale(0.840) translate(-424.00,-144.50)" fill="#9c9cea" fill-opacity="0.050" stroke="#5e5ed4" stroke-width="0.595"/>
<path d="M428.20,144.50 C428.20,145.75 427.99,147.17 427.64,148.25 C427.29,149.33 426.71,150.37 426.10,151.00 C425.49,151.62 424.70,152.00 424.00,152.00 C423.30,152.00 422.51,151.62 421.90,151.00 C421.29,150.37 420.71,149.33 420.36,148.25 C420.01,147.17 419.80,145.75 419.80,144.50 C419.80,143.25 420.01,141.83 420.36,140.75 C420.71,139.67 421.29,138.63 421.90,138.00 C422.51,137.38 423.30,137.00 424.00,137.00 C424.70,137.00 425.49,137.38 426.10,138.00 C426.71,138.63 427.29,139.67 427.64,140.75 C427.99,141.83 428.20,143.25 428.20,144.50Z" transform="translate(424.00,144.50) scale(0.680) translate(-424.00,-144.50)" fill="#9c9cea" fill-opacity="0.050" stroke="#5e5ed4" stroke-width="0.735"/>
<path d="M428.20,144.50 C428.20,145.75 427.99,147.17 427.64,148.25 C427.29,149.33 426.71,150.37 426.10,151.00 C425.49,151.62 424.70,152.00 424.00,152.00 C423.30,152.00 422.51,151.62 421.90,151.00 C421.29,150.37 420.71,149.33 420.36,148.25 C420.01,147.17 419.80,145.75 419.80,144.50 C419.80,143.25 420.01,141.83 420.36,140.75 C420.71,139.67 421.29,138.63 421.90,138.00 C422.51,137.38 423.30,137.00 424.00,137.00 C424.70,137.00 425.49,137.38 426.10,138.00 C426.71,138.63 427.29,139.67 427.64,140.75 C427.99,141.83 428.20,143.25 428.20,144.50Z" transform="translate(424.00,144.50) scale(0.520) translate(-424.00,-144.50)" fill="#9c9cea" fill-opacity="0.060" stroke="#5e5ed4" stroke-width="0.962"/>
<path d="M428.20,144.50 C428.20,145.75 427.99,147.17 427.64,148.25 C427.29,149.33 426.71,150.37 426.10,151.00 C425.49,151.62 424.70,152.00 424.00,152.00 C423.30,152.00 422.51,151.62 421.90,151.00 C421.29,150.37 420.71,149.33 420.36,148.25 C420.01,147.17 419.80,145.75 419.80,144.50 C419.80,143.25 420.01,141.83 420.36,140.75 C420.71,139.67 421.29,138.63 421.90,138.00 C422.51,137.38 423.30,137.00 424.00,137.00 C424.70,137.00 425.49,137.38 426.10,138.00 C426.71,138.63 427.29,139.67 427.64,140.75 C427.99,141.83 428.20,143.25 428.20,144.50Z" transform="translate(424.00,144.50) scale(0.360) translate(-424.00,-144.50)" fill="#9c9cea" fill-opacity="0.080" stroke="#5e5ed4" stroke-width="1.389"/>
<path d="M428.20,144.50 C428.20,145.75 427.99,147.17 427.64,148.25 C427.29,149.33 426.71,150.37 426.10,151.00 C425.49,151.62 424.70,152.00 424.00,152.00 C423.30,152.00 422.51,151.62 421.90,151.00 C421.29,150.37 420.71,149.33 420.36,148.25 C420.01,147.17 419.80,145.75 419.80,144.50 C419.80,143.25 420.01,141.83 420.36,140.75 C420.71,139.67 421.29,138.63 421.90,138.00 C422.51,137.38 423.30,137.00 424.00,137.00 C424.70,137.00 425.49,137.38 426.10,138.00 C426.71,138.63 427.29,139.67 427.64,140.75 C427.99,141.83 428.20,143.25 428.20,144.50Z" transform="translate(424.00,144.50) scale(0.200) translate(-424.00,-144.50)" fill="#9c9cea" fill-opacity="0.100" stroke="#5e5ed4" stroke-width="2.500"/>
<circle cx="424.00" cy="144.50" r="0.8" fill="#f4f4ff" opacity="0.85"/>
<ellipse cx="424.5" cy="145" rx="1.1" ry="3" fill="#fff" opacity="0.7"/>
<path d="M400.80,119.50 C401.13,118.42 402.13,116.72 404.00,116.00 C405.87,115.28 409.00,115.33 412.00,115.20 C415.00,115.07 419.47,114.82 422.00,115.20 C424.53,115.58 426.37,116.37 427.20,117.50 C428.03,118.63 428.20,120.88 427.00,122.00 C425.80,123.12 423.17,123.87 420.00,124.20 C416.83,124.53 411.00,124.28 408.00,124.00 C405.00,123.72 403.20,123.25 402.00,122.50 C400.80,121.75 400.47,120.58 400.80,119.50Z" transform="translate(419.00,119.20) scale(1.000) translate(-419.00,-119.20)" fill="#e8121e" fill-opacity="0.130" stroke="#d41a24" stroke-width="0.500"/>
<path d="M400.80,119.50 C401.13,118.42 402.13,116.72 404.00,116.00 C405.87,115.28 409.00,115.33 412.00,115.20 C415.00,115.07 419.47,114.82 422.00,115.20 C424.53,115.58 426.37,116.37 427.20,117.50 C428.03,118.63 428.20,120.88 427.00,122.00 C425.80,123.12 423.17,123.87 420.00,124.20 C416.83,124.53 411.00,124.28 408.00,124.00 C405.00,123.72 403.20,123.25 402.00,122.50 C400.80,121.75 400.47,120.58 400.80,119.50Z" transform="translate(419.00,119.20) scale(0.871) translate(-419.00,-119.20)" fill="#e8121e" fill-opacity="0.130" stroke="#d41a24" stroke-width="0.574"/>
<path d="M400.80,119.50 C401.13,118.42 402.13,116.72 404.00,116.00 C405.87,115.28 409.00,115.33 412.00,115.20 C415.00,115.07 419.47,114.82 422.00,115.20 C424.53,115.58 426.37,116.37 427.20,117.50 C428.03,118.63 428.20,120.88 427.00,122.00 C425.80,123.12 423.17,123.87 420.00,124.20 C416.83,124.53 411.00,124.28 408.00,124.00 C405.00,123.72 403.20,123.25 402.00,122.50 C400.80,121.75 400.47,120.58 400.80,119.50Z" transform="translate(419.00,119.20) scale(0.743) translate(-419.00,-119.20)" fill="#e8121e" fill-opacity="0.130" stroke="#d41a24" stroke-width="0.673"/>
<path d="M400.80,119.50 C401.13,118.42 402.13,116.72 404.00,116.00 C405.87,115.28 409.00,115.33 412.00,115.20 C415.00,115.07 419.47,114.82 422.00,115.20 C424.53,115.58 426.37,116.37 427.20,117.50 C428.03,118.63 428.20,120.88 427.00,122.00 C425.80,123.12 423.17,123.87 420.00,124.20 C416.83,124.53 411.00,124.28 408.00,124.00 C405.00,123.72 403.20,123.25 402.00,122.50 C400.80,121.75 400.47,120.58 400.80,119.50Z" transform="translate(419.00,119.20) scale(0.614) translate(-419.00,-119.20)" fill="#e8121e" fill-opacity="0.130" stroke="#d41a24" stroke-width="0.814"/>
<path d="M400.80,119.50 C401.13,118.42 402.13,116.72 404.00,116.00 C405.87,115.28 409.00,115.33 412.00,115.20 C415.00,115.07 419.47,114.82 422.00,115.20 C424.53,115.58 426.37,116.37 427.20,117.50 C428.03,118.63 428.20,120.88 427.00,122.00 C425.80,123.12 423.17,123.87 420.00,124.20 C416.83,124.53 411.00,124.28 408.00,124.00 C405.00,123.72 403.20,123.25 402.00,122.50 C400.80,121.75 400.47,120.58 400.80,119.50Z" transform="translate(419.00,119.20) scale(0.486) translate(-419.00,-119.20)" fill="#e8121e" fill-opacity="0.278" stroke="#d41a24" stroke-width="1.029"/>
<path d="M400.80,119.50 C401.13,118.42 402.13,116.72 404.00,116.00 C405.87,115.28 409.00,115.33 412.00,115.20 C415.00,115.07 419.47,114.82 422.00,115.20 C424.53,115.58 426.37,116.37 427.20,117.50 C428.03,118.63 428.20,120.88 427.00,122.00 C425.80,123.12 423.17,123.87 420.00,124.20 C416.83,124.53 411.00,124.28 408.00,124.00 C405.00,123.72 403.20,123.25 402.00,122.50 C400.80,121.75 400.47,120.58 400.80,119.50Z" transform="translate(419.00,119.20) scale(0.357) translate(-419.00,-119.20)" fill="#e8121e" fill-opacity="0.452" stroke="#d41a24" stroke-width="1.400"/>
<path d="M400.80,119.50 C401.13,118.42 402.13,116.72 404.00,116.00 C405.87,115.28 409.00,115.33 412.00,115.20 C415.00,115.07 419.47,114.82 422.00,115.20 C424.53,115.58 426.37,116.37 427.20,117.50 C428.03,118.63 428.20,120.88 427.00,122.00 C425.80,123.12 423.17,123.87 420.00,124.20 C416.83,124.53 411.00,124.28 408.00,124.00 C405.00,123.72 403.20,123.25 402.00,122.50 C400.80,121.75 400.47,120.58 400.80,119.50Z" transform="translate(419.00,119.20) scale(0.229) translate(-419.00,-119.20)" fill="#e8121e" fill-opacity="0.626" stroke="#d41a24" stroke-width="2.187"/>
<path d="M400.80,119.50 C401.13,118.42 402.13,116.72 404.00,116.00 C405.87,115.28 409.00,115.33 412.00,115.20 C415.00,115.07 419.47,114.82 422.00,115.20 C424.53,115.58 426.37,116.37 427.20,117.50 C428.03,118.63 428.20,120.88 427.00,122.00 C425.80,123.12 423.17,123.87 420.00,124.20 C416.83,124.53 411.00,124.28 408.00,124.00 C405.00,123.72 403.20,123.25 402.00,122.50 C400.80,121.75 400.47,120.58 400.80,119.50Z" transform="translate(419.00,119.20) scale(0.100) translate(-419.00,-119.20)" fill="#e8121e" fill-opacity="0.800" stroke="#d41a24" stroke-width="5.000"/>
<circle cx="419.00" cy="119.20" r="0.8" fill="#ffc8c8" opacity="0.85"/>
<path d="M497.00,137.00 C497.00,139.58 496.54,142.51 495.79,144.75 C495.04,146.99 493.80,149.13 492.50,150.42 C491.20,151.72 489.50,152.50 488.00,152.50 C486.50,152.50 484.80,151.72 483.50,150.42 C482.20,149.13 480.96,146.99 480.21,144.75 C479.46,142.51 479.00,139.58 479.00,137.00 C479.00,134.42 479.46,131.49 480.21,129.25 C480.96,127.01 482.20,124.87 483.50,123.58 C484.80,122.28 486.50,121.50 488.00,121.50 C489.50,121.50 491.20,122.28 492.50,123.58 C493.80,124.87 495.04,127.01 495.79,129.25 C496.54,131.49 497.00,134.42 497.00,137.00Z" transform="translate(488.00,137.00) scale(1.000) translate(-488.00,-137.00)" fill="#b0b0ee" fill-opacity="0.160" stroke="#7a7ad8" stroke-width="0.450"/>
<path d="M497.00,137.00 C497.00,139.58 496.54,142.51 495.79,144.75 C495.04,146.99 493.80,149.13 492.50,150.42 C491.20,151.72 489.50,152.50 488.00,152.50 C486.50,152.50 484.80,151.72 483.50,150.42 C482.20,149.13 480.96,146.99 480.21,144.75 C479.46,142.51 479.00,139.58 479.00,137.00 C479.00,134.42 479.46,131.49 480.21,129.25 C480.96,127.01 482.20,124.87 483.50,123.58 C484.80,122.28 486.50,121.50 488.00,121.50 C489.50,121.50 491.20,122.28 492.50,123.58 C493.80,124.87 495.04,127.01 495.79,129.25 C496.54,131.49 497.00,134.42 497.00,137.00Z" transform="translate(488.00,137.00) scale(0.812) translate(-488.00,-137.00)" fill="#b0b0ee" fill-opacity="0.030" stroke="#7a7ad8" stroke-width="0.554"/>
<path d="M497.00,137.00 C497.00,139.58 496.54,142.51 495.79,144.75 C495.04,146.99 493.80,149.13 492.50,150.42 C491.20,151.72 489.50,152.50 488.00,152.50 C486.50,152.50 484.80,151.72 483.50,150.42 C482.20,149.13 480.96,146.99 480.21,144.75 C479.46,142.51 479.00,139.58 479.00,137.00 C479.00,134.42 479.46,131.49 480.21,129.25 C480.96,127.01 482.20,124.87 483.50,123.58 C484.80,122.28 486.50,121.50 488.00,121.50 C489.50,121.50 491.20,122.28 492.50,123.58 C493.80,124.87 495.04,127.01 495.79,129.25 C496.54,131.49 497.00,134.42 497.00,137.00Z" transform="translate(488.00,137.00) scale(0.625) translate(-488.00,-137.00)" fill="#b0b0ee" fill-opacity="0.030" stroke="#7a7ad8" stroke-width="0.720"/>
<path d="M497.00,137.00 C497.00,139.58 496.54,142.51 495.79,144.75 C495.04,146.99 493.80,149.13 492.50,150.42 C491.20,151.72 489.50,152.50 488.00,152.50 C486.50,152.50 484.80,151.72 483.50,150.42 C482.20,149.13 480.96,146.99 480.21,144.75 C479.46,142.51 479.00,139.58 479.00,137.00 C479.00,134.42 479.46,131.49 480.21,129.25 C480.96,127.01 482.20,124.87 483.50,123.58 C484.80,122.28 486.50,121.50 488.00,121.50 C489.50,121.50 491.20,122.28 492.50,123.58 C493.80,124.87 495.04,127.01 495.79,129.25 C496.54,131.49 497.00,134.42 497.00,137.00Z" transform="translate(488.00,137.00) scale(0.438) translate(-488.00,-137.00)" fill="#b0b0ee" fill-opacity="0.040" stroke="#7a7ad8" stroke-width="1.029"/>
<path d="M497.00,137.00 C497.00,139.58 496.54,142.51 495.79,144.75 C495.04,146.99 493.80,149.13 492.50,150.42 C491.20,151.72 489.50,152.50 488.00,152.50 C486.50,152.50 484.80,151.72 483.50,150.42 C482.20,149.13 480.96,146.99 480.21,144.75 C479.46,142.51 479.00,139.58 479.00,137.00 C479.00,134.42 479.46,131.49 480.21,129.25 C480.96,127.01 482.20,124.87 483.50,123.58 C484.80,122.28 486.50,121.50 488.00,121.50 C489.50,121.50 491.20,122.28 492.50,123.58 C493.80,124.87 495.04,127.01 495.79,129.25 C496.54,131.49 497.00,134.42 497.00,137.00Z" transform="translate(488.00,137.00) scale(0.250) translate(-488.00,-137.00)" fill="#b0b0ee" fill-opacity="0.050" stroke="#7a7ad8" stroke-width="1.800"/>
<path d="M489.00,146.00 C489.00,147.08 488.14,148.31 486.72,149.25 C485.31,150.19 482.95,151.09 480.50,151.63 C478.05,152.17 474.83,152.50 472.00,152.50 C469.17,152.50 465.95,152.17 463.50,151.63 C461.05,151.09 458.69,150.19 457.28,149.25 C455.86,148.31 455.00,147.08 455.00,146.00 C455.00,144.92 455.86,143.69 457.28,142.75 C458.69,141.81 461.05,140.91 463.50,140.37 C465.95,139.83 469.17,139.50 472.00,139.50 C474.83,139.50 478.05,139.83 480.50,140.37 C482.95,140.91 485.31,141.81 486.72,142.75 C488.14,143.69 489.00,144.92 489.00,146.00Z" transform="translate(463.00,146.00) scale(1.000) translate(-463.00,-146.00)" fill="#9c9cea" fill-opacity="0.320" stroke="#5e5ed4" stroke-width="0.500"/>
<path d="M489.00,146.00 C489.00,147.08 488.14,148.31 486.72,149.25 C485.31,150.19 482.95,151.09 480.50,151.63 C478.05,152.17 474.83,152.50 472.00,152.50 C469.17,152.50 465.95,152.17 463.50,151.63 C461.05,151.09 458.69,150.19 457.28,149.25 C455.86,148.31 455.00,147.08 455.00,146.00 C455.00,144.92 455.86,143.69 457.28,142.75 C458.69,141.81 461.05,140.91 463.50,140.37 C465.95,139.83 469.17,139.50 472.00,139.50 C474.83,139.50 478.05,139.83 480.50,140.37 C482.95,140.91 485.31,141.81 486.72,142.75 C488.14,143.69 489.00,144.92 489.00,146.00Z" transform="translate(463.00,146.00) scale(0.858) translate(-463.00,-146.00)" fill="#9c9cea" fill-opacity="0.050" stroke="#5e5ed4" stroke-width="0.583"/>
<path d="M489.00,146.00 C489.00,147.08 488.14,148.31 486.72,149.25 C485.31,150.19 482.95,151.09 480.50,151.63 C478.05,152.17 474.83,152.50 472.00,152.50 C469.17,152.50 465.95,152.17 463.50,151.63 C461.05,151.09 458.69,150.19 457.28,149.25 C455.86,148.31 455.00,147.08 455.00,146.00 C455.00,144.92 455.86,143.69 457.28,142.75 C458.69,141.81 461.05,140.91 463.50,140.37 C465.95,139.83 469.17,139.50 472.00,139.50 C474.83,139.50 478.05,139.83 480.50,140.37 C482.95,140.91 485.31,141.81 486.72,142.75 C488.14,143.69 489.00,144.92 489.00,146.00Z" transform="translate(463.00,146.00) scale(0.717) translate(-463.00,-146.00)" fill="#9c9cea" fill-opacity="0.050" stroke="#5e5ed4" stroke-width="0.698"/>
<path d="M489.00,146.00 C489.00,147.08 488.14,148.31 486.72,149.25 C485.31,150.19 482.95,151.09 480.50,151.63 C478.05,152.17 474.83,152.50 472.00,152.50 C469.17,152.50 465.95,152.17 463.50,151.63 C461.05,151.09 458.69,150.19 457.28,149.25 C455.86,148.31 455.00,147.08 455.00,146.00 C455.00,144.92 455.86,143.69 457.28,142.75 C458.69,141.81 461.05,140.91 463.50,140.37 C465.95,139.83 469.17,139.50 472.00,139.50 C474.83,139.50 478.05,139.83 480.50,140.37 C482.95,140.91 485.31,141.81 486.72,142.75 C488.14,143.69 489.00,144.92 489.00,146.00Z" transform="translate(463.00,146.00) scale(0.575) translate(-463.00,-146.00)" fill="#9c9cea" fill-opacity="0.050" stroke="#5e5ed4" stroke-width="0.870"/>
<path d="M489.00,146.00 C489.00,147.08 488.14,148.31 486.72,149.25 C485.31,150.19 482.95,151.09 480.50,151.63 C478.05,152.17 474.83,152.50 472.00,152.50 C469.17,152.50 465.95,152.17 463.50,151.63 C461.05,151.09 458.69,150.19 457.28,149.25 C455.86,148.31 455.00,147.08 455.00,146.00 C455.00,144.92 455.86,143.69 457.28,142.75 C458.69,141.81 461.05,140.91 463.50,140.37 C465.95,139.83 469.17,139.50 472.00,139.50 C474.83,139.50 478.05,139.83 480.50,140.37 C482.95,140.91 485.31,141.81 486.72,142.75 C488.14,143.69 489.00,144.92 489.00,146.00Z" transform="translate(463.00,146.00) scale(0.433) translate(-463.00,-146.00)" fill="#9c9cea" fill-opacity="0.067" stroke="#5e5ed4" stroke-width="1.154"/>
<path d="M489.00,146.00 C489.00,147.08 488.14,148.31 486.72,149.25 C485.31,150.19 482.95,151.09 480.50,151.63 C478.05,152.17 474.83,152.50 472.00,152.50 C469.17,152.50 465.95,152.17 463.50,151.63 C461.05,151.09 458.69,150.19 457.28,149.25 C455.86,148.31 455.00,147.08 455.00,146.00 C455.00,144.92 455.86,143.69 457.28,142.75 C458.69,141.81 461.05,140.91 463.50,140.37 C465.95,139.83 469.17,139.50 472.00,139.50 C474.83,139.50 478.05,139.83 480.50,140.37 C482.95,140.91 485.31,141.81 486.72,142.75 C488.14,143.69 489.00,144.92 489.00,146.00Z" transform="translate(463.00,146.00) scale(0.292) translate(-463.00,-146.00)" fill="#9c9cea" fill-opacity="0.083" stroke="#5e5ed4" stroke-width="1.714"/>
<path d="M489.00,146.00 C489.00,147.08 488.14,148.31 486.72,149.25 C485.31,150.19 482.95,151.09 480.50,151.63 C478.05,152.17 474.83,152.50 472.00,152.50 C469.17,152.50 465.95,152.17 463.50,151.63 C461.05,151.09 458.69,150.19 457.28,149.25 C455.86,148.31 455.00,147.08 455.00,146.00 C455.00,144.92 455.86,143.69 457.28,142.75 C458.69,141.81 461.05,140.91 463.50,140.37 C465.95,139.83 469.17,139.50 472.00,139.50 C474.83,139.50 478.05,139.83 480.50,140.37 C482.95,140.91 485.31,141.81 486.72,142.75 C488.14,143.69 489.00,144.92 489.00,146.00Z" transform="translate(463.00,146.00) scale(0.150) translate(-463.00,-146.00)" fill="#9c9cea" fill-opacity="0.100" stroke="#5e5ed4" stroke-width="3.333"/>
<circle cx="463.00" cy="146.00" r="0.8" fill="#f4f4ff" opacity="0.85"/>
<path d="M458,123 C459,128 462,131 468,132 C474,133 478,136 482,138" fill="none" stroke="#9aa4e0" stroke-width="0.6"/>
<path d="M466,123 C467,127 470,129 476,130" fill="none" stroke="#9aa4e0" stroke-width="0.6"/>
<path d="M468.80,119.00 C468.80,119.60 468.50,120.28 468.00,120.80 C467.50,121.32 466.67,121.82 465.80,122.12 C464.93,122.42 463.80,122.60 462.80,122.60 C461.80,122.60 460.67,122.42 459.80,122.12 C458.93,121.82 458.10,121.32 457.60,120.80 C457.10,120.28 456.80,119.60 456.80,119.00 C456.80,118.40 457.10,117.72 457.60,117.20 C458.10,116.68 458.93,116.18 459.80,115.88 C460.67,115.58 461.80,115.40 462.80,115.40 C463.80,115.40 464.93,115.58 465.80,115.88 C466.67,116.18 467.50,116.68 468.00,117.20 C468.50,117.72 468.80,118.40 468.80,119.00Z" transform="translate(462.80,119.00) scale(1.000) translate(-462.80,-119.00)" fill="#e8121e" fill-opacity="0.130" stroke="#d41a24" stroke-width="0.500"/>
<path d="M468.80,119.00 C468.80,119.60 468.50,120.28 468.00,120.80 C467.50,121.32 466.67,121.82 465.80,122.12 C464.93,122.42 463.80,122.60 462.80,122.60 C461.80,122.60 460.67,122.42 459.80,122.12 C458.93,121.82 458.10,121.32 457.60,120.80 C457.10,120.28 456.80,119.60 456.80,119.00 C456.80,118.40 457.10,117.72 457.60,117.20 C458.10,116.68 458.93,116.18 459.80,115.88 C460.67,115.58 461.80,115.40 462.80,115.40 C463.80,115.40 464.93,115.58 465.80,115.88 C466.67,116.18 467.50,116.68 468.00,117.20 C468.50,117.72 468.80,118.40 468.80,119.00Z" transform="translate(462.80,119.00) scale(0.833) translate(-462.80,-119.00)" fill="#e8121e" fill-opacity="0.130" stroke="#d41a24" stroke-width="0.600"/>
<path d="M468.80,119.00 C468.80,119.60 468.50,120.28 468.00,120.80 C467.50,121.32 466.67,121.82 465.80,122.12 C464.93,122.42 463.80,122.60 462.80,122.60 C461.80,122.60 460.67,122.42 459.80,122.12 C458.93,121.82 458.10,121.32 457.60,120.80 C457.10,120.28 456.80,119.60 456.80,119.00 C456.80,118.40 457.10,117.72 457.60,117.20 C458.10,116.68 458.93,116.18 459.80,115.88 C460.67,115.58 461.80,115.40 462.80,115.40 C463.80,115.40 464.93,115.58 465.80,115.88 C466.67,116.18 467.50,116.68 468.00,117.20 C468.50,117.72 468.80,118.40 468.80,119.00Z" transform="translate(462.80,119.00) scale(0.667) translate(-462.80,-119.00)" fill="#e8121e" fill-opacity="0.242" stroke="#d41a24" stroke-width="0.750"/>
<path d="M468.80,119.00 C468.80,119.60 468.50,120.28 468.00,120.80 C467.50,121.32 466.67,121.82 465.80,122.12 C464.93,122.42 463.80,122.60 462.80,122.60 C461.80,122.60 460.67,122.42 459.80,122.12 C458.93,121.82 458.10,121.32 457.60,120.80 C457.10,120.28 456.80,119.60 456.80,119.00 C456.80,118.40 457.10,117.72 457.60,117.20 C458.10,116.68 458.93,116.18 459.80,115.88 C460.67,115.58 461.80,115.40 462.80,115.40 C463.80,115.40 464.93,115.58 465.80,115.88 C466.67,116.18 467.50,116.68 468.00,117.20 C468.50,117.72 468.80,118.40 468.80,119.00Z" transform="translate(462.80,119.00) scale(0.500) translate(-462.80,-119.00)" fill="#e8121e" fill-opacity="0.800" stroke="#d41a24" stroke-width="1.000"/>
<circle cx="462.80" cy="119.00" r="0.8" fill="#ffc8c8" opacity="0.85"/>
<path d="M498.00,119.50 C498.00,120.37 497.44,121.35 496.53,122.10 C495.61,122.85 494.09,123.57 492.50,124.00 C490.91,124.44 488.83,124.70 487.00,124.70 C485.17,124.70 483.09,124.44 481.50,124.00 C479.91,123.57 478.39,122.85 477.47,122.10 C476.56,121.35 476.00,120.37 476.00,119.50 C476.00,118.63 476.56,117.65 477.47,116.90 C478.39,116.15 479.91,115.43 481.50,115.00 C483.09,114.56 485.17,114.30 487.00,114.30 C488.83,114.30 490.91,114.56 492.50,115.00 C494.09,115.43 495.61,116.15 496.53,116.90 C497.44,117.65 498.00,118.63 498.00,119.50Z" transform="translate(490.00,119.50) scale(1.000) translate(-490.00,-119.50)" fill="#e8121e" fill-opacity="0.130" stroke="#d41a24" stroke-width="0.500"/>
<path d="M498.00,119.50 C498.00,120.37 497.44,121.35 496.53,122.10 C495.61,122.85 494.09,123.57 492.50,124.00 C490.91,124.44 488.83,124.70 487.00,124.70 C485.17,124.70 483.09,124.44 481.50,124.00 C479.91,123.57 478.39,122.85 477.47,122.10 C476.56,121.35 476.00,120.37 476.00,119.50 C476.00,118.63 476.56,117.65 477.47,116.90 C478.39,116.15 479.91,115.43 481.50,115.00 C483.09,114.56 485.17,114.30 487.00,114.30 C488.83,114.30 490.91,114.56 492.50,115.00 C494.09,115.43 495.61,116.15 496.53,116.90 C497.44,117.65 498.00,118.63 498.00,119.50Z" transform="translate(490.00,119.50) scale(0.850) translate(-490.00,-119.50)" fill="#e8121e" fill-opacity="0.143" stroke="#d41a24" stroke-width="0.588"/>
<path d="M498.00,119.50 C498.00,120.37 497.44,121.35 496.53,122.10 C495.61,122.85 494.09,123.57 492.50,124.00 C490.91,124.44 488.83,124.70 487.00,124.70 C485.17,124.70 483.09,124.44 481.50,124.00 C479.91,123.57 478.39,122.85 477.47,122.10 C476.56,121.35 476.00,120.37 476.00,119.50 C476.00,118.63 476.56,117.65 477.47,116.90 C478.39,116.15 479.91,115.43 481.50,115.00 C483.09,114.56 485.17,114.30 487.00,114.30 C488.83,114.30 490.91,114.56 492.50,115.00 C494.09,115.43 495.61,116.15 496.53,116.90 C497.44,117.65 498.00,118.63 498.00,119.50Z" transform="translate(490.00,119.50) scale(0.700) translate(-490.00,-119.50)" fill="#e8121e" fill-opacity="0.275" stroke="#d41a24" stroke-width="0.714"/>
<path d="M498.00,119.50 C498.00,120.37 497.44,121.35 496.53,122.10 C495.61,122.85 494.09,123.57 492.50,124.00 C490.91,124.44 488.83,124.70 487.00,124.70 C485.17,124.70 483.09,124.44 481.50,124.00 C479.91,123.57 478.39,122.85 477.47,122.10 C476.56,121.35 476.00,120.37 476.00,119.50 C476.00,118.63 476.56,117.65 477.47,116.90 C478.39,116.15 479.91,115.43 481.50,115.00 C483.09,114.56 485.17,114.30 487.00,114.30 C488.83,114.30 490.91,114.56 492.50,115.00 C494.09,115.43 495.61,116.15 496.53,116.90 C497.44,117.65 498.00,118.63 498.00,119.50Z" transform="translate(490.00,119.50) scale(0.550) translate(-490.00,-119.50)" fill="#e8121e" fill-opacity="0.406" stroke="#d41a24" stroke-width="0.909"/>
<path d="M498.00,119.50 C498.00,120.37 497.44,121.35 496.53,122.10 C495.61,122.85 494.09,123.57 492.50,124.00 C490.91,124.44 488.83,124.70 487.00,124.70 C485.17,124.70 483.09,124.44 481.50,124.00 C479.91,123.57 478.39,122.85 477.47,122.10 C476.56,121.35 476.00,120.37 476.00,119.50 C476.00,118.63 476.56,117.65 477.47,116.90 C478.39,116.15 479.91,115.43 481.50,115.00 C483.09,114.56 485.17,114.30 487.00,114.30 C488.83,114.30 490.91,114.56 492.50,115.00 C494.09,115.43 495.61,116.15 496.53,116.90 C497.44,117.65 498.00,118.63 498.00,119.50Z" transform="translate(490.00,119.50) scale(0.400) translate(-490.00,-119.50)" fill="#e8121e" fill-opacity="0.537" stroke="#d41a24" stroke-width="1.250"/>
<path d="M498.00,119.50 C498.00,120.37 497.44,121.35 496.53,122.10 C495.61,122.85 494.09,123.57 492.50,124.00 C490.91,124.44 488.83,124.70 487.00,124.70 C485.17,124.70 483.09,124.44 481.50,124.00 C479.91,123.57 478.39,122.85 477.47,122.10 C476.56,121.35 476.00,120.37 476.00,119.50 C476.00,118.63 476.56,117.65 477.47,116.90 C478.39,116.15 479.91,115.43 481.50,115.00 C483.09,114.56 485.17,114.30 487.00,114.30 C488.83,114.30 490.91,114.56 492.50,115.00 C494.09,115.43 495.61,116.15 496.53,116.90 C497.44,117.65 498.00,118.63 498.00,119.50Z" transform="translate(490.00,119.50) scale(0.250) translate(-490.00,-119.50)" fill="#e8121e" fill-opacity="0.669" stroke="#d41a24" stroke-width="2.000"/>
<path d="M498.00,119.50 C498.00,120.37 497.44,121.35 496.53,122.10 C495.61,122.85 494.09,123.57 492.50,124.00 C490.91,124.44 488.83,124.70 487.00,124.70 C485.17,124.70 483.09,124.44 481.50,124.00 C479.91,123.57 478.39,122.85 477.47,122.10 C476.56,121.35 476.00,120.37 476.00,119.50 C476.00,118.63 476.56,117.65 477.47,116.90 C478.39,116.15 479.91,115.43 481.50,115.00 C483.09,114.56 485.17,114.30 487.00,114.30 C488.83,114.30 490.91,114.56 492.50,115.00 C494.09,115.43 495.61,116.15 496.53,116.90 C497.44,117.65 498.00,118.63 498.00,119.50Z" transform="translate(490.00,119.50) scale(0.100) translate(-490.00,-119.50)" fill="#e8121e" fill-opacity="0.800" stroke="#d41a24" stroke-width="5.000"/>
<circle cx="490.00" cy="119.50" r="0.8" fill="#ffc8c8" opacity="0.85"/>
</g>
<circle cx="390.7" cy="124" r="1.6" fill="#ccc"/>
<rect x="22" y="10.6" width="67" height="69.4" fill="none" stroke="#333" stroke-width="1.3"/>
<rect x="21" y="85" width="67" height="69.19999999999999" fill="none" stroke="#333" stroke-width="1.3"/>
<rect x="95" y="10.6" width="66" height="69.4" fill="none" stroke="#333" stroke-width="1.3"/>
<rect x="94" y="85" width="66" height="69.19999999999999" fill="none" stroke="#333" stroke-width="1.3"/>
<rect x="168" y="10.6" width="66" height="69.4" fill="none" stroke="#333" stroke-width="1.3"/>
<rect x="167" y="85" width="66" height="69.19999999999999" fill="none" stroke="#333" stroke-width="1.3"/>
<rect x="240" y="10.6" width="66" height="69.4" fill="none" stroke="#333" stroke-width="1.3"/>
<rect x="239" y="85" width="66" height="69.19999999999999" fill="none" stroke="#333" stroke-width="1.3"/>
<rect x="311" y="10.6" width="66" height="69.4" fill="none" stroke="#333" stroke-width="1.3"/>
<rect x="310" y="85" width="66" height="69.19999999999999" fill="none" stroke="#333" stroke-width="1.3"/>
<rect x="383" y="10.6" width="65" height="69.4" fill="none" stroke="#333" stroke-width="1.3"/>
<rect x="382" y="85" width="65" height="69.19999999999999" fill="none" stroke="#333" stroke-width="1.3"/>
<rect x="453" y="10.6" width="66" height="69.4" fill="none" stroke="#333" stroke-width="1.3"/>
<rect x="452" y="85" width="66" height="69.19999999999999" fill="none" stroke="#333" stroke-width="1.3"/>
<rect x="25.3" y="13.3" width="9.4" height="4.9" fill="#fbe6e0" stroke="#cc4a50" stroke-width="1.1"/>
<text x="36.3" y="17.7" font-size="5.1" fill="#333" >NKG2C+ expansion</text>
<rect x="25.3" y="22.1" width="9.4" height="4.9" fill="#eef0ff" stroke="#4048c0" stroke-width="1.1"/>
<text x="36.3" y="26.5" font-size="5.1" fill="#333" >NKG2C- bulk</text>
<rect x="24.9" y="87.9" width="9.4" height="4.9" fill="#fbe6e0" stroke="#cc4a50" stroke-width="1.1"/>
<text x="35.9" y="92.3" font-size="5.1" fill="#333" >NKG2C- expansion</text>
<rect x="24.9" y="96.7" width="9.4" height="4.9" fill="#eef0ff" stroke="#4048c0" stroke-width="1.1"/>
<text x="35.9" y="101.1" font-size="5.1" fill="#333" >NKG2C- bulk</text>
<text x="0" y="177.6" font-size="12" font-weight="bold" fill="#000" >B</text>
<text x="55.85" y="183.7" font-size="8.6" text-anchor="middle" fill="#000" stroke="#000" stroke-width="0.12" >NKp30 (%)</text>
<line x1="26.60" y1="197.90" x2="26.60" y2="250.10" stroke="#222" stroke-width="1.0" />
<line x1="26.60" y1="250.10" x2="84.80" y2="250.10" stroke="#222" stroke-width="1.0" />
<text x="24" y="252.2" font-size="6.0" text-anchor="end" fill="#000" letter-spacing="-0.45">0</text>
<line x1="25.20" y1="240.70" x2="26.60" y2="240.70" stroke="#444" stroke-width="0.6" />
<text x="24" y="241.5" font-size="6.0" text-anchor="end" fill="#000" letter-spacing="-0.45">20</text>
<line x1="25.20" y1="230.00" x2="26.60" y2="230.00" stroke="#444" stroke-width="0.6" />
<text x="24" y="230.8" font-size="6.0" text-anchor="end" fill="#000" letter-spacing="-0.45">40</text>
<line x1="25.20" y1="219.30" x2="26.60" y2="219.30" stroke="#444" stroke-width="0.6" />
<text x="24" y="220.1" font-size="6.0" text-anchor="end" fill="#000" letter-spacing="-0.45">60</text>
<line x1="25.20" y1="208.60" x2="26.60" y2="208.60" stroke="#444" stroke-width="0.6" />
<text x="24" y="209.4" font-size="6.0" text-anchor="end" fill="#000" letter-spacing="-0.45">80</text>
<line x1="25.20" y1="197.90" x2="26.60" y2="197.90" stroke="#444" stroke-width="0.6" />
<text x="24" y="198.7" font-size="6.0" text-anchor="end" fill="#000" letter-spacing="-0.45">100</text>
<line x1="47.50" y1="197.00" x2="47.50" y2="250.10" stroke="#111" stroke-width="1.55" stroke-dasharray="3.1,1.4"/>
<line x1="64.60" y1="197.00" x2="64.60" y2="250.10" stroke="#111" stroke-width="1.55" stroke-dasharray="3.1,1.4"/>
<circle cx="34.10" cy="190.4" r="1.35" fill="#111"/>
<circle cx="38.35" cy="190.4" r="1.35" fill="#111"/>
<circle cx="42.60" cy="190.4" r="1.35" fill="#111"/>
<circle cx="54.67" cy="190.4" r="1.35" fill="#111"/>
<circle cx="58.92" cy="190.4" r="1.35" fill="#111"/>
<line x1="32.90" y1="250.10" x2="32.90" y2="251.50" stroke="#444" stroke-width="0.6" />
<line x1="40.40" y1="250.10" x2="40.40" y2="251.50" stroke="#444" stroke-width="0.6" />
<line x1="52.25" y1="250.10" x2="52.25" y2="251.50" stroke="#444" stroke-width="0.6" />
<line x1="59.10" y1="250.10" x2="59.10" y2="251.50" stroke="#444" stroke-width="0.6" />
<line x1="72.50" y1="250.10" x2="72.50" y2="251.50" stroke="#444" stroke-width="0.6" />
<line x1="79.60" y1="250.10" x2="79.60" y2="251.50" stroke="#444" stroke-width="0.6" />
<line x1="31.90" y1="256.90" x2="33.90" y2="256.90" stroke="#333" stroke-width="1.0" />
<line x1="38.90" y1="256.90" x2="41.90" y2="256.90" stroke="#222" stroke-width="0.95" />
<line x1="40.40" y1="255.40" x2="40.40" y2="258.40" stroke="#222" stroke-width="0.95" />
<circle cx="40.40" cy="256.90" r="0.75" fill="#222"/>
<line x1="51.25" y1="256.90" x2="53.25" y2="256.90" stroke="#333" stroke-width="1.0" />
<line x1="58.10" y1="256.90" x2="60.10" y2="256.90" stroke="#333" stroke-width="1.0" />
<line x1="71.50" y1="256.90" x2="73.50" y2="256.90" stroke="#333" stroke-width="1.0" />
<line x1="78.60" y1="256.90" x2="80.60" y2="256.90" stroke="#333" stroke-width="1.0" />
<line x1="31.40" y1="265.90" x2="34.40" y2="265.90" stroke="#222" stroke-width="0.95" />
<line x1="32.90" y1="264.40" x2="32.90" y2="267.40" stroke="#222" stroke-width="0.95" />
<circle cx="32.90" cy="265.90" r="0.75" fill="#222"/>
<line x1="38.90" y1="265.90" x2="41.90" y2="265.90" stroke="#222" stroke-width="0.95" />
<line x1="40.40" y1="264.40" x2="40.40" y2="267.40" stroke="#222" stroke-width="0.95" />
<circle cx="40.40" cy="265.90" r="0.75" fill="#222"/>
<line x1="50.75" y1="265.90" x2="53.75" y2="265.90" stroke="#222" stroke-width="0.95" />
<line x1="52.25" y1="264.40" x2="52.25" y2="267.40" stroke="#222" stroke-width="0.95" />
<circle cx="52.25" cy="265.90" r="0.75" fill="#222"/>
<line x1="57.60" y1="265.90" x2="60.60" y2="265.90" stroke="#222" stroke-width="0.95" />
<line x1="59.10" y1="264.40" x2="59.10" y2="267.40" stroke="#222" stroke-width="0.95" />
<circle cx="59.10" cy="265.90" r="0.75" fill="#222"/>
<line x1="71.00" y1="265.90" x2="74.00" y2="265.90" stroke="#222" stroke-width="0.95" />
<line x1="72.50" y1="264.40" x2="72.50" y2="267.40" stroke="#222" stroke-width="0.95" />
<circle cx="72.50" cy="265.90" r="0.75" fill="#222"/>
<line x1="78.10" y1="265.90" x2="81.10" y2="265.90" stroke="#222" stroke-width="0.95" />
<line x1="79.60" y1="264.40" x2="79.60" y2="267.40" stroke="#222" stroke-width="0.95" />
<circle cx="79.60" cy="265.90" r="0.75" fill="#222"/>
<line x1="31.90" y1="275.00" x2="33.90" y2="275.00" stroke="#333" stroke-width="1.0" />
<line x1="38.90" y1="275.00" x2="41.90" y2="275.00" stroke="#222" stroke-width="0.95" />
<line x1="40.40" y1="273.50" x2="40.40" y2="276.50" stroke="#222" stroke-width="0.95" />
<circle cx="40.40" cy="275.00" r="0.75" fill="#222"/>
<line x1="51.25" y1="275.00" x2="53.25" y2="275.00" stroke="#333" stroke-width="1.0" />
<line x1="57.60" y1="275.00" x2="60.60" y2="275.00" stroke="#222" stroke-width="0.95" />
<line x1="59.10" y1="273.50" x2="59.10" y2="276.50" stroke="#222" stroke-width="0.95" />
<circle cx="59.10" cy="275.00" r="0.75" fill="#222"/>
<line x1="71.50" y1="275.00" x2="73.50" y2="275.00" stroke="#333" stroke-width="1.0" />
<line x1="78.10" y1="275.00" x2="81.10" y2="275.00" stroke="#222" stroke-width="0.95" />
<line x1="79.60" y1="273.50" x2="79.60" y2="276.50" stroke="#222" stroke-width="0.95" />
<circle cx="79.60" cy="275.00" r="0.75" fill="#222"/>
<line x1="32.90" y1="200.34" x2="40.40" y2="223.35" stroke="#111" stroke-width="0.8" />
<line x1="32.90" y1="208.91" x2="40.40" y2="227.63" stroke="#111" stroke-width="0.8" />
<line x1="32.90" y1="214.79" x2="40.40" y2="228.70" stroke="#111" stroke-width="0.8" />
<line x1="32.90" y1="216.39" x2="40.40" y2="230.84" stroke="#111" stroke-width="0.8" />
<line x1="32.90" y1="217.47" x2="40.40" y2="232.44" stroke="#111" stroke-width="0.8" />
<line x1="32.90" y1="218.53" x2="40.40" y2="234.05" stroke="#111" stroke-width="0.8" />
<line x1="32.90" y1="219.60" x2="40.40" y2="235.66" stroke="#111" stroke-width="0.8" />
<line x1="32.90" y1="220.67" x2="40.40" y2="237.26" stroke="#111" stroke-width="0.8" />
<line x1="32.90" y1="221.75" x2="40.40" y2="239.40" stroke="#111" stroke-width="0.8" />
<line x1="32.90" y1="222.81" x2="40.40" y2="241.54" stroke="#111" stroke-width="0.8" />
<line x1="32.90" y1="223.88" x2="40.40" y2="244.75" stroke="#111" stroke-width="0.8" />
<line x1="32.90" y1="215.86" x2="40.40" y2="226.56" stroke="#111" stroke-width="0.8" />
<line x1="32.90" y1="219.07" x2="40.40" y2="229.77" stroke="#111" stroke-width="0.8" />
<line x1="52.25" y1="214.79" x2="59.10" y2="231.38" stroke="#111" stroke-width="0.8" />
<line x1="52.25" y1="218.00" x2="59.10" y2="234.05" stroke="#111" stroke-width="0.8" />
<line x1="52.25" y1="223.88" x2="59.10" y2="235.12" stroke="#111" stroke-width="0.8" />
<line x1="52.25" y1="225.49" x2="59.10" y2="237.26" stroke="#111" stroke-width="0.8" />
<line x1="52.25" y1="227.09" x2="59.10" y2="239.40" stroke="#111" stroke-width="0.8" />
<line x1="52.25" y1="228.70" x2="59.10" y2="241.54" stroke="#111" stroke-width="0.8" />
<line x1="52.25" y1="230.31" x2="59.10" y2="243.68" stroke="#111" stroke-width="0.8" />
<line x1="52.25" y1="231.38" x2="59.10" y2="245.82" stroke="#111" stroke-width="0.8" />
<line x1="52.25" y1="239.40" x2="59.10" y2="246.89" stroke="#111" stroke-width="0.8" />
<line x1="52.25" y1="222.28" x2="59.10" y2="232.98" stroke="#111" stroke-width="0.8" />
<line x1="72.10" y1="201.95" x2="79.80" y2="201.95" stroke="#111" stroke-width="0.8" />
<line x1="72.10" y1="204.62" x2="79.80" y2="204.09" stroke="#111" stroke-width="0.8" />
<line x1="72.10" y1="204.09" x2="79.80" y2="201.95" stroke="#111" stroke-width="0.8" />
<line x1="72.10" y1="214.25" x2="79.80" y2="208.91" stroke="#111" stroke-width="0.8" />
<line x1="72.10" y1="208.91" x2="79.80" y2="208.91" stroke="#111" stroke-width="0.8" />
<line x1="72.10" y1="219.07" x2="79.80" y2="219.07" stroke="#111" stroke-width="0.8" />
<line x1="72.10" y1="222.28" x2="79.80" y2="224.95" stroke="#111" stroke-width="0.8" />
<line x1="72.10" y1="224.95" x2="79.80" y2="222.28" stroke="#111" stroke-width="0.8" />
<line x1="72.10" y1="227.63" x2="79.80" y2="227.63" stroke="#111" stroke-width="0.8" />
<line x1="72.10" y1="219.07" x2="79.80" y2="224.95" stroke="#111" stroke-width="0.8" />
<text x="126.6" y="183.7" font-size="8.6" text-anchor="middle" fill="#000" stroke="#000" stroke-width="0.12" >LIR-1 (%)</text>
<line x1="98.70" y1="197.90" x2="98.70" y2="250.10" stroke="#222" stroke-width="1.0" />
<line x1="98.70" y1="250.10" x2="157.00" y2="250.10" stroke="#222" stroke-width="1.0" />
<text x="96.1" y="252.2" font-size="6.0" text-anchor="end" fill="#000" letter-spacing="-0.45">0</text>
<line x1="97.30" y1="240.70" x2="98.70" y2="240.70" stroke="#444" stroke-width="0.6" />
<text x="96.1" y="241.5" font-size="6.0" text-anchor="end" fill="#000" letter-spacing="-0.45">20</text>
<line x1="97.30" y1="230.00" x2="98.70" y2="230.00" stroke="#444" stroke-width="0.6" />
<text x="96.1" y="230.8" font-size="6.0" text-anchor="end" fill="#000" letter-spacing="-0.45">40</text>
<line x1="97.30" y1="219.30" x2="98.70" y2="219.30" stroke="#444" stroke-width="0.6" />
<text x="96.1" y="220.1" font-size="6.0" text-anchor="end" fill="#000" letter-spacing="-0.45">60</text>
<line x1="97.30" y1="208.60" x2="98.70" y2="208.60" stroke="#444" stroke-width="0.6" />
<text x="96.1" y="209.4" font-size="6.0" text-anchor="end" fill="#000" letter-spacing="-0.45">80</text>
<line x1="97.30" y1="197.90" x2="98.70" y2="197.90" stroke="#444" stroke-width="0.6" />
<text x="96.1" y="198.7" font-size="6.0" text-anchor="end" fill="#000" letter-spacing="-0.45">100</text>
<line x1="117.60" y1="197.00" x2="117.60" y2="250.10" stroke="#111" stroke-width="1.55" stroke-dasharray="3.1,1.4"/>
<line x1="137.10" y1="197.00" x2="137.10" y2="250.10" stroke="#111" stroke-width="1.55" stroke-dasharray="3.1,1.4"/>
<circle cx="105.78" cy="190.4" r="1.35" fill="#111"/>
<circle cx="110.03" cy="190.4" r="1.35" fill="#111"/>
<circle cx="125.53" cy="190.4" r="1.35" fill="#111"/>
<circle cx="129.78" cy="190.4" r="1.35" fill="#111"/>
<line x1="104.75" y1="250.10" x2="104.75" y2="251.50" stroke="#444" stroke-width="0.6" />
<line x1="112.25" y1="250.10" x2="112.25" y2="251.50" stroke="#444" stroke-width="0.6" />
<line x1="124.00" y1="250.10" x2="124.00" y2="251.50" stroke="#444" stroke-width="0.6" />
<line x1="131.00" y1="250.10" x2="131.00" y2="251.50" stroke="#444" stroke-width="0.6" />
<line x1="144.75" y1="250.10" x2="144.75" y2="251.50" stroke="#444" stroke-width="0.6" />
<line x1="151.50" y1="250.10" x2="151.50" y2="251.50" stroke="#444" stroke-width="0.6" />
<line x1="103.75" y1="256.90" x2="105.75" y2="256.90" stroke="#333" stroke-width="1.0" />
<line x1="110.75" y1="256.90" x2="113.75" y2="256.90" stroke="#222" stroke-width="0.95" />
<line x1="112.25" y1="255.40" x2="112.25" y2="258.40" stroke="#222" stroke-width="0.95" />
<circle cx="112.25" cy="256.90" r="0.75" fill="#222"/>
<line x1="123.00" y1="256.90" x2="125.00" y2="256.90" stroke="#333" stroke-width="1.0" />
<line x1="130.00" y1="256.90" x2="132.00" y2="256.90" stroke="#333" stroke-width="1.0" />
<line x1="143.75" y1="256.90" x2="145.75" y2="256.90" stroke="#333" stroke-width="1.0" />
<line x1="150.50" y1="256.90" x2="152.50" y2="256.90" stroke="#333" stroke-width="1.0" />
<line x1="103.25" y1="265.90" x2="106.25" y2="265.90" stroke="#222" stroke-width="0.95" />
<line x1="104.75" y1="264.40" x2="104.75" y2="267.40" stroke="#222" stroke-width="0.95" />
<circle cx="104.75" cy="265.90" r="0.75" fill="#222"/>
<line x1="110.75" y1="265.90" x2="113.75" y2="265.90" stroke="#222" stroke-width="0.95" />
<line x1="112.25" y1="264.40" x2="112.25" y2="267.40" stroke="#222" stroke-width="0.95" />
<circle cx="112.25" cy="265.90" r="0.75" fill="#222"/>
<line x1="122.50" y1="265.90" x2="125.50" y2="265.90" stroke="#222" stroke-width="0.95" />
<line x1="124.00" y1="264.40" x2="124.00" y2="267.40" stroke="#222" stroke-width="0.95" />
<circle cx="124.00" cy="265.90" r="0.75" fill="#222"/>
<line x1="129.50" y1="265.90" x2="132.50" y2="265.90" stroke="#222" stroke-width="0.95" />
<line x1="131.00" y1="264.40" x2="131.00" y2="267.40" stroke="#222" stroke-width="0.95" />
<circle cx="131.00" cy="265.90" r="0.75" fill="#222"/>
<line x1="143.25" y1="265.90" x2="146.25" y2="265.90" stroke="#222" stroke-width="0.95" />
<line x1="144.75" y1="264.40" x2="144.75" y2="267.40" stroke="#222" stroke-width="0.95" />
<circle cx="144.75" cy="265.90" r="0.75" fill="#222"/>
<line x1="150.00" y1="265.90" x2="153.00" y2="265.90" stroke="#222" stroke-width="0.95" />
<line x1="151.50" y1="264.40" x2="151.50" y2="267.40" stroke="#222" stroke-width="0.95" />
<circle cx="151.50" cy="265.90" r="0.75" fill="#222"/>
<line x1="103.75" y1="275.00" x2="105.75" y2="275.00" stroke="#333" stroke-width="1.0" />
<line x1="110.75" y1="275.00" x2="113.75" y2="275.00" stroke="#222" stroke-width="0.95" />
<line x1="112.25" y1="273.50" x2="112.25" y2="276.50" stroke="#222" stroke-width="0.95" />
<circle cx="112.25" cy="275.00" r="0.75" fill="#222"/>
<line x1="123.00" y1="275.00" x2="125.00" y2="275.00" stroke="#333" stroke-width="1.0" />
<line x1="129.50" y1="275.00" x2="132.50" y2="275.00" stroke="#222" stroke-width="0.95" />
<line x1="131.00" y1="273.50" x2="131.00" y2="276.50" stroke="#222" stroke-width="0.95" />
<circle cx="131.00" cy="275.00" r="0.75" fill="#222"/>
<line x1="143.75" y1="275.00" x2="145.75" y2="275.00" stroke="#333" stroke-width="1.0" />
<line x1="150.00" y1="275.00" x2="153.00" y2="275.00" stroke="#222" stroke-width="0.95" />
<line x1="151.50" y1="273.50" x2="151.50" y2="276.50" stroke="#222" stroke-width="0.95" />
<circle cx="151.50" cy="275.00" r="0.75" fill="#222"/>
<line x1="104.75" y1="200.88" x2="112.25" y2="200.88" stroke="#111" stroke-width="0.8" />
<line x1="104.75" y1="213.72" x2="112.25" y2="200.88" stroke="#111" stroke-width="0.8" />
<line x1="104.75" y1="216.93" x2="112.25" y2="203.56" stroke="#111" stroke-width="0.8" />
<line x1="104.75" y1="220.14" x2="112.25" y2="207.30" stroke="#111" stroke-width="0.8" />
<line x1="104.75" y1="223.35" x2="112.25" y2="210.51" stroke="#111" stroke-width="0.8" />
<line x1="104.75" y1="226.56" x2="112.25" y2="214.79" stroke="#111" stroke-width="0.8" />
<line x1="104.75" y1="229.77" x2="112.25" y2="216.93" stroke="#111" stroke-width="0.8" />
<line x1="104.75" y1="234.05" x2="112.25" y2="220.14" stroke="#111" stroke-width="0.8" />
<line x1="104.75" y1="239.40" x2="112.25" y2="223.35" stroke="#111" stroke-width="0.8" />
<line x1="104.75" y1="242.61" x2="112.25" y2="226.03" stroke="#111" stroke-width="0.8" />
<line x1="104.75" y1="231.38" x2="112.25" y2="233.51" stroke="#111" stroke-width="0.8" />
<line x1="104.75" y1="218.00" x2="112.25" y2="212.65" stroke="#111" stroke-width="0.8" />
<line x1="124.00" y1="213.72" x2="131.00" y2="200.34" stroke="#111" stroke-width="0.8" />
<line x1="124.00" y1="216.93" x2="131.00" y2="203.02" stroke="#111" stroke-width="0.8" />
<line x1="124.00" y1="219.07" x2="131.00" y2="205.16" stroke="#111" stroke-width="0.8" />
<line x1="124.00" y1="220.67" x2="131.00" y2="207.30" stroke="#111" stroke-width="0.8" />
<line x1="124.00" y1="222.28" x2="131.00" y2="209.44" stroke="#111" stroke-width="0.8" />
<line x1="124.00" y1="224.42" x2="131.00" y2="211.58" stroke="#111" stroke-width="0.8" />
<line x1="124.00" y1="227.63" x2="131.00" y2="212.65" stroke="#111" stroke-width="0.8" />
<line x1="124.00" y1="230.84" x2="131.00" y2="213.72" stroke="#111" stroke-width="0.8" />
<line x1="144.35" y1="217.47" x2="151.70" y2="217.47" stroke="#111" stroke-width="0.8" />
<line x1="144.35" y1="218.00" x2="151.70" y2="222.81" stroke="#111" stroke-width="0.8" />
<line x1="144.35" y1="222.81" x2="151.70" y2="222.81" stroke="#111" stroke-width="0.8" />
<line x1="144.35" y1="223.35" x2="151.70" y2="224.42" stroke="#111" stroke-width="0.8" />
<line x1="144.35" y1="228.16" x2="151.70" y2="233.51" stroke="#111" stroke-width="0.8" />
<line x1="144.35" y1="233.51" x2="151.70" y2="233.51" stroke="#111" stroke-width="0.8" />
<line x1="144.35" y1="238.87" x2="151.70" y2="236.72" stroke="#111" stroke-width="0.8" />
<line x1="144.35" y1="245.82" x2="151.70" y2="244.22" stroke="#111" stroke-width="0.8" />
<text x="200.2" y="183.7" font-size="8.6" text-anchor="middle" fill="#000" stroke="#000" stroke-width="0.12" >CD161 (%)</text>
<line x1="172.60" y1="197.90" x2="172.60" y2="250.10" stroke="#222" stroke-width="1.0" />
<line x1="172.60" y1="250.10" x2="231.00" y2="250.10" stroke="#222" stroke-width="1.0" />
<text x="170" y="252.2" font-size="6.0" text-anchor="end" fill="#000" letter-spacing="-0.45">0</text>
<line x1="171.20" y1="240.70" x2="172.60" y2="240.70" stroke="#444" stroke-width="0.6" />
<text x="170" y="241.5" font-size="6.0" text-anchor="end" fill="#000" letter-spacing="-0.45">20</text>
<line x1="171.20" y1="230.00" x2="172.60" y2="230.00" stroke="#444" stroke-width="0.6" />
<text x="170" y="230.8" font-size="6.0" text-anchor="end" fill="#000" letter-spacing="-0.45">40</text>
<line x1="171.20" y1="219.30" x2="172.60" y2="219.30" stroke="#444" stroke-width="0.6" />
<text x="170" y="220.1" font-size="6.0" text-anchor="end" fill="#000" letter-spacing="-0.45">60</text>
<line x1="171.20" y1="208.60" x2="172.60" y2="208.60" stroke="#444" stroke-width="0.6" />
<text x="170" y="209.4" font-size="6.0" text-anchor="end" fill="#000" letter-spacing="-0.45">80</text>
<line x1="171.20" y1="197.90" x2="172.60" y2="197.90" stroke="#444" stroke-width="0.6" />
<text x="170" y="198.7" font-size="6.0" text-anchor="end" fill="#000" letter-spacing="-0.45">100</text>
<line x1="192.90" y1="197.00" x2="192.90" y2="250.10" stroke="#111" stroke-width="1.55" stroke-dasharray="3.1,1.4"/>
<line x1="211.20" y1="197.00" x2="211.20" y2="250.10" stroke="#111" stroke-width="1.55" stroke-dasharray="3.1,1.4"/>
<circle cx="180.75" cy="190.4" r="1.35" fill="#111"/>
<circle cx="185.00" cy="190.4" r="1.35" fill="#111"/>
<circle cx="189.25" cy="190.4" r="1.35" fill="#111"/>
<circle cx="202.60" cy="190.4" r="1.35" fill="#111"/>
<line x1="178.50" y1="250.10" x2="178.50" y2="251.50" stroke="#444" stroke-width="0.6" />
<line x1="186.00" y1="250.10" x2="186.00" y2="251.50" stroke="#444" stroke-width="0.6" />
<line x1="197.75" y1="250.10" x2="197.75" y2="251.50" stroke="#444" stroke-width="0.6" />
<line x1="204.75" y1="250.10" x2="204.75" y2="251.50" stroke="#444" stroke-width="0.6" />
<line x1="218.50" y1="250.10" x2="218.50" y2="251.50" stroke="#444" stroke-width="0.6" />
<line x1="225.40" y1="250.10" x2="225.40" y2="251.50" stroke="#444" stroke-width="0.6" />
<line x1="177.50" y1="256.90" x2="179.50" y2="256.90" stroke="#333" stroke-width="1.0" />
<line x1="184.50" y1="256.90" x2="187.50" y2="256.90" stroke="#222" stroke-width="0.95" />
<line x1="186.00" y1="255.40" x2="186.00" y2="258.40" stroke="#222" stroke-width="0.95" />
<circle cx="186.00" cy="256.90" r="0.75" fill="#222"/>
<line x1="196.75" y1="256.90" x2="198.75" y2="256.90" stroke="#333" stroke-width="1.0" />
<line x1="203.75" y1="256.90" x2="205.75" y2="256.90" stroke="#333" stroke-width="1.0" />
<line x1="217.50" y1="256.90" x2="219.50" y2="256.90" stroke="#333" stroke-width="1.0" />
<line x1="224.40" y1="256.90" x2="226.40" y2="256.90" stroke="#333" stroke-width="1.0" />
<line x1="177.00" y1="265.90" x2="180.00" y2="265.90" stroke="#222" stroke-width="0.95" />
<line x1="178.50" y1="264.40" x2="178.50" y2="267.40" stroke="#222" stroke-width="0.95" />
<circle cx="178.50" cy="265.90" r="0.75" fill="#222"/>
<line x1="184.50" y1="265.90" x2="187.50" y2="265.90" stroke="#222" stroke-width="0.95" />
<line x1="186.00" y1="264.40" x2="186.00" y2="267.40" stroke="#222" stroke-width="0.95" />
<circle cx="186.00" cy="265.90" r="0.75" fill="#222"/>
<line x1="196.25" y1="265.90" x2="199.25" y2="265.90" stroke="#222" stroke-width="0.95" />
<line x1="197.75" y1="264.40" x2="197.75" y2="267.40" stroke="#222" stroke-width="0.95" />
<circle cx="197.75" cy="265.90" r="0.75" fill="#222"/>
<line x1="203.25" y1="265.90" x2="206.25" y2="265.90" stroke="#222" stroke-width="0.95" />
<line x1="204.75" y1="264.40" x2="204.75" y2="267.40" stroke="#222" stroke-width="0.95" />
<circle cx="204.75" cy="265.90" r="0.75" fill="#222"/>
<line x1="217.00" y1="265.90" x2="220.00" y2="265.90" stroke="#222" stroke-width="0.95" />
<line x1="218.50" y1="264.40" x2="218.50" y2="267.40" stroke="#222" stroke-width="0.95" />
<circle cx="218.50" cy="265.90" r="0.75" fill="#222"/>
<line x1="223.90" y1="265.90" x2="226.90" y2="265.90" stroke="#222" stroke-width="0.95" />
<line x1="225.40" y1="264.40" x2="225.40" y2="267.40" stroke="#222" stroke-width="0.95" />
<circle cx="225.40" cy="265.90" r="0.75" fill="#222"/>
<line x1="177.50" y1="275.00" x2="179.50" y2="275.00" stroke="#333" stroke-width="1.0" />
<line x1="184.50" y1="275.00" x2="187.50" y2="275.00" stroke="#222" stroke-width="0.95" />
<line x1="186.00" y1="273.50" x2="186.00" y2="276.50" stroke="#222" stroke-width="0.95" />
<circle cx="186.00" cy="275.00" r="0.75" fill="#222"/>
<line x1="196.75" y1="275.00" x2="198.75" y2="275.00" stroke="#333" stroke-width="1.0" />
<line x1="203.25" y1="275.00" x2="206.25" y2="275.00" stroke="#222" stroke-width="0.95" />
<line x1="204.75" y1="273.50" x2="204.75" y2="276.50" stroke="#222" stroke-width="0.95" />
<circle cx="204.75" cy="275.00" r="0.75" fill="#222"/>
<line x1="217.50" y1="275.00" x2="219.50" y2="275.00" stroke="#333" stroke-width="1.0" />
<line x1="223.90" y1="275.00" x2="226.90" y2="275.00" stroke="#222" stroke-width="0.95" />
<line x1="225.40" y1="273.50" x2="225.40" y2="276.50" stroke="#222" stroke-width="0.95" />
<circle cx="225.40" cy="275.00" r="0.75" fill="#222"/>
<line x1="178.50" y1="203.02" x2="186.00" y2="222.28" stroke="#111" stroke-width="0.8" />
<line x1="178.50" y1="204.62" x2="186.00" y2="224.42" stroke="#111" stroke-width="0.8" />
<line x1="178.50" y1="206.23" x2="186.00" y2="226.03" stroke="#111" stroke-width="0.8" />
<line x1="178.50" y1="207.30" x2="186.00" y2="227.63" stroke="#111" stroke-width="0.8" />
<line x1="178.50" y1="208.91" x2="186.00" y2="228.70" stroke="#111" stroke-width="0.8" />
<line x1="178.50" y1="210.51" x2="186.00" y2="229.77" stroke="#111" stroke-width="0.8" />
<line x1="178.50" y1="211.58" x2="186.00" y2="231.38" stroke="#111" stroke-width="0.8" />
<line x1="178.50" y1="212.65" x2="186.00" y2="234.05" stroke="#111" stroke-width="0.8" />
<line x1="178.50" y1="214.25" x2="186.00" y2="235.12" stroke="#111" stroke-width="0.8" />
<line x1="178.50" y1="215.86" x2="186.00" y2="236.72" stroke="#111" stroke-width="0.8" />
<line x1="178.50" y1="218.00" x2="186.00" y2="239.40" stroke="#111" stroke-width="0.8" />
<line x1="178.50" y1="219.60" x2="186.00" y2="242.07" stroke="#111" stroke-width="0.8" />
<line x1="178.50" y1="221.75" x2="186.00" y2="244.75" stroke="#111" stroke-width="0.8" />
<line x1="178.50" y1="223.35" x2="186.00" y2="246.89" stroke="#111" stroke-width="0.8" />
<line x1="178.50" y1="223.35" x2="186.00" y2="226.03" stroke="#111" stroke-width="0.8" />
<line x1="178.50" y1="224.42" x2="186.00" y2="229.77" stroke="#111" stroke-width="0.8" />
<line x1="178.50" y1="204.09" x2="186.00" y2="223.35" stroke="#111" stroke-width="0.8" />
<line x1="178.50" y1="208.37" x2="186.00" y2="226.56" stroke="#111" stroke-width="0.8" />
<line x1="197.75" y1="208.91" x2="204.75" y2="210.51" stroke="#111" stroke-width="0.8" />
<line x1="197.75" y1="209.97" x2="204.75" y2="226.03" stroke="#111" stroke-width="0.8" />
<line x1="197.75" y1="220.67" x2="204.75" y2="228.70" stroke="#111" stroke-width="0.8" />
<line x1="197.75" y1="223.35" x2="204.75" y2="226.03" stroke="#111" stroke-width="0.8" />
<line x1="197.75" y1="224.42" x2="204.75" y2="234.05" stroke="#111" stroke-width="0.8" />
<line x1="197.75" y1="226.03" x2="204.75" y2="239.40" stroke="#111" stroke-width="0.8" />
<line x1="197.75" y1="224.95" x2="204.75" y2="246.35" stroke="#111" stroke-width="0.8" />
<line x1="197.75" y1="233.51" x2="204.75" y2="225.49" stroke="#111" stroke-width="0.8" />
<line x1="197.75" y1="235.12" x2="204.75" y2="226.56" stroke="#111" stroke-width="0.8" />
<line x1="218.10" y1="206.76" x2="225.60" y2="206.76" stroke="#111" stroke-width="0.8" />
<line x1="218.10" y1="208.37" x2="225.60" y2="208.37" stroke="#111" stroke-width="0.8" />
<line x1="218.10" y1="209.44" x2="225.60" y2="209.44" stroke="#111" stroke-width="0.8" />
<line x1="218.10" y1="210.51" x2="225.60" y2="209.97" stroke="#111" stroke-width="0.8" />
<line x1="218.10" y1="211.58" x2="225.60" y2="215.32" stroke="#111" stroke-width="0.8" />
<line x1="218.10" y1="212.12" x2="225.60" y2="215.86" stroke="#111" stroke-width="0.8" />
<line x1="218.10" y1="212.65" x2="225.60" y2="215.32" stroke="#111" stroke-width="0.8" />
<line x1="218.10" y1="216.39" x2="225.60" y2="211.58" stroke="#111" stroke-width="0.8" />
<text x="274.4" y="183.7" font-size="8.6" text-anchor="middle" fill="#000" stroke="#000" stroke-width="0.12" >CD2 (%)</text>
<line x1="242.80" y1="197.90" x2="242.80" y2="250.10" stroke="#222" stroke-width="1.0" />
<line x1="242.80" y1="250.10" x2="301.00" y2="250.10" stroke="#222" stroke-width="1.0" />
<text x="240.2" y="252.2" font-size="6.0" text-anchor="end" fill="#000" letter-spacing="-0.45">0</text>
<line x1="241.40" y1="240.70" x2="242.80" y2="240.70" stroke="#444" stroke-width="0.6" />
<text x="240.2" y="241.5" font-size="6.0" text-anchor="end" fill="#000" letter-spacing="-0.45">20</text>
<line x1="241.40" y1="230.00" x2="242.80" y2="230.00" stroke="#444" stroke-width="0.6" />
<text x="240.2" y="230.8" font-size="6.0" text-anchor="end" fill="#000" letter-spacing="-0.45">40</text>
<line x1="241.40" y1="219.30" x2="242.80" y2="219.30" stroke="#444" stroke-width="0.6" />
<text x="240.2" y="220.1" font-size="6.0" text-anchor="end" fill="#000" letter-spacing="-0.45">60</text>
<line x1="241.40" y1="208.60" x2="242.80" y2="208.60" stroke="#444" stroke-width="0.6" />
<text x="240.2" y="209.4" font-size="6.0" text-anchor="end" fill="#000" letter-spacing="-0.45">80</text>
<line x1="241.40" y1="197.90" x2="242.80" y2="197.90" stroke="#444" stroke-width="0.6" />
<text x="240.2" y="198.7" font-size="6.0" text-anchor="end" fill="#000" letter-spacing="-0.45">100</text>
<line x1="261.00" y1="197.00" x2="261.00" y2="250.10" stroke="#111" stroke-width="1.55" stroke-dasharray="3.1,1.4"/>
<line x1="281.30" y1="197.00" x2="281.30" y2="250.10" stroke="#111" stroke-width="1.55" stroke-dasharray="3.1,1.4"/>
<circle cx="248.55" cy="190.4" r="1.35" fill="#111"/>
<circle cx="252.80" cy="190.4" r="1.35" fill="#111"/>
<circle cx="257.05" cy="190.4" r="1.35" fill="#111"/>
<circle cx="270.02" cy="190.4" r="1.35" fill="#111"/>
<circle cx="274.27" cy="190.4" r="1.35" fill="#111"/>
<line x1="249.00" y1="250.10" x2="249.00" y2="251.50" stroke="#444" stroke-width="0.6" />
<line x1="256.60" y1="250.10" x2="256.60" y2="251.50" stroke="#444" stroke-width="0.6" />
<line x1="268.50" y1="250.10" x2="268.50" y2="251.50" stroke="#444" stroke-width="0.6" />
<line x1="275.60" y1="250.10" x2="275.60" y2="251.50" stroke="#444" stroke-width="0.6" />
<line x1="289.00" y1="250.10" x2="289.00" y2="251.50" stroke="#444" stroke-width="0.6" />
<line x1="296.00" y1="250.10" x2="296.00" y2="251.50" stroke="#444" stroke-width="0.6" />
<line x1="248.00" y1="256.90" x2="250.00" y2="256.90" stroke="#333" stroke-width="1.0" />
<line x1="255.10" y1="256.90" x2="258.10" y2="256.90" stroke="#222" stroke-width="0.95" />
<line x1="256.60" y1="255.40" x2="256.60" y2="258.40" stroke="#222" stroke-width="0.95" />
<circle cx="256.60" cy="256.90" r="0.75" fill="#222"/>
<line x1="267.50" y1="256.90" x2="269.50" y2="256.90" stroke="#333" stroke-width="1.0" />
<line x1="274.60" y1="256.90" x2="276.60" y2="256.90" stroke="#333" stroke-width="1.0" />
<line x1="288.00" y1="256.90" x2="290.00" y2="256.90" stroke="#333" stroke-width="1.0" />
<line x1="295.00" y1="256.90" x2="297.00" y2="256.90" stroke="#333" stroke-width="1.0" />
<line x1="247.50" y1="265.90" x2="250.50" y2="265.90" stroke="#222" stroke-width="0.95" />
<line x1="249.00" y1="264.40" x2="249.00" y2="267.40" stroke="#222" stroke-width="0.95" />
<circle cx="249.00" cy="265.90" r="0.75" fill="#222"/>
<line x1="255.10" y1="265.90" x2="258.10" y2="265.90" stroke="#222" stroke-width="0.95" />
<line x1="256.60" y1="264.40" x2="256.60" y2="267.40" stroke="#222" stroke-width="0.95" />
<circle cx="256.60" cy="265.90" r="0.75" fill="#222"/>
<line x1="267.00" y1="265.90" x2="270.00" y2="265.90" stroke="#222" stroke-width="0.95" />
<line x1="268.50" y1="264.40" x2="268.50" y2="267.40" stroke="#222" stroke-width="0.95" />
<circle cx="268.50" cy="265.90" r="0.75" fill="#222"/>
<line x1="274.10" y1="265.90" x2="277.10" y2="265.90" stroke="#222" stroke-width="0.95" />
<line x1="275.60" y1="264.40" x2="275.60" y2="267.40" stroke="#222" stroke-width="0.95" />
<circle cx="275.60" cy="265.90" r="0.75" fill="#222"/>
<line x1="287.50" y1="265.90" x2="290.50" y2="265.90" stroke="#222" stroke-width="0.95" />
<line x1="289.00" y1="264.40" x2="289.00" y2="267.40" stroke="#222" stroke-width="0.95" />
<circle cx="289.00" cy="265.90" r="0.75" fill="#222"/>
<line x1="294.50" y1="265.90" x2="297.50" y2="265.90" stroke="#222" stroke-width="0.95" />
<line x1="296.00" y1="264.40" x2="296.00" y2="267.40" stroke="#222" stroke-width="0.95" />
<circle cx="296.00" cy="265.90" r="0.75" fill="#222"/>
<line x1="248.00" y1="275.00" x2="250.00" y2="275.00" stroke="#333" stroke-width="1.0" />
<line x1="255.10" y1="275.00" x2="258.10" y2="275.00" stroke="#222" stroke-width="0.95" />
<line x1="256.60" y1="273.50" x2="256.60" y2="276.50" stroke="#222" stroke-width="0.95" />
<circle cx="256.60" cy="275.00" r="0.75" fill="#222"/>
<line x1="267.50" y1="275.00" x2="269.50" y2="275.00" stroke="#333" stroke-width="1.0" />
<line x1="274.10" y1="275.00" x2="277.10" y2="275.00" stroke="#222" stroke-width="0.95" />
<line x1="275.60" y1="273.50" x2="275.60" y2="276.50" stroke="#222" stroke-width="0.95" />
<circle cx="275.60" cy="275.00" r="0.75" fill="#222"/>
<line x1="288.00" y1="275.00" x2="290.00" y2="275.00" stroke="#333" stroke-width="1.0" />
<line x1="294.50" y1="275.00" x2="297.50" y2="275.00" stroke="#222" stroke-width="0.95" />
<line x1="296.00" y1="273.50" x2="296.00" y2="276.50" stroke="#222" stroke-width="0.95" />
<circle cx="296.00" cy="275.00" r="0.75" fill="#222"/>
<line x1="249.00" y1="200.88" x2="256.60" y2="197.67" stroke="#111" stroke-width="0.8" />
<line x1="249.00" y1="201.95" x2="256.60" y2="198.20" stroke="#111" stroke-width="0.8" />
<line x1="249.00" y1="203.02" x2="256.60" y2="198.20" stroke="#111" stroke-width="0.8" />
<line x1="249.00" y1="204.09" x2="256.60" y2="198.74" stroke="#111" stroke-width="0.8" />
<line x1="249.00" y1="205.16" x2="256.60" y2="198.74" stroke="#111" stroke-width="0.8" />
<line x1="249.00" y1="206.23" x2="256.60" y2="199.27" stroke="#111" stroke-width="0.8" />
<line x1="249.00" y1="207.30" x2="256.60" y2="199.27" stroke="#111" stroke-width="0.8" />
<line x1="249.00" y1="208.37" x2="256.60" y2="199.81" stroke="#111" stroke-width="0.8" />
<line x1="249.00" y1="209.44" x2="256.60" y2="199.81" stroke="#111" stroke-width="0.8" />
<line x1="249.00" y1="211.04" x2="256.60" y2="200.34" stroke="#111" stroke-width="0.8" />
<line x1="249.00" y1="212.65" x2="256.60" y2="200.88" stroke="#111" stroke-width="0.8" />
<line x1="249.00" y1="214.25" x2="256.60" y2="201.41" stroke="#111" stroke-width="0.8" />
<line x1="249.00" y1="215.86" x2="256.60" y2="201.95" stroke="#111" stroke-width="0.8" />
<line x1="249.00" y1="229.23" x2="256.60" y2="198.20" stroke="#111" stroke-width="0.8" />
<line x1="249.00" y1="200.88" x2="256.60" y2="200.88" stroke="#111" stroke-width="0.8" />
<line x1="268.50" y1="200.88" x2="275.60" y2="198.74" stroke="#111" stroke-width="0.8" />
<line x1="268.50" y1="203.02" x2="275.60" y2="198.74" stroke="#111" stroke-width="0.8" />
<line x1="268.50" y1="204.62" x2="275.60" y2="199.27" stroke="#111" stroke-width="0.8" />
<line x1="268.50" y1="207.30" x2="275.60" y2="199.81" stroke="#111" stroke-width="0.8" />
<line x1="268.50" y1="209.97" x2="275.60" y2="200.34" stroke="#111" stroke-width="0.8" />
<line x1="268.50" y1="212.65" x2="275.60" y2="201.95" stroke="#111" stroke-width="0.8" />
<line x1="268.50" y1="215.86" x2="275.60" y2="204.62" stroke="#111" stroke-width="0.8" />
<line x1="268.50" y1="220.67" x2="275.60" y2="207.30" stroke="#111" stroke-width="0.8" />
<line x1="268.50" y1="226.03" x2="275.60" y2="198.74" stroke="#111" stroke-width="0.8" />
<line x1="268.50" y1="209.97" x2="275.60" y2="209.97" stroke="#111" stroke-width="0.8" />
<line x1="288.60" y1="204.62" x2="296.20" y2="203.02" stroke="#111" stroke-width="0.8" />
<line x1="288.60" y1="206.76" x2="296.20" y2="206.76" stroke="#111" stroke-width="0.8" />
<line x1="288.60" y1="207.03" x2="296.20" y2="207.03" stroke="#111" stroke-width="0.8" />
<line x1="288.60" y1="207.30" x2="296.20" y2="207.30" stroke="#111" stroke-width="0.8" />
<line x1="288.60" y1="218.53" x2="296.20" y2="218.53" stroke="#111" stroke-width="0.8" />
<line x1="288.60" y1="219.07" x2="296.20" y2="218.53" stroke="#111" stroke-width="0.8" />
<line x1="288.60" y1="222.28" x2="296.20" y2="222.28" stroke="#111" stroke-width="0.8" />
<line x1="288.60" y1="222.55" x2="296.20" y2="222.55" stroke="#111" stroke-width="0.8" />
<line x1="288.60" y1="222.81" x2="296.20" y2="222.81" stroke="#111" stroke-width="0.8" />
<text x="344.3" y="183.7" font-size="8.6" text-anchor="middle" fill="#000" stroke="#000" stroke-width="0.12" >CD7 /MFI)</text>
<line x1="315.30" y1="197.90" x2="315.30" y2="249.50" stroke="#222" stroke-width="1.0" />
<line x1="315.30" y1="249.50" x2="374.00" y2="249.50" stroke="#222" stroke-width="1.0" />
<text x="312.7" y="251.6" font-size="6.0" text-anchor="end" fill="#000" letter-spacing="-0.45">0</text>
<line x1="313.90" y1="240.22" x2="315.30" y2="240.22" stroke="#444" stroke-width="0.6" />
<text x="312.7" y="241.02" font-size="6.0" text-anchor="end" fill="#000" letter-spacing="-0.45">200</text>
<line x1="313.90" y1="229.64" x2="315.30" y2="229.64" stroke="#444" stroke-width="0.6" />
<text x="312.7" y="230.44" font-size="6.0" text-anchor="end" fill="#000" letter-spacing="-0.45">400</text>
<line x1="313.90" y1="219.06" x2="315.30" y2="219.06" stroke="#444" stroke-width="0.6" />
<text x="312.7" y="219.86" font-size="6.0" text-anchor="end" fill="#000" letter-spacing="-0.45">600</text>
<line x1="313.90" y1="208.48" x2="315.30" y2="208.48" stroke="#444" stroke-width="0.6" />
<text x="312.7" y="209.28" font-size="6.0" text-anchor="end" fill="#000" letter-spacing="-0.45">800</text>
<line x1="313.90" y1="197.90" x2="315.30" y2="197.90" stroke="#444" stroke-width="0.6" />
<text x="312.7" y="198.7" font-size="6.0" text-anchor="end" fill="#000" letter-spacing="-0.45">1000</text>
<line x1="335.80" y1="197.00" x2="335.80" y2="249.50" stroke="#111" stroke-width="1.55" stroke-dasharray="3.1,1.4"/>
<line x1="354.70" y1="197.00" x2="354.70" y2="249.50" stroke="#111" stroke-width="1.55" stroke-dasharray="3.1,1.4"/>
<circle cx="322.73" cy="190.4" r="1.35" fill="#111"/>
<circle cx="326.98" cy="190.4" r="1.35" fill="#111"/>
<circle cx="345.00" cy="190.4" r="1.35" fill="#111"/>
<line x1="322.00" y1="249.50" x2="322.00" y2="250.90" stroke="#444" stroke-width="0.6" />
<line x1="329.75" y1="249.50" x2="329.75" y2="250.90" stroke="#444" stroke-width="0.6" />
<line x1="341.40" y1="249.50" x2="341.40" y2="250.90" stroke="#444" stroke-width="0.6" />
<line x1="348.25" y1="249.50" x2="348.25" y2="250.90" stroke="#444" stroke-width="0.6" />
<line x1="362.00" y1="249.50" x2="362.00" y2="250.90" stroke="#444" stroke-width="0.6" />
<line x1="368.90" y1="249.50" x2="368.90" y2="250.90" stroke="#444" stroke-width="0.6" />
<line x1="321.00" y1="256.90" x2="323.00" y2="256.90" stroke="#333" stroke-width="1.0" />
<line x1="328.25" y1="256.90" x2="331.25" y2="256.90" stroke="#222" stroke-width="0.95" />
<line x1="329.75" y1="255.40" x2="329.75" y2="258.40" stroke="#222" stroke-width="0.95" />
<circle cx="329.75" cy="256.90" r="0.75" fill="#222"/>
<line x1="340.40" y1="256.90" x2="342.40" y2="256.90" stroke="#333" stroke-width="1.0" />
<line x1="347.25" y1="256.90" x2="349.25" y2="256.90" stroke="#333" stroke-width="1.0" />
<line x1="361.00" y1="256.90" x2="363.00" y2="256.90" stroke="#333" stroke-width="1.0" />
<line x1="367.90" y1="256.90" x2="369.90" y2="256.90" stroke="#333" stroke-width="1.0" />
<line x1="320.50" y1="265.90" x2="323.50" y2="265.90" stroke="#222" stroke-width="0.95" />
<line x1="322.00" y1="264.40" x2="322.00" y2="267.40" stroke="#222" stroke-width="0.95" />
<circle cx="322.00" cy="265.90" r="0.75" fill="#222"/>
<line x1="328.25" y1="265.90" x2="331.25" y2="265.90" stroke="#222" stroke-width="0.95" />
<line x1="329.75" y1="264.40" x2="329.75" y2="267.40" stroke="#222" stroke-width="0.95" />
<circle cx="329.75" cy="265.90" r="0.75" fill="#222"/>
<line x1="339.90" y1="265.90" x2="342.90" y2="265.90" stroke="#222" stroke-width="0.95" />
<line x1="341.40" y1="264.40" x2="341.40" y2="267.40" stroke="#222" stroke-width="0.95" />
<circle cx="341.40" cy="265.90" r="0.75" fill="#222"/>
<line x1="346.75" y1="265.90" x2="349.75" y2="265.90" stroke="#222" stroke-width="0.95" />
<line x1="348.25" y1="264.40" x2="348.25" y2="267.40" stroke="#222" stroke-width="0.95" />
<circle cx="348.25" cy="265.90" r="0.75" fill="#222"/>
<line x1="360.50" y1="265.90" x2="363.50" y2="265.90" stroke="#222" stroke-width="0.95" />
<line x1="362.00" y1="264.40" x2="362.00" y2="267.40" stroke="#222" stroke-width="0.95" />
<circle cx="362.00" cy="265.90" r="0.75" fill="#222"/>
<line x1="367.40" y1="265.90" x2="370.40" y2="265.90" stroke="#222" stroke-width="0.95" />
<line x1="368.90" y1="264.40" x2="368.90" y2="267.40" stroke="#222" stroke-width="0.95" />
<circle cx="368.90" cy="265.90" r="0.75" fill="#222"/>
<line x1="321.00" y1="275.00" x2="323.00" y2="275.00" stroke="#333" stroke-width="1.0" />
<line x1="328.25" y1="275.00" x2="331.25" y2="275.00" stroke="#222" stroke-width="0.95" />
<line x1="329.75" y1="273.50" x2="329.75" y2="276.50" stroke="#222" stroke-width="0.95" />
<circle cx="329.75" cy="275.00" r="0.75" fill="#222"/>
<line x1="340.40" y1="275.00" x2="342.40" y2="275.00" stroke="#333" stroke-width="1.0" />
<line x1="346.75" y1="275.00" x2="349.75" y2="275.00" stroke="#222" stroke-width="0.95" />
<line x1="348.25" y1="273.50" x2="348.25" y2="276.50" stroke="#222" stroke-width="0.95" />
<circle cx="348.25" cy="275.00" r="0.75" fill="#222"/>
<line x1="361.00" y1="275.00" x2="363.00" y2="275.00" stroke="#333" stroke-width="1.0" />
<line x1="367.40" y1="275.00" x2="370.40" y2="275.00" stroke="#222" stroke-width="0.95" />
<line x1="368.90" y1="273.50" x2="368.90" y2="276.50" stroke="#222" stroke-width="0.95" />
<circle cx="368.90" cy="275.00" r="0.75" fill="#222"/>
<line x1="322.00" y1="200.83" x2="329.75" y2="206.65" stroke="#111" stroke-width="0.8" />
<line x1="322.00" y1="204.01" x2="329.75" y2="225.69" stroke="#111" stroke-width="0.8" />
<line x1="322.00" y1="206.12" x2="329.75" y2="223.05" stroke="#111" stroke-width="0.8" />
<line x1="322.00" y1="208.24" x2="329.75" y2="217.76" stroke="#111" stroke-width="0.8" />
<line x1="322.00" y1="209.82" x2="329.75" y2="228.34" stroke="#111" stroke-width="0.8" />
<line x1="322.00" y1="212.47" x2="329.75" y2="220.41" stroke="#111" stroke-width="0.8" />
<line x1="322.00" y1="215.12" x2="329.75" y2="225.69" stroke="#111" stroke-width="0.8" />
<line x1="322.00" y1="217.76" x2="329.75" y2="223.05" stroke="#111" stroke-width="0.8" />
<line x1="322.00" y1="220.41" x2="329.75" y2="230.99" stroke="#111" stroke-width="0.8" />
<line x1="322.00" y1="223.05" x2="329.75" y2="228.34" stroke="#111" stroke-width="0.8" />
<line x1="322.00" y1="227.81" x2="329.75" y2="211.41" stroke="#111" stroke-width="0.8" />
<line x1="322.00" y1="225.69" x2="329.75" y2="215.12" stroke="#111" stroke-width="0.8" />
<line x1="322.00" y1="239.45" x2="329.75" y2="233.10" stroke="#111" stroke-width="0.8" />
<line x1="322.00" y1="243.68" x2="329.75" y2="236.28" stroke="#111" stroke-width="0.8" />
<line x1="322.00" y1="233.63" x2="329.75" y2="239.98" stroke="#111" stroke-width="0.8" />
<line x1="341.40" y1="210.88" x2="348.25" y2="228.34" stroke="#111" stroke-width="0.8" />
<line x1="341.40" y1="212.47" x2="348.25" y2="230.99" stroke="#111" stroke-width="0.8" />
<line x1="341.40" y1="215.12" x2="348.25" y2="233.63" stroke="#111" stroke-width="0.8" />
<line x1="341.40" y1="217.76" x2="348.25" y2="236.28" stroke="#111" stroke-width="0.8" />
<line x1="341.40" y1="220.41" x2="348.25" y2="238.92" stroke="#111" stroke-width="0.8" />
<line x1="341.40" y1="221.99" x2="348.25" y2="217.76" stroke="#111" stroke-width="0.8" />
<line x1="341.40" y1="223.05" x2="348.25" y2="241.56" stroke="#111" stroke-width="0.8" />
<line x1="341.40" y1="225.69" x2="348.25" y2="243.68" stroke="#111" stroke-width="0.8" />
<line x1="341.40" y1="228.34" x2="348.25" y2="238.92" stroke="#111" stroke-width="0.8" />
<line x1="361.60" y1="214.06" x2="369.10" y2="218.82" stroke="#111" stroke-width="0.8" />
<line x1="361.60" y1="217.76" x2="369.10" y2="219.88" stroke="#111" stroke-width="0.8" />
<line x1="361.60" y1="220.93" x2="369.10" y2="219.88" stroke="#111" stroke-width="0.8" />
<line x1="361.60" y1="220.93" x2="369.10" y2="220.93" stroke="#111" stroke-width="0.8" />
<line x1="361.60" y1="225.17" x2="369.10" y2="224.64" stroke="#111" stroke-width="0.8" />
<line x1="361.60" y1="228.34" x2="369.10" y2="227.81" stroke="#111" stroke-width="0.8" />
<line x1="361.60" y1="232.78" x2="369.10" y2="232.78" stroke="#111" stroke-width="0.8" />
<line x1="361.60" y1="233.10" x2="369.10" y2="233.10" stroke="#111" stroke-width="0.8" />
<text x="412.8" y="183.7" font-size="8.6" text-anchor="middle" fill="#000" stroke="#000" stroke-width="0.12" >Siglec-7 (MFI)</text>
<line x1="389.20" y1="197.90" x2="389.20" y2="248.80" stroke="#222" stroke-width="1.0" />
<line x1="389.20" y1="248.80" x2="447.00" y2="248.80" stroke="#222" stroke-width="1.0" />
<text x="386.6" y="250.9" font-size="6.0" text-anchor="end" fill="#000" letter-spacing="-0.45">0</text>
<line x1="387.80" y1="239.66" x2="389.20" y2="239.66" stroke="#444" stroke-width="0.6" />
<text x="386.6" y="240.46" font-size="6.0" text-anchor="end" fill="#000" letter-spacing="-0.45">1000</text>
<line x1="387.80" y1="229.22" x2="389.20" y2="229.22" stroke="#444" stroke-width="0.6" />
<text x="386.6" y="230.02" font-size="6.0" text-anchor="end" fill="#000" letter-spacing="-0.45">2000</text>
<line x1="387.80" y1="218.78" x2="389.20" y2="218.78" stroke="#444" stroke-width="0.6" />
<text x="386.6" y="219.58" font-size="6.0" text-anchor="end" fill="#000" letter-spacing="-0.45">3000</text>
<line x1="387.80" y1="208.34" x2="389.20" y2="208.34" stroke="#444" stroke-width="0.6" />
<text x="386.6" y="209.14" font-size="6.0" text-anchor="end" fill="#000" letter-spacing="-0.45">4000</text>
<line x1="387.80" y1="197.90" x2="389.20" y2="197.90" stroke="#444" stroke-width="0.6" />
<text x="386.6" y="198.7" font-size="6.0" text-anchor="end" fill="#000" letter-spacing="-0.45">5000</text>
<line x1="406.70" y1="197.00" x2="406.70" y2="248.80" stroke="#111" stroke-width="1.55" stroke-dasharray="3.1,1.4"/>
<line x1="427.00" y1="197.00" x2="427.00" y2="248.80" stroke="#111" stroke-width="1.55" stroke-dasharray="3.1,1.4"/>
<circle cx="393.50" cy="190.4" r="1.35" fill="#111"/>
<circle cx="397.75" cy="190.4" r="1.35" fill="#111"/>
<circle cx="402.00" cy="190.4" r="1.35" fill="#111"/>
<circle cx="415.73" cy="190.4" r="1.35" fill="#111"/>
<circle cx="419.98" cy="190.4" r="1.35" fill="#111"/>
<line x1="393.50" y1="248.80" x2="393.50" y2="250.20" stroke="#444" stroke-width="0.6" />
<line x1="401.25" y1="248.80" x2="401.25" y2="250.20" stroke="#444" stroke-width="0.6" />
<line x1="413.10" y1="248.80" x2="413.10" y2="250.20" stroke="#444" stroke-width="0.6" />
<line x1="420.00" y1="248.80" x2="420.00" y2="250.20" stroke="#444" stroke-width="0.6" />
<line x1="433.50" y1="248.80" x2="433.50" y2="250.20" stroke="#444" stroke-width="0.6" />
<line x1="440.40" y1="248.80" x2="440.40" y2="250.20" stroke="#444" stroke-width="0.6" />
<line x1="392.50" y1="256.90" x2="394.50" y2="256.90" stroke="#333" stroke-width="1.0" />
<line x1="399.75" y1="256.90" x2="402.75" y2="256.90" stroke="#222" stroke-width="0.95" />
<line x1="401.25" y1="255.40" x2="401.25" y2="258.40" stroke="#222" stroke-width="0.95" />
<circle cx="401.25" cy="256.90" r="0.75" fill="#222"/>
<line x1="412.10" y1="256.90" x2="414.10" y2="256.90" stroke="#333" stroke-width="1.0" />
<line x1="419.00" y1="256.90" x2="421.00" y2="256.90" stroke="#333" stroke-width="1.0" />
<line x1="432.50" y1="256.90" x2="434.50" y2="256.90" stroke="#333" stroke-width="1.0" />
<line x1="439.40" y1="256.90" x2="441.40" y2="256.90" stroke="#333" stroke-width="1.0" />
<line x1="392.00" y1="265.90" x2="395.00" y2="265.90" stroke="#222" stroke-width="0.95" />
<line x1="393.50" y1="264.40" x2="393.50" y2="267.40" stroke="#222" stroke-width="0.95" />
<circle cx="393.50" cy="265.90" r="0.75" fill="#222"/>
<line x1="399.75" y1="265.90" x2="402.75" y2="265.90" stroke="#222" stroke-width="0.95" />
<line x1="401.25" y1="264.40" x2="401.25" y2="267.40" stroke="#222" stroke-width="0.95" />
<circle cx="401.25" cy="265.90" r="0.75" fill="#222"/>
<line x1="411.60" y1="265.90" x2="414.60" y2="265.90" stroke="#222" stroke-width="0.95" />
<line x1="413.10" y1="264.40" x2="413.10" y2="267.40" stroke="#222" stroke-width="0.95" />
<circle cx="413.10" cy="265.90" r="0.75" fill="#222"/>
<line x1="418.50" y1="265.90" x2="421.50" y2="265.90" stroke="#222" stroke-width="0.95" />
<line x1="420.00" y1="264.40" x2="420.00" y2="267.40" stroke="#222" stroke-width="0.95" />
<circle cx="420.00" cy="265.90" r="0.75" fill="#222"/>
<line x1="432.00" y1="265.90" x2="435.00" y2="265.90" stroke="#222" stroke-width="0.95" />
<line x1="433.50" y1="264.40" x2="433.50" y2="267.40" stroke="#222" stroke-width="0.95" />
<circle cx="433.50" cy="265.90" r="0.75" fill="#222"/>
<line x1="438.90" y1="265.90" x2="441.90" y2="265.90" stroke="#222" stroke-width="0.95" />
<line x1="440.40" y1="264.40" x2="440.40" y2="267.40" stroke="#222" stroke-width="0.95" />
<circle cx="440.40" cy="265.90" r="0.75" fill="#222"/>
<line x1="392.50" y1="275.00" x2="394.50" y2="275.00" stroke="#333" stroke-width="1.0" />
<line x1="399.75" y1="275.00" x2="402.75" y2="275.00" stroke="#222" stroke-width="0.95" />
<line x1="401.25" y1="273.50" x2="401.25" y2="276.50" stroke="#222" stroke-width="0.95" />
<circle cx="401.25" cy="275.00" r="0.75" fill="#222"/>
<line x1="412.10" y1="275.00" x2="414.10" y2="275.00" stroke="#333" stroke-width="1.0" />
<line x1="418.50" y1="275.00" x2="421.50" y2="275.00" stroke="#222" stroke-width="0.95" />
<line x1="420.00" y1="273.50" x2="420.00" y2="276.50" stroke="#222" stroke-width="0.95" />
<circle cx="420.00" cy="275.00" r="0.75" fill="#222"/>
<line x1="432.50" y1="275.00" x2="434.50" y2="275.00" stroke="#333" stroke-width="1.0" />
<line x1="438.90" y1="275.00" x2="441.90" y2="275.00" stroke="#222" stroke-width="0.95" />
<line x1="440.40" y1="273.50" x2="440.40" y2="276.50" stroke="#222" stroke-width="0.95" />
<circle cx="440.40" cy="275.00" r="0.75" fill="#222"/>
<line x1="393.50" y1="202.34" x2="401.25" y2="226.88" stroke="#111" stroke-width="0.8" />
<line x1="393.50" y1="207.04" x2="401.25" y2="230.01" stroke="#111" stroke-width="0.8" />
<line x1="393.50" y1="216.44" x2="401.25" y2="234.71" stroke="#111" stroke-width="0.8" />
<line x1="393.50" y1="218.52" x2="401.25" y2="237.32" stroke="#111" stroke-width="0.8" />
<line x1="393.50" y1="225.31" x2="401.25" y2="240.97" stroke="#111" stroke-width="0.8" />
<line x1="393.50" y1="228.96" x2="401.25" y2="243.58" stroke="#111" stroke-width="0.8" />
<line x1="393.50" y1="232.10" x2="401.25" y2="244.62" stroke="#111" stroke-width="0.8" />
<line x1="393.50" y1="239.40" x2="401.25" y2="247.23" stroke="#111" stroke-width="0.8" />
<line x1="393.50" y1="241.49" x2="401.25" y2="247.76" stroke="#111" stroke-width="0.8" />
<line x1="393.50" y1="242.54" x2="401.25" y2="247.76" stroke="#111" stroke-width="0.8" />
<line x1="393.50" y1="243.58" x2="401.25" y2="248.28" stroke="#111" stroke-width="0.8" />
<line x1="393.50" y1="244.10" x2="401.25" y2="248.28" stroke="#111" stroke-width="0.8" />
<line x1="393.50" y1="243.06" x2="401.25" y2="247.23" stroke="#111" stroke-width="0.8" />
<line x1="413.10" y1="216.44" x2="420.00" y2="227.92" stroke="#111" stroke-width="0.8" />
<line x1="413.10" y1="218.00" x2="420.00" y2="229.49" stroke="#111" stroke-width="0.8" />
<line x1="413.10" y1="219.57" x2="420.00" y2="231.05" stroke="#111" stroke-width="0.8" />
<line x1="413.10" y1="221.13" x2="420.00" y2="232.62" stroke="#111" stroke-width="0.8" />
<line x1="413.10" y1="222.70" x2="420.00" y2="234.18" stroke="#111" stroke-width="0.8" />
<line x1="413.10" y1="228.96" x2="420.00" y2="237.32" stroke="#111" stroke-width="0.8" />
<line x1="413.10" y1="233.14" x2="420.00" y2="242.54" stroke="#111" stroke-width="0.8" />
<line x1="413.10" y1="238.36" x2="420.00" y2="245.67" stroke="#111" stroke-width="0.8" />
<line x1="413.10" y1="243.58" x2="420.00" y2="246.71" stroke="#111" stroke-width="0.8" />
<line x1="413.10" y1="244.62" x2="420.00" y2="247.76" stroke="#111" stroke-width="0.8" />
<line x1="433.10" y1="229.49" x2="440.60" y2="231.57" stroke="#111" stroke-width="0.8" />
<line x1="433.10" y1="231.57" x2="440.60" y2="234.18" stroke="#111" stroke-width="0.8" />
<line x1="433.10" y1="236.27" x2="440.60" y2="237.32" stroke="#111" stroke-width="0.8" />
<line x1="433.10" y1="237.32" x2="440.60" y2="237.32" stroke="#111" stroke-width="0.8" />
<line x1="433.10" y1="238.36" x2="440.60" y2="237.32" stroke="#111" stroke-width="0.8" />
<line x1="433.10" y1="239.40" x2="440.60" y2="237.32" stroke="#111" stroke-width="0.8" />
<line x1="433.10" y1="236.79" x2="440.60" y2="237.32" stroke="#111" stroke-width="0.8" />
<text x="481" y="183.7" font-size="8.6" text-anchor="middle" fill="#000" stroke="#000" stroke-width="0.12" >CD57 (%)</text>
<line x1="455.60" y1="197.90" x2="455.60" y2="248.30" stroke="#222" stroke-width="1.0" />
<line x1="455.60" y1="248.30" x2="514.00" y2="248.30" stroke="#222" stroke-width="1.0" />
<text x="453" y="250.4" font-size="6.0" text-anchor="end" fill="#000" letter-spacing="-0.45">0</text>
<line x1="454.20" y1="239.26" x2="455.60" y2="239.26" stroke="#444" stroke-width="0.6" />
<text x="453" y="240.06" font-size="6.0" text-anchor="end" fill="#000" letter-spacing="-0.45">20</text>
<line x1="454.20" y1="228.92" x2="455.60" y2="228.92" stroke="#444" stroke-width="0.6" />
<text x="453" y="229.72" font-size="6.0" text-anchor="end" fill="#000" letter-spacing="-0.45">40</text>
<line x1="454.20" y1="218.58" x2="455.60" y2="218.58" stroke="#444" stroke-width="0.6" />
<text x="453" y="219.38" font-size="6.0" text-anchor="end" fill="#000" letter-spacing="-0.45">60</text>
<line x1="454.20" y1="208.24" x2="455.60" y2="208.24" stroke="#444" stroke-width="0.6" />
<text x="453" y="209.04" font-size="6.0" text-anchor="end" fill="#000" letter-spacing="-0.45">80</text>
<line x1="454.20" y1="197.90" x2="455.60" y2="197.90" stroke="#444" stroke-width="0.6" />
<text x="453" y="198.7" font-size="6.0" text-anchor="end" fill="#000" letter-spacing="-0.45">100</text>
<line x1="474.10" y1="197.00" x2="474.10" y2="248.30" stroke="#111" stroke-width="1.55" stroke-dasharray="3.1,1.4"/>
<line x1="494.80" y1="197.00" x2="494.80" y2="248.30" stroke="#111" stroke-width="1.55" stroke-dasharray="3.1,1.4"/>
<circle cx="464.60" cy="190.4" r="1.35" fill="#111"/>
<circle cx="485.00" cy="190.4" r="1.35" fill="#111"/>
<line x1="461.90" y1="248.30" x2="461.90" y2="249.70" stroke="#444" stroke-width="0.6" />
<line x1="469.75" y1="248.30" x2="469.75" y2="249.70" stroke="#444" stroke-width="0.6" />
<line x1="481.25" y1="248.30" x2="481.25" y2="249.70" stroke="#444" stroke-width="0.6" />
<line x1="488.10" y1="248.30" x2="488.10" y2="249.70" stroke="#444" stroke-width="0.6" />
<line x1="501.90" y1="248.30" x2="501.90" y2="249.70" stroke="#444" stroke-width="0.6" />
<line x1="508.75" y1="248.30" x2="508.75" y2="249.70" stroke="#444" stroke-width="0.6" />
<line x1="460.90" y1="256.90" x2="462.90" y2="256.90" stroke="#333" stroke-width="1.0" />
<line x1="468.25" y1="256.90" x2="471.25" y2="256.90" stroke="#222" stroke-width="0.95" />
<line x1="469.75" y1="255.40" x2="469.75" y2="258.40" stroke="#222" stroke-width="0.95" />
<circle cx="469.75" cy="256.90" r="0.75" fill="#222"/>
<line x1="480.25" y1="256.90" x2="482.25" y2="256.90" stroke="#333" stroke-width="1.0" />
<line x1="487.10" y1="256.90" x2="489.10" y2="256.90" stroke="#333" stroke-width="1.0" />
<line x1="500.90" y1="256.90" x2="502.90" y2="256.90" stroke="#333" stroke-width="1.0" />
<line x1="507.75" y1="256.90" x2="509.75" y2="256.90" stroke="#333" stroke-width="1.0" />
<line x1="460.40" y1="265.90" x2="463.40" y2="265.90" stroke="#222" stroke-width="0.95" />
<line x1="461.90" y1="264.40" x2="461.90" y2="267.40" stroke="#222" stroke-width="0.95" />
<circle cx="461.90" cy="265.90" r="0.75" fill="#222"/>
<line x1="468.25" y1="265.90" x2="471.25" y2="265.90" stroke="#222" stroke-width="0.95" />
<line x1="469.75" y1="264.40" x2="469.75" y2="267.40" stroke="#222" stroke-width="0.95" />
<circle cx="469.75" cy="265.90" r="0.75" fill="#222"/>
<line x1="479.75" y1="265.90" x2="482.75" y2="265.90" stroke="#222" stroke-width="0.95" />
<line x1="481.25" y1="264.40" x2="481.25" y2="267.40" stroke="#222" stroke-width="0.95" />
<circle cx="481.25" cy="265.90" r="0.75" fill="#222"/>
<line x1="486.60" y1="265.90" x2="489.60" y2="265.90" stroke="#222" stroke-width="0.95" />
<line x1="488.10" y1="264.40" x2="488.10" y2="267.40" stroke="#222" stroke-width="0.95" />
<circle cx="488.10" cy="265.90" r="0.75" fill="#222"/>
<line x1="500.40" y1="265.90" x2="503.40" y2="265.90" stroke="#222" stroke-width="0.95" />
<line x1="501.90" y1="264.40" x2="501.90" y2="267.40" stroke="#222" stroke-width="0.95" />
<circle cx="501.90" cy="265.90" r="0.75" fill="#222"/>
<line x1="507.25" y1="265.90" x2="510.25" y2="265.90" stroke="#222" stroke-width="0.95" />
<line x1="508.75" y1="264.40" x2="508.75" y2="267.40" stroke="#222" stroke-width="0.95" />
<circle cx="508.75" cy="265.90" r="0.75" fill="#222"/>
<line x1="460.90" y1="275.00" x2="462.90" y2="275.00" stroke="#333" stroke-width="1.0" />
<line x1="468.25" y1="275.00" x2="471.25" y2="275.00" stroke="#222" stroke-width="0.95" />
<line x1="469.75" y1="273.50" x2="469.75" y2="276.50" stroke="#222" stroke-width="0.95" />
<circle cx="469.75" cy="275.00" r="0.75" fill="#222"/>
<line x1="480.25" y1="275.00" x2="482.25" y2="275.00" stroke="#333" stroke-width="1.0" />
<line x1="486.60" y1="275.00" x2="489.60" y2="275.00" stroke="#222" stroke-width="0.95" />
<line x1="488.10" y1="273.50" x2="488.10" y2="276.50" stroke="#222" stroke-width="0.95" />
<circle cx="488.10" cy="275.00" r="0.75" fill="#222"/>
<line x1="500.90" y1="275.00" x2="502.90" y2="275.00" stroke="#333" stroke-width="1.0" />
<line x1="507.25" y1="275.00" x2="510.25" y2="275.00" stroke="#222" stroke-width="0.95" />
<line x1="508.75" y1="273.50" x2="508.75" y2="276.50" stroke="#222" stroke-width="0.95" />
<circle cx="508.75" cy="275.00" r="0.75" fill="#222"/>
<line x1="461.90" y1="202.80" x2="469.75" y2="198.67" stroke="#111" stroke-width="0.8" />
<line x1="461.90" y1="204.35" x2="469.75" y2="200.74" stroke="#111" stroke-width="0.8" />
<line x1="461.90" y1="205.91" x2="469.75" y2="201.77" stroke="#111" stroke-width="0.8" />
<line x1="461.90" y1="206.94" x2="469.75" y2="204.35" stroke="#111" stroke-width="0.8" />
<line x1="461.90" y1="207.97" x2="469.75" y2="206.94" stroke="#111" stroke-width="0.8" />
<line x1="461.90" y1="209.53" x2="469.75" y2="207.97" stroke="#111" stroke-width="0.8" />
<line x1="461.90" y1="212.11" x2="469.75" y2="201.77" stroke="#111" stroke-width="0.8" />
<line x1="461.90" y1="214.18" x2="469.75" y2="205.91" stroke="#111" stroke-width="0.8" />
<line x1="461.90" y1="220.90" x2="469.75" y2="230.21" stroke="#111" stroke-width="0.8" />
<line x1="461.90" y1="230.72" x2="469.75" y2="207.97" stroke="#111" stroke-width="0.8" />
<line x1="461.90" y1="225.03" x2="469.75" y2="225.03" stroke="#111" stroke-width="0.8" />
<line x1="481.25" y1="203.84" x2="488.10" y2="198.15" stroke="#111" stroke-width="0.8" />
<line x1="481.25" y1="205.91" x2="488.10" y2="200.74" stroke="#111" stroke-width="0.8" />
<line x1="481.25" y1="206.94" x2="488.10" y2="202.80" stroke="#111" stroke-width="0.8" />
<line x1="481.25" y1="209.01" x2="488.10" y2="204.35" stroke="#111" stroke-width="0.8" />
<line x1="481.25" y1="211.08" x2="488.10" y2="206.94" stroke="#111" stroke-width="0.8" />
<line x1="481.25" y1="212.11" x2="488.10" y2="209.53" stroke="#111" stroke-width="0.8" />
<line x1="481.25" y1="213.14" x2="488.10" y2="225.55" stroke="#111" stroke-width="0.8" />
<line x1="481.25" y1="243.13" x2="488.10" y2="198.67" stroke="#111" stroke-width="0.8" />
<line x1="481.25" y1="209.53" x2="488.10" y2="210.56" stroke="#111" stroke-width="0.8" />
<line x1="501.50" y1="199.91" x2="508.95" y2="199.91" stroke="#111" stroke-width="0.8" />
<line x1="501.50" y1="200.22" x2="508.95" y2="200.22" stroke="#111" stroke-width="0.8" />
<line x1="501.50" y1="207.97" x2="508.95" y2="207.97" stroke="#111" stroke-width="0.8" />
<line x1="501.50" y1="215.73" x2="508.95" y2="207.97" stroke="#111" stroke-width="0.8" />
<line x1="501.50" y1="215.73" x2="508.95" y2="215.73" stroke="#111" stroke-width="0.8" />
<line x1="501.50" y1="216.25" x2="508.95" y2="212.11" stroke="#111" stroke-width="0.8" />
<line x1="501.50" y1="221.93" x2="508.95" y2="221.93" stroke="#111" stroke-width="0.8" />
<line x1="501.50" y1="229.69" x2="508.95" y2="221.93" stroke="#111" stroke-width="0.8" />
<line x1="501.50" y1="229.69" x2="508.95" y2="229.69" stroke="#111" stroke-width="0.8" />
<text x="27" y="259.4" font-size="7.0" text-anchor="end" fill="#000" stroke="#000" stroke-width="0.12" >NKG2C:</text>
<text x="27" y="268.6" font-size="7.0" text-anchor="end" fill="#000" stroke="#000" stroke-width="0.12" >KIR:</text>
<text x="27" y="277.4" font-size="7.0" text-anchor="end" fill="#000" stroke="#000" stroke-width="0.12" >Outlier:</text>
<text x="13.6" y="300.2" font-size="11.2" font-weight="bold" fill="#000" >C</text>
<text x="100" y="304.6" font-size="8.4" text-anchor="middle" fill="#000" stroke="#000" stroke-width="0.12" >IL-12 / IL-18</text>
<line x1="46.40" y1="308.80" x2="46.40" y2="383.90" stroke="#111" stroke-width="1.2" />
<line x1="46.40" y1="383.90" x2="152.50" y2="383.90" stroke="#111" stroke-width="1.25" />
<line x1="44.80" y1="383.90" x2="46.40" y2="383.90" stroke="#222" stroke-width="0.8" />
<text x="43.8" y="385.2" font-size="6.0" text-anchor="end" fill="#000" letter-spacing="-0.3">0</text>
<line x1="44.80" y1="365.12" x2="46.40" y2="365.12" stroke="#222" stroke-width="0.8" />
<text x="43.8" y="366.43" font-size="6.0" text-anchor="end" fill="#000" letter-spacing="-0.3">10</text>
<line x1="44.80" y1="346.35" x2="46.40" y2="346.35" stroke="#222" stroke-width="0.8" />
<text x="43.8" y="347.65" font-size="6.0" text-anchor="end" fill="#000" letter-spacing="-0.3">20</text>
<line x1="44.80" y1="327.57" x2="46.40" y2="327.57" stroke="#222" stroke-width="0.8" />
<text x="43.8" y="328.88" font-size="6.0" text-anchor="end" fill="#000" letter-spacing="-0.3">30</text>
<line x1="44.80" y1="308.80" x2="46.40" y2="308.80" stroke="#222" stroke-width="0.8" />
<text x="43.8" y="310.1" font-size="6.0" text-anchor="end" fill="#000" letter-spacing="-0.3">40</text>
<line x1="99.90" y1="309.20" x2="99.90" y2="383.90" stroke="#111" stroke-width="1.7" stroke-dasharray="2.9,1.6"/>
<text x="0" y="0" font-size="9.3" text-anchor="middle" fill="#000" stroke="#000" stroke-width="0.12" transform="translate(33.2,345.2) rotate(-90)" textLength="40.5" lengthAdjust="spacingAndGlyphs">% IFN-γ+</text>
<circle cx="69.90" cy="316.2" r="1.2" fill="#111"/>
<circle cx="73.50" cy="316.2" r="1.2" fill="#111"/>
<circle cx="77.10" cy="316.2" r="1.2" fill="#111"/>
<circle cx="123.80" cy="329.5" r="1.2" fill="#111"/>
<circle cx="127.40" cy="329.5" r="1.2" fill="#111"/>
<line x1="62.40" y1="383.90" x2="62.40" y2="385.40" stroke="#333" stroke-width="0.7" />
<line x1="83.80" y1="383.90" x2="83.80" y2="385.40" stroke="#333" stroke-width="0.7" />
<line x1="115.40" y1="383.90" x2="115.40" y2="385.40" stroke="#333" stroke-width="0.7" />
<line x1="137.60" y1="383.90" x2="137.60" y2="385.40" stroke="#333" stroke-width="0.7" />
<text x="50" y="392.2" font-size="7.0" text-anchor="end" fill="#000" stroke="#000" stroke-width="0.12" >NKG2C:</text>
<line x1="61.40" y1="391.20" x2="63.40" y2="391.20" stroke="#333" stroke-width="1.0" />
<line x1="82.30" y1="391.20" x2="85.30" y2="391.20" stroke="#222" stroke-width="0.95" />
<line x1="83.80" y1="389.70" x2="83.80" y2="392.70" stroke="#222" stroke-width="0.95" />
<circle cx="83.80" cy="391.20" r="0.75" fill="#222"/>
<line x1="114.40" y1="391.20" x2="116.40" y2="391.20" stroke="#333" stroke-width="1.0" />
<line x1="136.60" y1="391.20" x2="138.60" y2="391.20" stroke="#333" stroke-width="1.0" />
<text x="50" y="401.3" font-size="7.0" text-anchor="end" fill="#000" stroke="#000" stroke-width="0.12" >KIR:</text>
<line x1="60.90" y1="399.80" x2="63.90" y2="399.80" stroke="#222" stroke-width="0.95" />
<line x1="62.40" y1="398.30" x2="62.40" y2="401.30" stroke="#222" stroke-width="0.95" />
<circle cx="62.40" cy="399.80" r="0.75" fill="#222"/>
<line x1="82.30" y1="399.80" x2="85.30" y2="399.80" stroke="#222" stroke-width="0.95" />
<line x1="83.80" y1="398.30" x2="83.80" y2="401.30" stroke="#222" stroke-width="0.95" />
<circle cx="83.80" cy="399.80" r="0.75" fill="#222"/>
<line x1="113.90" y1="399.80" x2="116.90" y2="399.80" stroke="#222" stroke-width="0.95" />
<line x1="115.40" y1="398.30" x2="115.40" y2="401.30" stroke="#222" stroke-width="0.95" />
<circle cx="115.40" cy="399.80" r="0.75" fill="#222"/>
<line x1="136.10" y1="399.80" x2="139.10" y2="399.80" stroke="#222" stroke-width="0.95" />
<line x1="137.60" y1="398.30" x2="137.60" y2="401.30" stroke="#222" stroke-width="0.95" />
<circle cx="137.60" cy="399.80" r="0.75" fill="#222"/>
<text x="48.6" y="410.4" font-size="7.0" text-anchor="end" fill="#000" stroke="#000" stroke-width="0.12" >Expansion:</text>
<line x1="61.40" y1="408.90" x2="63.40" y2="408.90" stroke="#333" stroke-width="1.0" />
<line x1="82.30" y1="408.90" x2="85.30" y2="408.90" stroke="#222" stroke-width="0.95" />
<line x1="83.80" y1="407.40" x2="83.80" y2="410.40" stroke="#222" stroke-width="0.95" />
<circle cx="83.80" cy="408.90" r="0.75" fill="#222"/>
<line x1="114.40" y1="408.90" x2="116.40" y2="408.90" stroke="#333" stroke-width="1.0" />
<line x1="136.10" y1="408.90" x2="139.10" y2="408.90" stroke="#222" stroke-width="0.95" />
<line x1="137.60" y1="407.40" x2="137.60" y2="410.40" stroke="#222" stroke-width="0.95" />
<circle cx="137.60" cy="408.90" r="0.75" fill="#222"/>
<line x1="62.40" y1="321.94" x2="83.80" y2="375.45" stroke="#111" stroke-width="1.15" />
<line x1="62.40" y1="333.21" x2="83.80" y2="381.08" stroke="#111" stroke-width="1.15" />
<line x1="62.40" y1="359.49" x2="83.80" y2="382.02" stroke="#111" stroke-width="1.15" />
<line x1="62.40" y1="361.37" x2="83.80" y2="382.96" stroke="#111" stroke-width="1.15" />
<line x1="62.40" y1="364.75" x2="83.80" y2="382.02" stroke="#111" stroke-width="1.15" />
<line x1="62.40" y1="367.00" x2="83.80" y2="382.96" stroke="#111" stroke-width="1.15" />
<line x1="62.40" y1="369.63" x2="83.80" y2="382.40" stroke="#111" stroke-width="1.15" />
<line x1="62.40" y1="372.26" x2="83.80" y2="383.34" stroke="#111" stroke-width="1.15" />
<line x1="62.40" y1="374.14" x2="83.80" y2="382.96" stroke="#111" stroke-width="1.15" />
<line x1="62.40" y1="375.45" x2="83.80" y2="383.52" stroke="#111" stroke-width="1.15" />
<line x1="115.40" y1="336.96" x2="137.60" y2="356.68" stroke="#111" stroke-width="1.15" />
<line x1="115.40" y1="341.66" x2="137.60" y2="376.39" stroke="#111" stroke-width="1.15" />
<line x1="115.40" y1="344.47" x2="137.60" y2="381.08" stroke="#111" stroke-width="1.15" />
<line x1="115.40" y1="360.43" x2="137.60" y2="380.14" stroke="#111" stroke-width="1.15" />
<line x1="115.40" y1="362.68" x2="137.60" y2="382.02" stroke="#111" stroke-width="1.15" />
<line x1="115.40" y1="365.12" x2="137.60" y2="381.08" stroke="#111" stroke-width="1.15" />
<line x1="115.40" y1="367.75" x2="137.60" y2="382.96" stroke="#111" stroke-width="1.15" />
<line x1="115.40" y1="370.01" x2="137.60" y2="382.96" stroke="#111" stroke-width="1.15" />
<line x1="115.40" y1="371.70" x2="137.60" y2="383.34" stroke="#111" stroke-width="1.15" />
<text x="205.6" y="300.2" font-size="11.2" font-weight="bold" fill="#000" >D</text>
<text x="288.2" y="307.4" font-size="8.4" text-anchor="middle" fill="#000" stroke="#000" stroke-width="0.12" >RAJI + rituximab</text>
<line x1="239.50" y1="309.60" x2="239.50" y2="384.20" stroke="#111" stroke-width="1.2" />
<line x1="239.50" y1="384.20" x2="338.00" y2="384.20" stroke="#111" stroke-width="1.25" />
<line x1="237.90" y1="384.20" x2="239.50" y2="384.20" stroke="#222" stroke-width="0.8" />
<text x="236.7" y="385.5" font-size="6.0" text-anchor="end" fill="#000" letter-spacing="-0.3">0</text>
<line x1="237.90" y1="369.28" x2="239.50" y2="369.28" stroke="#222" stroke-width="0.8" />
<text x="236.7" y="370.58" font-size="6.0" text-anchor="end" fill="#000" letter-spacing="-0.3">20</text>
<line x1="237.90" y1="354.36" x2="239.50" y2="354.36" stroke="#222" stroke-width="0.8" />
<text x="236.7" y="355.66" font-size="6.0" text-anchor="end" fill="#000" letter-spacing="-0.3">40</text>
<line x1="237.90" y1="339.44" x2="239.50" y2="339.44" stroke="#222" stroke-width="0.8" />
<text x="236.7" y="340.74" font-size="6.0" text-anchor="end" fill="#000" letter-spacing="-0.3">60</text>
<line x1="237.90" y1="324.52" x2="239.50" y2="324.52" stroke="#222" stroke-width="0.8" />
<text x="236.7" y="325.82" font-size="6.0" text-anchor="end" fill="#000" letter-spacing="-0.3">80</text>
<line x1="237.90" y1="309.60" x2="239.50" y2="309.60" stroke="#222" stroke-width="0.8" />
<text x="236.7" y="310.9" font-size="6.0" text-anchor="end" fill="#000" letter-spacing="-0.3">100</text>
<line x1="290.40" y1="310.00" x2="290.40" y2="384.20" stroke="#111" stroke-width="1.7" stroke-dasharray="2.9,1.6"/>
<text x="0" y="0" font-size="9.3" text-anchor="middle" fill="#000" stroke="#000" stroke-width="0.12" transform="translate(222.6,349.5) rotate(-90)" textLength="50.4" lengthAdjust="spacingAndGlyphs">% CD107a+</text>
<circle cx="262.30" cy="314.9" r="1.2" fill="#111"/>
<circle cx="266.10" cy="314.9" r="1.2" fill="#111"/>
<circle cx="316.20" cy="322.8" r="1.2" fill="#111"/>
<line x1="255.20" y1="384.20" x2="255.20" y2="385.70" stroke="#333" stroke-width="0.7" />
<line x1="276.50" y1="384.20" x2="276.50" y2="385.70" stroke="#333" stroke-width="0.7" />
<line x1="308.20" y1="384.20" x2="308.20" y2="385.70" stroke="#333" stroke-width="0.7" />
<line x1="330.20" y1="384.20" x2="330.20" y2="385.70" stroke="#333" stroke-width="0.7" />
<text x="241.5" y="395.6" font-size="6.5" text-anchor="end" fill="#000" stroke="#000" stroke-width="0.12" >NKG2C:</text>
<line x1="254.20" y1="392.80" x2="256.20" y2="392.80" stroke="#333" stroke-width="1.0" />
<line x1="275.00" y1="392.80" x2="278.00" y2="392.80" stroke="#222" stroke-width="0.95" />
<line x1="276.50" y1="391.30" x2="276.50" y2="394.30" stroke="#222" stroke-width="0.95" />
<circle cx="276.50" cy="392.80" r="0.75" fill="#222"/>
<line x1="307.20" y1="392.80" x2="309.20" y2="392.80" stroke="#333" stroke-width="1.0" />
<line x1="329.20" y1="392.80" x2="331.20" y2="392.80" stroke="#333" stroke-width="1.0" />
<text x="241.5" y="404.75" font-size="6.5" text-anchor="end" fill="#000" stroke="#000" stroke-width="0.12" >KIR:</text>
<line x1="253.70" y1="401.90" x2="256.70" y2="401.90" stroke="#222" stroke-width="0.95" />
<line x1="255.20" y1="400.40" x2="255.20" y2="403.40" stroke="#222" stroke-width="0.95" />
<circle cx="255.20" cy="401.90" r="0.75" fill="#222"/>
<line x1="275.00" y1="401.90" x2="278.00" y2="401.90" stroke="#222" stroke-width="0.95" />
<line x1="276.50" y1="400.40" x2="276.50" y2="403.40" stroke="#222" stroke-width="0.95" />
<circle cx="276.50" cy="401.90" r="0.75" fill="#222"/>
<line x1="306.70" y1="401.90" x2="309.70" y2="401.90" stroke="#222" stroke-width="0.95" />
<line x1="308.20" y1="400.40" x2="308.20" y2="403.40" stroke="#222" stroke-width="0.95" />
<circle cx="308.20" cy="401.90" r="0.75" fill="#222"/>
<line x1="328.70" y1="401.90" x2="331.70" y2="401.90" stroke="#222" stroke-width="0.95" />
<line x1="330.20" y1="400.40" x2="330.20" y2="403.40" stroke="#222" stroke-width="0.95" />
<circle cx="330.20" cy="401.90" r="0.75" fill="#222"/>
<text x="238.8" y="413.4" font-size="6.5" text-anchor="end" fill="#000" stroke="#000" stroke-width="0.12" >Expansion:</text>
<line x1="254.20" y1="411.20" x2="256.20" y2="411.20" stroke="#333" stroke-width="1.0" />
<line x1="275.00" y1="411.20" x2="278.00" y2="411.20" stroke="#222" stroke-width="0.95" />
<line x1="276.50" y1="409.70" x2="276.50" y2="412.70" stroke="#222" stroke-width="0.95" />
<circle cx="276.50" cy="411.20" r="0.75" fill="#222"/>
<line x1="307.20" y1="411.20" x2="309.20" y2="411.20" stroke="#333" stroke-width="1.0" />
<line x1="328.70" y1="411.20" x2="331.70" y2="411.20" stroke="#222" stroke-width="0.95" />
<line x1="330.20" y1="409.70" x2="330.20" y2="412.70" stroke="#222" stroke-width="0.95" />
<circle cx="330.20" cy="411.20" r="0.75" fill="#222"/>
<line x1="255.20" y1="342.42" x2="276.50" y2="322.28" stroke="#111" stroke-width="1.2" />
<line x1="255.20" y1="349.88" x2="276.50" y2="327.50" stroke="#111" stroke-width="1.2" />
<line x1="255.20" y1="346.90" x2="276.50" y2="335.71" stroke="#111" stroke-width="1.2" />
<line x1="255.20" y1="349.14" x2="276.50" y2="338.69" stroke="#111" stroke-width="1.2" />
<line x1="255.20" y1="346.90" x2="276.50" y2="346.53" stroke="#111" stroke-width="1.2" />
<line x1="255.20" y1="355.11" x2="276.50" y2="347.65" stroke="#111" stroke-width="1.2" />
<line x1="255.20" y1="359.21" x2="276.50" y2="348.39" stroke="#111" stroke-width="1.2" />
<line x1="255.20" y1="358.46" x2="276.50" y2="358.46" stroke="#111" stroke-width="1.2" />
<line x1="255.20" y1="359.21" x2="276.50" y2="362.57" stroke="#111" stroke-width="1.2" />
<line x1="255.20" y1="367.79" x2="276.50" y2="352.87" stroke="#111" stroke-width="1.2" />
<line x1="255.20" y1="372.26" x2="276.50" y2="354.36" stroke="#111" stroke-width="1.2" />
<line x1="255.20" y1="357.34" x2="276.50" y2="350.63" stroke="#111" stroke-width="1.2" />
<line x1="308.20" y1="340.48" x2="330.20" y2="332.43" stroke="#111" stroke-width="1.2" />
<line x1="308.20" y1="357.72" x2="330.20" y2="338.10" stroke="#111" stroke-width="1.2" />
<line x1="308.20" y1="359.58" x2="330.20" y2="352.12" stroke="#111" stroke-width="1.2" />
<line x1="308.20" y1="360.18" x2="330.20" y2="354.36" stroke="#111" stroke-width="1.2" />
<line x1="308.20" y1="360.70" x2="330.20" y2="356.60" stroke="#111" stroke-width="1.2" />
<line x1="308.20" y1="361.07" x2="330.20" y2="358.84" stroke="#111" stroke-width="1.2" />
<line x1="308.20" y1="361.07" x2="330.20" y2="362.19" stroke="#111" stroke-width="1.2" />
<line x1="308.20" y1="365.03" x2="330.20" y2="368.76" stroke="#111" stroke-width="1.2" />
<line x1="308.20" y1="371.89" x2="330.20" y2="363.09" stroke="#111" stroke-width="1.2" />
</svg>
</body></html>
